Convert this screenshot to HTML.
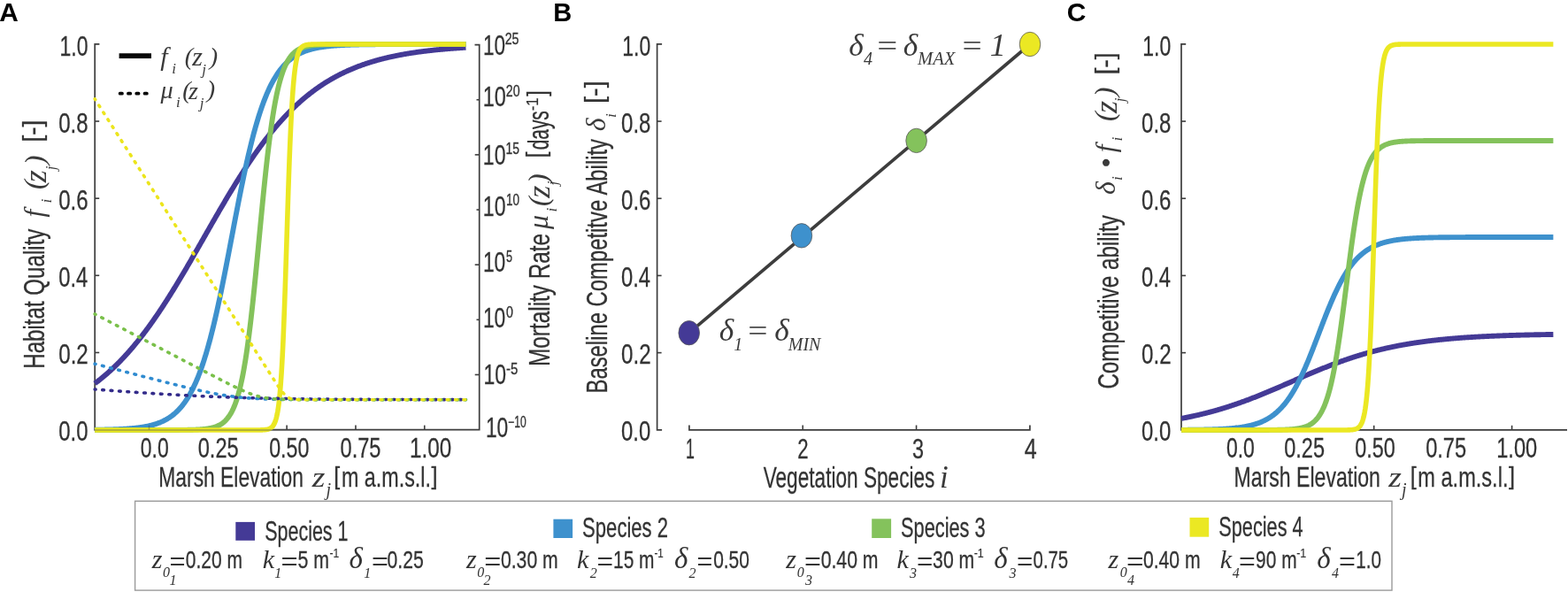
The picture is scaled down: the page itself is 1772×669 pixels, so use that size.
<!DOCTYPE html>
<html><head><meta charset="utf-8"><title>Figure</title>
<style>html,body{margin:0;padding:0;background:#fff;}svg{display:block}</style>
</head><body>
<svg width="1772" height="669" viewBox="0 0 1772 669">
<rect width="1772" height="669" fill="#fff"/>
<text x="-0.75" y="23.90" font-family="'Liberation Sans', Arial, sans-serif" font-size="29.30" font-weight="bold" textLength="21.56" lengthAdjust="spacingAndGlyphs" fill="#000">A</text>
<text x="625.34" y="23.90" font-family="'Liberation Sans', Arial, sans-serif" font-size="29.30" font-weight="bold" textLength="20.96" lengthAdjust="spacingAndGlyphs" fill="#000">B</text>
<text x="1205.80" y="23.90" font-family="'Liberation Sans', Arial, sans-serif" font-size="29.30" font-weight="bold" textLength="21.61" lengthAdjust="spacingAndGlyphs" fill="#000">C</text>
<path d="M112.4,49.9 H107.2 V485.6 H541.7 V50.6 H536.5" fill="none" stroke="#3c3c3c" stroke-width="1.7"/>
<line x1="107.20" y1="398.46" x2="112.20" y2="398.46" stroke="#3c3c3c" stroke-width="1.6"/>
<line x1="107.20" y1="311.32" x2="112.20" y2="311.32" stroke="#3c3c3c" stroke-width="1.6"/>
<line x1="107.20" y1="224.18" x2="112.20" y2="224.18" stroke="#3c3c3c" stroke-width="1.6"/>
<line x1="107.20" y1="137.04" x2="112.20" y2="137.04" stroke="#3c3c3c" stroke-width="1.6"/>
<line x1="168.50" y1="485.60" x2="168.50" y2="480.60" stroke="#3c3c3c" stroke-width="1.6"/>
<line x1="324.12" y1="485.60" x2="324.12" y2="480.60" stroke="#3c3c3c" stroke-width="1.6"/>
<line x1="401.94" y1="485.60" x2="401.94" y2="480.60" stroke="#3c3c3c" stroke-width="1.6"/>
<line x1="479.75" y1="485.60" x2="479.75" y2="480.60" stroke="#3c3c3c" stroke-width="1.6"/>
<line x1="536.70" y1="423.46" x2="541.70" y2="423.46" stroke="#3c3c3c" stroke-width="1.6"/>
<line x1="538.50" y1="361.31" x2="541.70" y2="361.31" stroke="#3c3c3c" stroke-width="1.6"/>
<line x1="536.70" y1="299.17" x2="541.70" y2="299.17" stroke="#3c3c3c" stroke-width="1.6"/>
<line x1="538.50" y1="237.03" x2="541.70" y2="237.03" stroke="#3c3c3c" stroke-width="1.6"/>
<line x1="536.70" y1="174.89" x2="541.70" y2="174.89" stroke="#3c3c3c" stroke-width="1.6"/>
<line x1="538.50" y1="112.74" x2="541.70" y2="112.74" stroke="#3c3c3c" stroke-width="1.6"/>
<text x="66.24" y="498.20" font-family="'Liberation Sans', Arial, sans-serif" font-size="31.20" textLength="33.26" lengthAdjust="spacingAndGlyphs" fill="#333333" stroke="#333333" stroke-width="0.3">0.0</text>
<text x="66.23" y="411.06" font-family="'Liberation Sans', Arial, sans-serif" font-size="31.20" textLength="33.58" lengthAdjust="spacingAndGlyphs" fill="#333333" stroke="#333333" stroke-width="0.3">0.2</text>
<text x="66.25" y="323.92" font-family="'Liberation Sans', Arial, sans-serif" font-size="31.20" textLength="33.01" lengthAdjust="spacingAndGlyphs" fill="#333333" stroke="#333333" stroke-width="0.3">0.4</text>
<text x="66.24" y="236.78" font-family="'Liberation Sans', Arial, sans-serif" font-size="31.20" textLength="33.39" lengthAdjust="spacingAndGlyphs" fill="#333333" stroke="#333333" stroke-width="0.3">0.6</text>
<text x="66.24" y="149.64" font-family="'Liberation Sans', Arial, sans-serif" font-size="31.20" textLength="33.39" lengthAdjust="spacingAndGlyphs" fill="#333333" stroke="#333333" stroke-width="0.3">0.8</text>
<text x="67.47" y="62.50" font-family="'Liberation Sans', Arial, sans-serif" font-size="31.20" textLength="31.99" lengthAdjust="spacingAndGlyphs" fill="#333333" stroke="#333333" stroke-width="0.3">1.0</text>
<text x="158.78" y="517.20" font-family="'Liberation Sans', Arial, sans-serif" font-size="30.60" textLength="31.88" lengthAdjust="spacingAndGlyphs" fill="#333333" stroke="#333333" stroke-width="0.3">0.0</text>
<text x="223.76" y="517.20" font-family="'Liberation Sans', Arial, sans-serif" font-size="30.60" textLength="45.92" lengthAdjust="spacingAndGlyphs" fill="#333333" stroke="#333333" stroke-width="0.3">0.25</text>
<text x="304.17" y="517.20" font-family="'Liberation Sans', Arial, sans-serif" font-size="30.60" textLength="45.13" lengthAdjust="spacingAndGlyphs" fill="#333333" stroke="#333333" stroke-width="0.3">0.50</text>
<text x="384.56" y="517.20" font-family="'Liberation Sans', Arial, sans-serif" font-size="30.60" textLength="45.92" lengthAdjust="spacingAndGlyphs" fill="#333333" stroke="#333333" stroke-width="0.3">0.75</text>
<text x="463.08" y="517.20" font-family="'Liberation Sans', Arial, sans-serif" font-size="30.60" textLength="47.16" lengthAdjust="spacingAndGlyphs" fill="#333333" stroke="#333333" stroke-width="0.3">1.00</text>
<text x="546.01" y="62.10" font-family="'Liberation Sans', Arial, sans-serif" font-size="31.60" textLength="25.09" lengthAdjust="spacingAndGlyphs" fill="#333333" stroke="#333333" stroke-width="0.3">10</text>
<text x="570.69" y="50.10" font-family="'Liberation Sans', Arial, sans-serif" font-size="18.00" textLength="15.81" lengthAdjust="spacingAndGlyphs" fill="#333333" stroke="#333333" stroke-width="0.35">25</text>
<text x="545.84" y="119.80" font-family="'Liberation Sans', Arial, sans-serif" font-size="31.60" textLength="26.09" lengthAdjust="spacingAndGlyphs" fill="#333333" stroke="#333333" stroke-width="0.3">10</text>
<text x="571.79" y="109.00" font-family="'Liberation Sans', Arial, sans-serif" font-size="18.00" textLength="15.77" lengthAdjust="spacingAndGlyphs" fill="#333333" stroke="#333333" stroke-width="0.35">20</text>
<text x="545.87" y="185.60" font-family="'Liberation Sans', Arial, sans-serif" font-size="31.60" textLength="25.65" lengthAdjust="spacingAndGlyphs" fill="#333333" stroke="#333333" stroke-width="0.3">10</text>
<text x="571.46" y="173.80" font-family="'Liberation Sans', Arial, sans-serif" font-size="18.00" textLength="15.43" lengthAdjust="spacingAndGlyphs" fill="#333333" stroke="#333333" stroke-width="0.35">15</text>
<text x="545.87" y="243.50" font-family="'Liberation Sans', Arial, sans-serif" font-size="31.60" textLength="25.65" lengthAdjust="spacingAndGlyphs" fill="#333333" stroke="#333333" stroke-width="0.3">10</text>
<text x="571.98" y="231.70" font-family="'Liberation Sans', Arial, sans-serif" font-size="18.00" textLength="15.05" lengthAdjust="spacingAndGlyphs" fill="#333333" stroke="#333333" stroke-width="0.35">10</text>
<text x="545.89" y="306.60" font-family="'Liberation Sans', Arial, sans-serif" font-size="31.60" textLength="25.42" lengthAdjust="spacingAndGlyphs" fill="#333333" stroke="#333333" stroke-width="0.3">10</text>
<text x="572.09" y="295.80" font-family="'Liberation Sans', Arial, sans-serif" font-size="18.00" textLength="7.03" lengthAdjust="spacingAndGlyphs" fill="#333333" stroke="#333333" stroke-width="0.35">5</text>
<text x="545.89" y="369.50" font-family="'Liberation Sans', Arial, sans-serif" font-size="31.60" textLength="25.42" lengthAdjust="spacingAndGlyphs" fill="#333333" stroke="#333333" stroke-width="0.3">10</text>
<text x="572.03" y="358.90" font-family="'Liberation Sans', Arial, sans-serif" font-size="18.00" textLength="7.92" lengthAdjust="spacingAndGlyphs" fill="#333333" stroke="#333333" stroke-width="0.35">0</text>
<text x="546.48" y="433.70" font-family="'Liberation Sans', Arial, sans-serif" font-size="31.60" textLength="25.54" lengthAdjust="spacingAndGlyphs" fill="#333333" stroke="#333333" stroke-width="0.3">10</text>
<text x="571.93" y="423.40" font-family="'Liberation Sans', Arial, sans-serif" font-size="18.00" textLength="13.30" lengthAdjust="spacingAndGlyphs" fill="#333333" stroke="#333333" stroke-width="0.35">-5</text>
<text x="548.89" y="493.50" font-family="'Liberation Sans', Arial, sans-serif" font-size="31.60" textLength="25.42" lengthAdjust="spacingAndGlyphs" fill="#333333" stroke="#333333" stroke-width="0.3">10</text>
<text x="574.30" y="482.90" font-family="'Liberation Sans', Arial, sans-serif" font-size="18.00" textLength="20.47" lengthAdjust="spacingAndGlyphs" fill="#333333" stroke="#333333" stroke-width="0.35">−10</text>
<polyline points="107.18,433.34 107.78,432.89 108.38,432.44 108.98,431.99 109.58,431.53 110.18,431.07 110.78,430.60 111.38,430.14 111.98,429.67 112.57,429.19 113.17,428.72 113.77,428.24 114.37,427.75 114.97,427.27 115.57,426.77 116.17,426.28 116.77,425.78 117.37,425.28 117.96,424.78 118.56,424.27 119.16,423.76 119.76,423.24 120.36,422.72 120.96,422.20 121.56,421.68 122.16,421.15 122.76,420.61 123.35,420.08 123.95,419.54 124.55,418.99 125.15,418.45 125.75,417.89 126.35,417.34 126.95,416.78 127.55,416.22 128.15,415.65 128.75,415.08 129.34,414.51 129.94,413.93 130.54,413.35 131.14,412.77 131.74,412.18 132.34,411.59 132.94,410.99 133.54,410.39 134.14,409.79 134.73,409.18 135.33,408.57 135.93,407.96 136.53,407.34 137.13,406.72 137.73,406.09 138.33,405.46 138.93,404.83 139.53,404.19 140.13,403.55 140.72,402.90 141.32,402.25 141.92,401.60 142.52,400.95 143.12,400.28 143.72,399.62 144.32,398.95 144.92,398.28 145.52,397.60 146.11,396.92 146.71,396.24 147.31,395.55 147.91,394.86 148.51,394.16 149.11,393.47 149.71,392.76 150.31,392.05 150.91,391.34 151.50,390.63 152.10,389.91 152.70,389.19 153.30,388.46 153.90,387.73 154.50,387.00 155.10,386.26 155.70,385.52 156.30,384.77 156.90,384.02 157.49,383.27 158.09,382.51 158.69,381.75 159.29,380.98 159.89,380.21 160.49,379.44 161.09,378.66 161.69,377.88 162.29,377.10 162.88,376.31 163.48,375.52 164.08,374.72 164.68,373.92 165.28,373.12 165.88,372.32 166.48,371.50 167.08,370.69 167.68,369.87 168.28,369.05 168.87,368.23 169.47,367.40 170.07,366.56 170.67,365.73 171.27,364.89 171.87,364.05 172.47,363.20 173.07,362.35 173.67,361.49 174.26,360.64 174.86,359.77 175.46,358.91 176.06,358.04 176.66,357.17 177.26,356.30 177.86,355.42 178.46,354.54 179.06,353.65 179.65,352.76 180.25,351.87 180.85,350.97 181.45,350.08 182.05,349.17 182.65,348.27 183.25,347.36 183.85,346.45 184.45,345.54 185.05,344.62 185.64,343.70 186.24,342.77 186.84,341.85 187.44,340.92 188.04,339.98 188.64,339.05 189.24,338.11 189.84,337.17 190.44,336.22 191.03,335.28 191.63,334.33 192.23,333.37 192.83,332.42 193.43,331.46 194.03,330.50 194.63,329.53 195.23,328.57 195.83,327.60 196.42,326.63 197.02,325.65 197.62,324.67 198.22,323.70 198.82,322.71 199.42,321.73 200.02,320.74 200.62,319.76 201.22,318.76 201.82,317.77 202.41,316.78 203.01,315.78 203.61,314.78 204.21,313.78 204.81,312.78 205.41,311.77 206.01,310.76 206.61,309.75 207.21,308.74 207.80,307.73 208.40,306.71 209.00,305.70 209.60,304.68 210.20,303.66 210.80,302.64 211.40,301.61 212.00,300.59 212.60,299.56 213.20,298.54 213.79,297.51 214.39,296.48 214.99,295.45 215.59,294.41 216.19,293.38 216.79,292.34 217.39,291.31 217.99,290.27 218.59,289.23 219.18,288.19 219.78,287.15 220.38,286.11 220.98,285.07 221.58,284.03 222.18,282.98 222.78,281.94 223.38,280.90 223.98,279.85 224.57,278.80 225.17,277.76 225.77,276.71 226.37,275.66 226.97,274.62 227.57,273.57 228.17,272.52 228.77,271.47 229.37,270.42 229.97,269.37 230.56,268.33 231.16,267.28 231.76,266.23 232.36,265.18 232.96,264.13 233.56,263.08 234.16,262.03 234.76,260.99 235.36,259.94 235.95,258.89 236.55,257.85 237.15,256.80 237.75,255.75 238.35,254.71 238.95,253.66 239.55,252.62 240.15,251.58 240.75,250.53 241.34,249.49 241.94,248.45 242.54,247.41 243.14,246.37 243.74,245.34 244.34,244.30 244.94,243.26 245.54,242.23 246.14,241.19 246.74,240.16 247.33,239.13 247.93,238.10 248.53,237.07 249.13,236.05 249.73,235.02 250.33,234.00 250.93,232.97 251.53,231.95 252.13,230.93 252.72,229.92 253.32,228.90 253.92,227.89 254.52,226.87 255.12,225.86 255.72,224.86 256.32,223.85 256.92,222.84 257.52,221.84 258.12,220.84 258.71,219.84 259.31,218.85 259.91,217.85 260.51,216.86 261.11,215.87 261.71,214.88 262.31,213.90 262.91,212.91 263.51,211.93 264.10,210.95 264.70,209.98 265.30,209.01 265.90,208.04 266.50,207.07 267.10,206.10 267.70,205.14 268.30,204.18 268.90,203.22 269.49,202.27 270.09,201.31 270.69,200.36 271.29,199.42 271.89,198.48 272.49,197.53 273.09,196.60 273.69,195.66 274.29,194.73 274.89,193.80 275.48,192.88 276.08,191.95 276.68,191.03 277.28,190.12 277.88,189.20 278.48,188.29 279.08,187.39 279.68,186.48 280.28,185.58 280.87,184.69 281.47,183.79 282.07,182.90 282.67,182.01 283.27,181.13 283.87,180.25 284.47,179.37 285.07,178.50 285.67,177.63 286.26,176.76 286.86,175.90 287.46,175.04 288.06,174.18 288.66,173.33 289.26,172.48 289.86,171.63 290.46,170.79 291.06,169.95 291.66,169.12 292.25,168.29 292.85,167.46 293.45,166.64 294.05,165.82 294.65,165.00 295.25,164.19 295.85,163.38 296.45,162.57 297.05,161.77 297.64,160.97 298.24,160.18 298.84,159.39 299.44,158.60 300.04,157.82 300.64,157.04 301.24,156.27 301.84,155.49 302.44,154.73 303.04,153.96 303.63,153.20 304.23,152.45 304.83,151.70 305.43,150.95 306.03,150.20 306.63,149.46 307.23,148.73 307.83,147.99 308.43,147.26 309.02,146.54 309.62,145.82 310.22,145.10 310.82,144.39 311.42,143.68 312.02,142.97 312.62,142.27 313.22,141.57 313.82,140.88 314.41,140.19 315.01,139.50 315.61,138.82 316.21,138.14 316.81,137.46 317.41,136.79 318.01,136.13 318.61,135.46 319.21,134.81 319.81,134.15 320.40,133.50 321.00,132.85 321.60,132.21 322.20,131.57 322.80,130.93 323.40,130.30 324.00,129.67 324.60,129.05 325.20,128.43 325.79,127.81 326.39,127.20 326.99,126.59 327.59,125.98 328.19,125.38 328.79,124.78 329.39,124.19 329.99,123.60 330.59,123.01 331.19,122.43 331.78,121.85 332.38,121.27 332.98,120.70 333.58,120.13 334.18,119.57 334.78,119.01 335.38,118.45 335.98,117.90 336.58,117.35 337.17,116.80 337.77,116.26 338.37,115.72 338.97,115.18 339.57,114.65 340.17,114.12 340.77,113.60 341.37,113.08 341.97,112.56 342.56,112.05 343.16,111.54 343.76,111.03 344.36,110.53 344.96,110.03 345.56,109.53 346.16,109.04 346.76,108.55 347.36,108.06 347.96,107.58 348.55,107.10 349.15,106.63 349.75,106.15 350.35,105.68 350.95,105.22 351.55,104.76 352.15,104.30 352.75,103.84 353.35,103.39 353.94,102.94 354.54,102.49 355.14,102.05 355.74,101.61 356.34,101.18 356.94,100.74 357.54,100.31 358.14,99.89 358.74,99.46 359.33,99.04 359.93,98.63 360.53,98.21 361.13,97.80 361.73,97.39 362.33,96.99 362.93,96.59 363.53,96.19 364.13,95.79 364.73,95.40 365.32,95.01 365.92,94.62 366.52,94.24 367.12,93.86 367.72,93.48 368.32,93.10 368.92,92.73 369.52,92.36 370.12,92.00 370.71,91.63 371.31,91.27 371.91,90.91 372.51,90.56 373.11,90.20 373.71,89.85 374.31,89.51 374.91,89.16 375.51,88.82 376.11,88.48 376.70,88.15 377.30,87.81 377.90,87.48 378.50,87.15 379.10,86.83 379.70,86.51 380.30,86.18 380.90,85.87 381.50,85.55 382.09,85.24 382.69,84.93 383.29,84.62 383.89,84.31 384.49,84.01 385.09,83.71 385.69,83.41 386.29,83.12 386.89,82.82 387.48,82.53 388.08,82.24 388.68,81.96 389.28,81.67 389.88,81.39 390.48,81.11 391.08,80.84 391.68,80.56 392.28,80.29 392.88,80.02 393.47,79.75 394.07,79.49 394.67,79.22 395.27,78.96 395.87,78.70 396.47,78.45 397.07,78.19 397.67,77.94 398.27,77.69 398.86,77.44 399.46,77.19 400.06,76.95 400.66,76.71 401.26,76.47 401.86,76.23 402.46,75.99 403.06,75.76 403.66,75.53 404.25,75.30 404.85,75.07 405.45,74.84 406.05,74.62 406.65,74.39 407.25,74.17 407.85,73.95 408.45,73.74 409.05,73.52 409.65,73.31 410.24,73.10 410.84,72.89 411.44,72.68 412.04,72.48 412.64,72.27 413.24,72.07 413.84,71.87 414.44,71.67 415.04,71.47 415.63,71.28 416.23,71.08 416.83,70.89 417.43,70.70 418.03,70.51 418.63,70.32 419.23,70.14 419.83,69.95 420.43,69.77 421.03,69.59 421.62,69.41 422.22,69.23 422.82,69.06 423.42,68.88 424.02,68.71 424.62,68.54 425.22,68.37 425.82,68.20 426.42,68.03 427.01,67.87 427.61,67.70 428.21,67.54 428.81,67.38 429.41,67.22 430.01,67.06 430.61,66.90 431.21,66.75 431.81,66.59 432.40,66.44 433.00,66.29 433.60,66.14 434.20,65.99 434.80,65.84 435.40,65.70 436.00,65.55 436.60,65.41 437.20,65.27 437.80,65.12 438.39,64.98 438.99,64.85 439.59,64.71 440.19,64.57 440.79,64.44 441.39,64.30 441.99,64.17 442.59,64.04 443.19,63.91 443.78,63.78 444.38,63.65 444.98,63.53 445.58,63.40 446.18,63.28 446.78,63.15 447.38,63.03 447.98,62.91 448.58,62.79 449.18,62.67 449.77,62.55 450.37,62.44 450.97,62.32 451.57,62.21 452.17,62.09 452.77,61.98 453.37,61.87 453.97,61.76 454.57,61.65 455.16,61.54 455.76,61.43 456.36,61.33 456.96,61.22 457.56,61.11 458.16,61.01 458.76,60.91 459.36,60.81 459.96,60.71 460.55,60.61 461.15,60.51 461.75,60.41 462.35,60.31 462.95,60.21 463.55,60.12 464.15,60.02 464.75,59.93 465.35,59.84 465.95,59.75 466.54,59.65 467.14,59.56 467.74,59.47 468.34,59.39 468.94,59.30 469.54,59.21 470.14,59.12 470.74,59.04 471.34,58.95 471.93,58.87 472.53,58.79 473.13,58.70 473.73,58.62 474.33,58.54 474.93,58.46 475.53,58.38 476.13,58.30 476.73,58.22 477.32,58.15 477.92,58.07 478.52,58.00 479.12,57.92 479.72,57.85 480.32,57.77 480.92,57.70 481.52,57.63 482.12,57.55 482.72,57.48 483.31,57.41 483.91,57.34 484.51,57.27 485.11,57.21 485.71,57.14 486.31,57.07 486.91,57.00 487.51,56.94 488.11,56.87 488.70,56.81 489.30,56.74 489.90,56.68 490.50,56.62 491.10,56.55 491.70,56.49 492.30,56.43 492.90,56.37 493.50,56.31 494.10,56.25 494.69,56.19 495.29,56.13 495.89,56.08 496.49,56.02 497.09,55.96 497.69,55.91 498.29,55.85 498.89,55.79 499.49,55.74 500.08,55.69 500.68,55.63 501.28,55.58 501.88,55.53 502.48,55.47 503.08,55.42 503.68,55.37 504.28,55.32 504.88,55.27 505.47,55.22 506.07,55.17 506.67,55.12 507.27,55.07 507.87,55.02 508.47,54.98 509.07,54.93 509.67,54.88 510.27,54.84 510.87,54.79 511.46,54.75 512.06,54.70 512.66,54.66 513.26,54.61 513.86,54.57 514.46,54.53 515.06,54.48 515.66,54.44 516.26,54.40 516.85,54.36 517.45,54.31 518.05,54.27 518.65,54.23 519.25,54.19 519.85,54.15 520.45,54.11 521.05,54.07 521.65,54.04 522.24,54.00 522.84,53.96 523.44,53.92 524.04,53.89 524.64,53.85 525.24,53.81 525.84,53.78 526.44,53.74" fill="none" stroke="#443a96" stroke-width="5.9" stroke-linejoin="round"/>
<polyline points="107.18,485.75 107.78,485.74 108.38,485.73 108.98,485.73 109.58,485.72 110.18,485.71 110.78,485.70 111.38,485.69 111.98,485.68 112.57,485.67 113.17,485.66 113.77,485.65 114.37,485.64 114.97,485.63 115.57,485.62 116.17,485.61 116.77,485.60 117.37,485.59 117.96,485.58 118.56,485.56 119.16,485.55 119.76,485.54 120.36,485.52 120.96,485.51 121.56,485.50 122.16,485.48 122.76,485.47 123.35,485.45 123.95,485.43 124.55,485.42 125.15,485.40 125.75,485.38 126.35,485.37 126.95,485.35 127.55,485.33 128.15,485.31 128.75,485.29 129.34,485.27 129.94,485.25 130.54,485.22 131.14,485.20 131.74,485.18 132.34,485.15 132.94,485.13 133.54,485.10 134.14,485.08 134.73,485.05 135.33,485.02 135.93,484.99 136.53,484.96 137.13,484.93 137.73,484.90 138.33,484.87 138.93,484.84 139.53,484.80 140.13,484.77 140.72,484.73 141.32,484.70 141.92,484.66 142.52,484.62 143.12,484.58 143.72,484.54 144.32,484.50 144.92,484.45 145.52,484.41 146.11,484.36 146.71,484.31 147.31,484.26 147.91,484.21 148.51,484.16 149.11,484.11 149.71,484.05 150.31,483.99 150.91,483.94 151.50,483.88 152.10,483.81 152.70,483.75 153.30,483.68 153.90,483.62 154.50,483.55 155.10,483.48 155.70,483.40 156.30,483.33 156.90,483.25 157.49,483.17 158.09,483.09 158.69,483.00 159.29,482.91 159.89,482.82 160.49,482.73 161.09,482.64 161.69,482.54 162.29,482.44 162.88,482.34 163.48,482.23 164.08,482.12 164.68,482.01 165.28,481.89 165.88,481.77 166.48,481.65 167.08,481.52 167.68,481.39 168.28,481.26 168.87,481.12 169.47,480.98 170.07,480.84 170.67,480.69 171.27,480.53 171.87,480.38 172.47,480.21 173.07,480.05 173.67,479.87 174.26,479.70 174.86,479.52 175.46,479.33 176.06,479.14 176.66,478.94 177.26,478.74 177.86,478.53 178.46,478.31 179.06,478.09 179.65,477.86 180.25,477.63 180.85,477.39 181.45,477.14 182.05,476.89 182.65,476.63 183.25,476.36 183.85,476.08 184.45,475.80 185.05,475.51 185.64,475.21 186.24,474.90 186.84,474.58 187.44,474.26 188.04,473.92 188.64,473.58 189.24,473.23 189.84,472.86 190.44,472.49 191.03,472.11 191.63,471.72 192.23,471.31 192.83,470.90 193.43,470.47 194.03,470.03 194.63,469.58 195.23,469.12 195.83,468.64 196.42,468.16 197.02,467.66 197.62,467.14 198.22,466.61 198.82,466.07 199.42,465.52 200.02,464.95 200.62,464.36 201.22,463.76 201.82,463.14 202.41,462.51 203.01,461.86 203.61,461.19 204.21,460.51 204.81,459.81 205.41,459.09 206.01,458.35 206.61,457.59 207.21,456.81 207.80,456.02 208.40,455.20 209.00,454.37 209.60,453.51 210.20,452.63 210.80,451.73 211.40,450.81 212.00,449.86 212.60,448.89 213.20,447.90 213.79,446.89 214.39,445.85 214.99,444.78 215.59,443.69 216.19,442.58 216.79,441.43 217.39,440.27 217.99,439.07 218.59,437.85 219.18,436.60 219.78,435.32 220.38,434.01 220.98,432.68 221.58,431.31 222.18,429.91 222.78,428.49 223.38,427.03 223.98,425.54 224.57,424.03 225.17,422.47 225.77,420.89 226.37,419.28 226.97,417.63 227.57,415.95 228.17,414.24 228.77,412.49 229.37,410.71 229.97,408.89 230.56,407.04 231.16,405.16 231.76,403.24 232.36,401.29 232.96,399.30 233.56,397.28 234.16,395.22 234.76,393.13 235.36,391.00 235.95,388.84 236.55,386.64 237.15,384.41 237.75,382.15 238.35,379.84 238.95,377.51 239.55,375.14 240.15,372.74 240.75,370.30 241.34,367.83 241.94,365.33 242.54,362.79 243.14,360.23 243.74,357.63 244.34,355.00 244.94,352.34 245.54,349.65 246.14,346.93 246.74,344.18 247.33,341.40 247.93,338.60 248.53,335.77 249.13,332.92 249.73,330.04 250.33,327.13 250.93,324.21 251.53,321.26 252.13,318.29 252.72,315.30 253.32,312.30 253.92,309.27 254.52,306.23 255.12,303.17 255.72,300.10 256.32,297.02 256.92,293.92 257.52,290.81 258.12,287.70 258.71,284.57 259.31,281.44 259.91,278.30 260.51,275.16 261.11,272.02 261.71,268.87 262.31,265.73 262.91,262.58 263.51,259.44 264.10,256.30 264.70,253.17 265.30,250.04 265.90,246.92 266.50,243.80 267.10,240.70 267.70,237.61 268.30,234.53 268.90,231.47 269.49,228.42 270.09,225.38 270.69,222.37 271.29,219.37 271.89,216.39 272.49,213.43 273.09,210.49 273.69,207.57 274.29,204.68 274.89,201.81 275.48,198.97 276.08,196.15 276.68,193.36 277.28,190.60 277.88,187.86 278.48,185.15 279.08,182.48 279.68,179.83 280.28,177.21 280.87,174.63 281.47,172.08 282.07,169.56 282.67,167.07 283.27,164.61 283.87,162.19 284.47,159.80 285.07,157.45 285.67,155.13 286.26,152.84 286.86,150.59 287.46,148.37 288.06,146.19 288.66,144.05 289.26,141.94 289.86,139.86 290.46,137.82 291.06,135.81 291.66,133.84 292.25,131.90 292.85,130.00 293.45,128.13 294.05,126.30 294.65,124.50 295.25,122.73 295.85,121.00 296.45,119.30 297.05,117.63 297.64,116.00 298.24,114.40 298.84,112.83 299.44,111.30 300.04,109.79 300.64,108.32 301.24,106.87 301.84,105.46 302.44,104.08 303.04,102.73 303.63,101.40 304.23,100.11 304.83,98.84 305.43,97.61 306.03,96.39 306.63,95.21 307.23,94.06 307.83,92.93 308.43,91.82 309.02,90.74 309.62,89.69 310.22,88.66 310.82,87.65 311.42,86.67 312.02,85.72 312.62,84.78 313.22,83.87 313.82,82.98 314.41,82.11 315.01,81.26 315.61,80.43 316.21,79.63 316.81,78.84 317.41,78.07 318.01,77.32 318.61,76.59 319.21,75.88 319.81,75.19 320.40,74.51 321.00,73.85 321.60,73.21 322.20,72.58 322.80,71.97 323.40,71.38 324.00,70.80 324.60,70.23 325.20,69.68 325.79,69.15 326.39,68.63 326.99,68.12 327.59,67.63 328.19,67.14 328.79,66.67 329.39,66.22 329.99,65.77 330.59,65.34 331.19,64.92 331.78,64.51 332.38,64.11 332.98,63.72 333.58,63.34 334.18,62.97 334.78,62.61 335.38,62.27 335.98,61.93 336.58,61.60 337.17,61.27 337.77,60.96 338.37,60.66 338.97,60.36 339.57,60.07 340.17,59.79 340.77,59.52 341.37,59.26 341.97,59.00 342.56,58.75 343.16,58.50 343.76,58.27 344.36,58.03 344.96,57.81 345.56,57.59 346.16,57.38 346.76,57.17 347.36,56.97 347.96,56.78 348.55,56.59 349.15,56.40 349.75,56.22 350.35,56.05 350.95,55.88 351.55,55.71 352.15,55.55 352.75,55.40 353.35,55.25 353.94,55.10 354.54,54.95 355.14,54.81 355.74,54.68 356.34,54.55 356.94,54.42 357.54,54.30 358.14,54.17 358.74,54.06 359.33,53.94 359.93,53.83 360.53,53.72 361.13,53.62 361.73,53.52 362.33,53.42 362.93,53.32 363.53,53.23 364.13,53.14 364.73,53.05 365.32,52.96 365.92,52.88 366.52,52.80 367.12,52.72 367.72,52.64 368.32,52.56 368.92,52.49 369.52,52.42 370.12,52.35 370.71,52.29 371.31,52.22 371.91,52.16 372.51,52.10 373.11,52.04 373.71,51.98 374.31,51.92 374.91,51.87 375.51,51.82 376.11,51.77 376.70,51.72 377.30,51.67 377.90,51.62 378.50,51.57 379.10,51.53 379.70,51.49 380.30,51.44 380.90,51.40 381.50,51.36 382.09,51.32 382.69,51.29 383.29,51.25 383.89,51.21 384.49,51.18 385.09,51.15 385.69,51.11 386.29,51.08 386.89,51.05 387.48,51.02 388.08,50.99 388.68,50.96 389.28,50.94 389.88,50.91 390.48,50.88 391.08,50.86 391.68,50.84 392.28,50.81 392.88,50.79 393.47,50.77 394.07,50.74 394.67,50.72 395.27,50.70 395.87,50.68 396.47,50.66 397.07,50.64 397.67,50.63 398.27,50.61 398.86,50.59 399.46,50.57 400.06,50.56 400.66,50.54 401.26,50.53 401.86,50.51 402.46,50.50 403.06,50.48 403.66,50.47 404.25,50.46 404.85,50.44 405.45,50.43 406.05,50.42 406.65,50.41 407.25,50.39 407.85,50.38 408.45,50.37 409.05,50.36 409.65,50.35 410.24,50.34 410.84,50.33 411.44,50.32 412.04,50.31 412.64,50.30 413.24,50.30 413.84,50.29 414.44,50.28 415.04,50.27 415.63,50.26 416.23,50.26 416.83,50.25 417.43,50.24 418.03,50.23 418.63,50.23 419.23,50.22 419.83,50.22 420.43,50.21 421.03,50.20 421.62,50.20 422.22,50.19 422.82,50.19 423.42,50.18 424.02,50.18 424.62,50.17 425.22,50.17 425.82,50.16 426.42,50.16 427.01,50.15 427.61,50.15 428.21,50.14 428.81,50.14 429.41,50.14 430.01,50.13 430.61,50.13 431.21,50.12 431.81,50.12 432.40,50.12 433.00,50.11 433.60,50.11 434.20,50.11 434.80,50.10 435.40,50.10 436.00,50.10 436.60,50.10 437.20,50.09 437.80,50.09 438.39,50.09 438.99,50.09 439.59,50.08 440.19,50.08 440.79,50.08 441.39,50.08 441.99,50.07 442.59,50.07 443.19,50.07 443.78,50.07 444.38,50.07 444.98,50.06 445.58,50.06 446.18,50.06 446.78,50.06 447.38,50.06 447.98,50.06 448.58,50.05 449.18,50.05 449.77,50.05 450.37,50.05 450.97,50.05 451.57,50.05 452.17,50.05 452.77,50.04 453.37,50.04 453.97,50.04 454.57,50.04 455.16,50.04 455.76,50.04 456.36,50.04 456.96,50.04 457.56,50.03 458.16,50.03 458.76,50.03 459.36,50.03 459.96,50.03 460.55,50.03 461.15,50.03 461.75,50.03 462.35,50.03 462.95,50.03 463.55,50.03 464.15,50.03 464.75,50.02 465.35,50.02 465.95,50.02 466.54,50.02 467.14,50.02 467.74,50.02 468.34,50.02 468.94,50.02 469.54,50.02 470.14,50.02 470.74,50.02 471.34,50.02 471.93,50.02 472.53,50.02 473.13,50.02 473.73,50.02 474.33,50.02 474.93,50.02 475.53,50.01 476.13,50.01 476.73,50.01 477.32,50.01 477.92,50.01 478.52,50.01 479.12,50.01 479.72,50.01 480.32,50.01 480.92,50.01 481.52,50.01 482.12,50.01 482.72,50.01 483.31,50.01 483.91,50.01 484.51,50.01 485.11,50.01 485.71,50.01 486.31,50.01 486.91,50.01 487.51,50.01 488.11,50.01 488.70,50.01 489.30,50.01 489.90,50.01 490.50,50.01 491.10,50.01 491.70,50.01 492.30,50.01 492.90,50.01 493.50,50.01 494.10,50.01 494.69,50.01 495.29,50.01 495.89,50.01 496.49,50.01 497.09,50.01 497.69,50.01 498.29,50.00 498.89,50.00 499.49,50.00 500.08,50.00 500.68,50.00 501.28,50.00 501.88,50.00 502.48,50.00 503.08,50.00 503.68,50.00 504.28,50.00 504.88,50.00 505.47,50.00 506.07,50.00 506.67,50.00 507.27,50.00 507.87,50.00 508.47,50.00 509.07,50.00 509.67,50.00 510.27,50.00 510.87,50.00 511.46,50.00 512.06,50.00 512.66,50.00 513.26,50.00 513.86,50.00 514.46,50.00 515.06,50.00 515.66,50.00 516.26,50.00 516.85,50.00 517.45,50.00 518.05,50.00 518.65,50.00 519.25,50.00 519.85,50.00 520.45,50.00 521.05,50.00 521.65,50.00 522.24,50.00 522.84,50.00 523.44,50.00 524.04,50.00 524.64,50.00 525.24,50.00 525.84,50.00 526.44,50.00" fill="none" stroke="#3e91cd" stroke-width="5.9" stroke-linejoin="round"/>
<polyline points="107.18,486.00 107.78,486.00 108.38,486.00 108.98,486.00 109.58,486.00 110.18,486.00 110.78,486.00 111.38,486.00 111.98,486.00 112.57,486.00 113.17,486.00 113.77,486.00 114.37,486.00 114.97,486.00 115.57,486.00 116.17,486.00 116.77,486.00 117.37,486.00 117.96,486.00 118.56,486.00 119.16,486.00 119.76,486.00 120.36,486.00 120.96,486.00 121.56,486.00 122.16,486.00 122.76,486.00 123.35,486.00 123.95,486.00 124.55,486.00 125.15,486.00 125.75,486.00 126.35,486.00 126.95,486.00 127.55,486.00 128.15,486.00 128.75,486.00 129.34,486.00 129.94,486.00 130.54,486.00 131.14,486.00 131.74,486.00 132.34,486.00 132.94,486.00 133.54,486.00 134.14,486.00 134.73,486.00 135.33,486.00 135.93,486.00 136.53,486.00 137.13,486.00 137.73,486.00 138.33,486.00 138.93,486.00 139.53,486.00 140.13,486.00 140.72,486.00 141.32,486.00 141.92,486.00 142.52,486.00 143.12,486.00 143.72,486.00 144.32,486.00 144.92,486.00 145.52,486.00 146.11,486.00 146.71,486.00 147.31,486.00 147.91,486.00 148.51,486.00 149.11,486.00 149.71,486.00 150.31,486.00 150.91,486.00 151.50,486.00 152.10,486.00 152.70,486.00 153.30,486.00 153.90,486.00 154.50,486.00 155.10,486.00 155.70,486.00 156.30,486.00 156.90,486.00 157.49,486.00 158.09,486.00 158.69,486.00 159.29,486.00 159.89,486.00 160.49,486.00 161.09,486.00 161.69,486.00 162.29,486.00 162.88,486.00 163.48,486.00 164.08,486.00 164.68,486.00 165.28,486.00 165.88,486.00 166.48,486.00 167.08,486.00 167.68,486.00 168.28,486.00 168.87,486.00 169.47,486.00 170.07,486.00 170.67,486.00 171.27,486.00 171.87,486.00 172.47,486.00 173.07,486.00 173.67,486.00 174.26,486.00 174.86,486.00 175.46,485.99 176.06,485.99 176.66,485.99 177.26,485.99 177.86,485.99 178.46,485.99 179.06,485.99 179.65,485.99 180.25,485.99 180.85,485.99 181.45,485.99 182.05,485.99 182.65,485.99 183.25,485.99 183.85,485.99 184.45,485.99 185.05,485.99 185.64,485.99 186.24,485.99 186.84,485.98 187.44,485.98 188.04,485.98 188.64,485.98 189.24,485.98 189.84,485.98 190.44,485.98 191.03,485.98 191.63,485.98 192.23,485.97 192.83,485.97 193.43,485.97 194.03,485.97 194.63,485.97 195.23,485.96 195.83,485.96 196.42,485.96 197.02,485.96 197.62,485.96 198.22,485.95 198.82,485.95 199.42,485.95 200.02,485.94 200.62,485.94 201.22,485.94 201.82,485.93 202.41,485.93 203.01,485.93 203.61,485.92 204.21,485.92 204.81,485.91 205.41,485.91 206.01,485.90 206.61,485.89 207.21,485.89 207.80,485.88 208.40,485.87 209.00,485.87 209.60,485.86 210.20,485.85 210.80,485.84 211.40,485.83 212.00,485.82 212.60,485.81 213.20,485.80 213.79,485.79 214.39,485.78 214.99,485.76 215.59,485.75 216.19,485.73 216.79,485.72 217.39,485.70 217.99,485.68 218.59,485.67 219.18,485.65 219.78,485.62 220.38,485.60 220.98,485.58 221.58,485.55 222.18,485.53 222.78,485.50 223.38,485.47 223.98,485.44 224.57,485.40 225.17,485.37 225.77,485.33 226.37,485.29 226.97,485.25 227.57,485.21 228.17,485.16 228.77,485.11 229.37,485.06 229.97,485.00 230.56,484.94 231.16,484.88 231.76,484.81 232.36,484.74 232.96,484.67 233.56,484.59 234.16,484.50 234.76,484.42 235.36,484.32 235.95,484.22 236.55,484.12 237.15,484.01 237.75,483.89 238.35,483.76 238.95,483.63 239.55,483.49 240.15,483.34 240.75,483.19 241.34,483.02 241.94,482.84 242.54,482.66 243.14,482.46 243.74,482.25 244.34,482.03 244.94,481.80 245.54,481.55 246.14,481.29 246.74,481.01 247.33,480.72 247.93,480.41 248.53,480.08 249.13,479.74 249.73,479.37 250.33,478.98 250.93,478.57 251.53,478.14 252.13,477.68 252.72,477.20 253.32,476.68 253.92,476.14 254.52,475.57 255.12,474.97 255.72,474.33 256.32,473.65 256.92,472.94 257.52,472.19 258.12,471.40 258.71,470.56 259.31,469.68 259.91,468.75 260.51,467.76 261.11,466.73 261.71,465.64 262.31,464.49 262.91,463.27 263.51,462.00 264.10,460.65 264.70,459.24 265.30,457.75 265.90,456.19 266.50,454.54 267.10,452.82 267.70,451.00 268.30,449.10 268.90,447.10 269.49,445.01 270.09,442.81 270.69,440.52 271.29,438.11 271.89,435.59 272.49,432.96 273.09,430.21 273.69,427.34 274.29,424.35 274.89,421.23 275.48,417.98 276.08,414.60 276.68,411.09 277.28,407.44 277.88,403.65 278.48,399.73 279.08,395.66 279.68,391.46 280.28,387.11 280.87,382.63 281.47,378.01 282.07,373.25 282.67,368.36 283.27,363.33 283.87,358.18 284.47,352.90 285.07,347.51 285.67,341.99 286.26,336.37 286.86,330.65 287.46,324.83 288.06,318.92 288.66,312.94 289.26,306.88 289.86,300.75 290.46,294.58 291.06,288.36 291.66,282.11 292.25,275.83 292.85,269.54 293.45,263.25 294.05,256.97 294.65,250.70 295.25,244.46 295.85,238.27 296.45,232.12 297.05,226.03 297.64,220.00 298.24,214.05 298.84,208.19 299.44,202.42 300.04,196.75 300.64,191.18 301.24,185.73 301.84,180.39 302.44,175.18 303.04,170.09 303.63,165.13 304.23,160.31 304.83,155.62 305.43,151.07 306.03,146.65 306.63,142.38 307.23,138.25 307.83,134.25 308.43,130.40 309.02,126.68 309.62,123.10 310.22,119.66 310.82,116.34 311.42,113.16 312.02,110.11 312.62,107.18 313.22,104.37 313.82,101.68 314.41,99.11 315.01,96.65 315.61,94.30 316.21,92.05 316.81,89.91 317.41,87.87 318.01,85.92 318.61,84.06 319.21,82.29 319.81,80.61 320.40,79.00 321.00,77.48 321.60,76.03 322.20,74.65 322.80,73.34 323.40,72.10 324.00,70.92 324.60,69.80 325.20,68.74 325.79,67.73 326.39,66.77 326.99,65.87 327.59,65.01 328.19,64.19 328.79,63.42 329.39,62.69 329.99,62.00 330.59,61.34 331.19,60.72 331.78,60.13 332.38,59.58 332.98,59.05 333.58,58.55 334.18,58.08 334.78,57.64 335.38,57.22 335.98,56.82 336.58,56.44 337.17,56.08 337.77,55.75 338.37,55.43 338.97,55.13 339.57,54.84 340.17,54.58 340.77,54.32 341.37,54.08 341.97,53.85 342.56,53.64 343.16,53.44 343.76,53.25 344.36,53.07 344.96,52.89 345.56,52.73 346.16,52.58 346.76,52.44 347.36,52.30 347.96,52.17 348.55,52.05 349.15,51.94 349.75,51.83 350.35,51.73 350.95,51.63 351.55,51.54 352.15,51.45 352.75,51.37 353.35,51.29 353.94,51.22 354.54,51.15 355.14,51.09 355.74,51.03 356.34,50.97 356.94,50.92 357.54,50.87 358.14,50.82 358.74,50.77 359.33,50.73 359.93,50.69 360.53,50.65 361.13,50.61 361.73,50.58 362.33,50.55 362.93,50.51 363.53,50.49 364.13,50.46 364.73,50.43 365.32,50.41 365.92,50.39 366.52,50.36 367.12,50.34 367.72,50.32 368.32,50.31 368.92,50.29 369.52,50.27 370.12,50.26 370.71,50.24 371.31,50.23 371.91,50.22 372.51,50.20 373.11,50.19 373.71,50.18 374.31,50.17 374.91,50.16 375.51,50.15 376.11,50.14 376.70,50.14 377.30,50.13 377.90,50.12 378.50,50.11 379.10,50.11 379.70,50.10 380.30,50.10 380.90,50.09 381.50,50.09 382.09,50.08 382.69,50.08 383.29,50.07 383.89,50.07 384.49,50.06 385.09,50.06 385.69,50.06 386.29,50.05 386.89,50.05 387.48,50.05 388.08,50.05 388.68,50.04 389.28,50.04 389.88,50.04 390.48,50.04 391.08,50.03 391.68,50.03 392.28,50.03 392.88,50.03 393.47,50.03 394.07,50.03 394.67,50.02 395.27,50.02 395.87,50.02 396.47,50.02 397.07,50.02 397.67,50.02 398.27,50.02 398.86,50.02 399.46,50.02 400.06,50.01 400.66,50.01 401.26,50.01 401.86,50.01 402.46,50.01 403.06,50.01 403.66,50.01 404.25,50.01 404.85,50.01 405.45,50.01 406.05,50.01 406.65,50.01 407.25,50.01 407.85,50.01 408.45,50.01 409.05,50.01 409.65,50.01 410.24,50.01 410.84,50.01 411.44,50.00 412.04,50.00 412.64,50.00 413.24,50.00 413.84,50.00 414.44,50.00 415.04,50.00 415.63,50.00 416.23,50.00 416.83,50.00 417.43,50.00 418.03,50.00 418.63,50.00 419.23,50.00 419.83,50.00 420.43,50.00 421.03,50.00 421.62,50.00 422.22,50.00 422.82,50.00 423.42,50.00 424.02,50.00 424.62,50.00 425.22,50.00 425.82,50.00 426.42,50.00 427.01,50.00 427.61,50.00 428.21,50.00 428.81,50.00 429.41,50.00 430.01,50.00 430.61,50.00 431.21,50.00 431.81,50.00 432.40,50.00 433.00,50.00 433.60,50.00 434.20,50.00 434.80,50.00 435.40,50.00 436.00,50.00 436.60,50.00 437.20,50.00 437.80,50.00 438.39,50.00 438.99,50.00 439.59,50.00 440.19,50.00 440.79,50.00 441.39,50.00 441.99,50.00 442.59,50.00 443.19,50.00 443.78,50.00 444.38,50.00 444.98,50.00 445.58,50.00 446.18,50.00 446.78,50.00 447.38,50.00 447.98,50.00 448.58,50.00 449.18,50.00 449.77,50.00 450.37,50.00 450.97,50.00 451.57,50.00 452.17,50.00 452.77,50.00 453.37,50.00 453.97,50.00 454.57,50.00 455.16,50.00 455.76,50.00 456.36,50.00 456.96,50.00 457.56,50.00 458.16,50.00 458.76,50.00 459.36,50.00 459.96,50.00 460.55,50.00 461.15,50.00 461.75,50.00 462.35,50.00 462.95,50.00 463.55,50.00 464.15,50.00 464.75,50.00 465.35,50.00 465.95,50.00 466.54,50.00 467.14,50.00 467.74,50.00 468.34,50.00 468.94,50.00 469.54,50.00 470.14,50.00 470.74,50.00 471.34,50.00 471.93,50.00 472.53,50.00 473.13,50.00 473.73,50.00 474.33,50.00 474.93,50.00 475.53,50.00 476.13,50.00 476.73,50.00 477.32,50.00 477.92,50.00 478.52,50.00 479.12,50.00 479.72,50.00 480.32,50.00 480.92,50.00 481.52,50.00 482.12,50.00 482.72,50.00 483.31,50.00 483.91,50.00 484.51,50.00 485.11,50.00 485.71,50.00 486.31,50.00 486.91,50.00 487.51,50.00 488.11,50.00 488.70,50.00 489.30,50.00 489.90,50.00 490.50,50.00 491.10,50.00 491.70,50.00 492.30,50.00 492.90,50.00 493.50,50.00 494.10,50.00 494.69,50.00 495.29,50.00 495.89,50.00 496.49,50.00 497.09,50.00 497.69,50.00 498.29,50.00 498.89,50.00 499.49,50.00 500.08,50.00 500.68,50.00 501.28,50.00 501.88,50.00 502.48,50.00 503.08,50.00 503.68,50.00 504.28,50.00 504.88,50.00 505.47,50.00 506.07,50.00 506.67,50.00 507.27,50.00 507.87,50.00 508.47,50.00 509.07,50.00 509.67,50.00 510.27,50.00 510.87,50.00 511.46,50.00 512.06,50.00 512.66,50.00 513.26,50.00 513.86,50.00 514.46,50.00 515.06,50.00 515.66,50.00 516.26,50.00 516.85,50.00 517.45,50.00 518.05,50.00 518.65,50.00 519.25,50.00 519.85,50.00 520.45,50.00 521.05,50.00 521.65,50.00 522.24,50.00 522.84,50.00 523.44,50.00 524.04,50.00 524.64,50.00 525.24,50.00 525.84,50.00 526.44,50.00" fill="none" stroke="#84c25c" stroke-width="5.9" stroke-linejoin="round"/>
<polyline points="107.18,486.00 107.78,486.00 108.38,486.00 108.98,486.00 109.58,486.00 110.18,486.00 110.78,486.00 111.38,486.00 111.98,486.00 112.57,486.00 113.17,486.00 113.77,486.00 114.37,486.00 114.97,486.00 115.57,486.00 116.17,486.00 116.77,486.00 117.37,486.00 117.96,486.00 118.56,486.00 119.16,486.00 119.76,486.00 120.36,486.00 120.96,486.00 121.56,486.00 122.16,486.00 122.76,486.00 123.35,486.00 123.95,486.00 124.55,486.00 125.15,486.00 125.75,486.00 126.35,486.00 126.95,486.00 127.55,486.00 128.15,486.00 128.75,486.00 129.34,486.00 129.94,486.00 130.54,486.00 131.14,486.00 131.74,486.00 132.34,486.00 132.94,486.00 133.54,486.00 134.14,486.00 134.73,486.00 135.33,486.00 135.93,486.00 136.53,486.00 137.13,486.00 137.73,486.00 138.33,486.00 138.93,486.00 139.53,486.00 140.13,486.00 140.72,486.00 141.32,486.00 141.92,486.00 142.52,486.00 143.12,486.00 143.72,486.00 144.32,486.00 144.92,486.00 145.52,486.00 146.11,486.00 146.71,486.00 147.31,486.00 147.91,486.00 148.51,486.00 149.11,486.00 149.71,486.00 150.31,486.00 150.91,486.00 151.50,486.00 152.10,486.00 152.70,486.00 153.30,486.00 153.90,486.00 154.50,486.00 155.10,486.00 155.70,486.00 156.30,486.00 156.90,486.00 157.49,486.00 158.09,486.00 158.69,486.00 159.29,486.00 159.89,486.00 160.49,486.00 161.09,486.00 161.69,486.00 162.29,486.00 162.88,486.00 163.48,486.00 164.08,486.00 164.68,486.00 165.28,486.00 165.88,486.00 166.48,486.00 167.08,486.00 167.68,486.00 168.28,486.00 168.87,486.00 169.47,486.00 170.07,486.00 170.67,486.00 171.27,486.00 171.87,486.00 172.47,486.00 173.07,486.00 173.67,486.00 174.26,486.00 174.86,486.00 175.46,486.00 176.06,486.00 176.66,486.00 177.26,486.00 177.86,486.00 178.46,486.00 179.06,486.00 179.65,486.00 180.25,486.00 180.85,486.00 181.45,486.00 182.05,486.00 182.65,486.00 183.25,486.00 183.85,486.00 184.45,486.00 185.05,486.00 185.64,486.00 186.24,486.00 186.84,486.00 187.44,486.00 188.04,486.00 188.64,486.00 189.24,486.00 189.84,486.00 190.44,486.00 191.03,486.00 191.63,486.00 192.23,486.00 192.83,486.00 193.43,486.00 194.03,486.00 194.63,486.00 195.23,486.00 195.83,486.00 196.42,486.00 197.02,486.00 197.62,486.00 198.22,486.00 198.82,486.00 199.42,486.00 200.02,486.00 200.62,486.00 201.22,486.00 201.82,486.00 202.41,486.00 203.01,486.00 203.61,486.00 204.21,486.00 204.81,486.00 205.41,486.00 206.01,486.00 206.61,486.00 207.21,486.00 207.80,486.00 208.40,486.00 209.00,486.00 209.60,486.00 210.20,486.00 210.80,486.00 211.40,486.00 212.00,486.00 212.60,486.00 213.20,486.00 213.79,486.00 214.39,486.00 214.99,486.00 215.59,486.00 216.19,486.00 216.79,486.00 217.39,486.00 217.99,486.00 218.59,486.00 219.18,486.00 219.78,486.00 220.38,486.00 220.98,486.00 221.58,486.00 222.18,486.00 222.78,486.00 223.38,486.00 223.98,486.00 224.57,486.00 225.17,486.00 225.77,486.00 226.37,486.00 226.97,486.00 227.57,486.00 228.17,486.00 228.77,486.00 229.37,486.00 229.97,486.00 230.56,486.00 231.16,486.00 231.76,486.00 232.36,486.00 232.96,486.00 233.56,486.00 234.16,486.00 234.76,486.00 235.36,486.00 235.95,486.00 236.55,486.00 237.15,486.00 237.75,486.00 238.35,486.00 238.95,486.00 239.55,486.00 240.15,486.00 240.75,486.00 241.34,486.00 241.94,486.00 242.54,486.00 243.14,486.00 243.74,486.00 244.34,486.00 244.94,486.00 245.54,486.00 246.14,486.00 246.74,486.00 247.33,486.00 247.93,486.00 248.53,486.00 249.13,486.00 249.73,486.00 250.33,486.00 250.93,486.00 251.53,486.00 252.13,486.00 252.72,486.00 253.32,486.00 253.92,486.00 254.52,486.00 255.12,486.00 255.72,486.00 256.32,486.00 256.92,486.00 257.52,486.00 258.12,486.00 258.71,486.00 259.31,486.00 259.91,486.00 260.51,486.00 261.11,486.00 261.71,486.00 262.31,486.00 262.91,486.00 263.51,486.00 264.10,486.00 264.70,486.00 265.30,486.00 265.90,486.00 266.50,486.00 267.10,486.00 267.70,486.00 268.30,486.00 268.90,486.00 269.49,486.00 270.09,486.00 270.69,486.00 271.29,486.00 271.89,486.00 272.49,486.00 273.09,486.00 273.69,486.00 274.29,486.00 274.89,486.00 275.48,486.00 276.08,486.00 276.68,486.00 277.28,486.00 277.88,486.00 278.48,486.00 279.08,486.00 279.68,486.00 280.28,486.00 280.87,486.00 281.47,486.00 282.07,486.00 282.67,486.00 283.27,486.00 283.87,486.00 284.47,486.00 285.07,485.99 285.67,485.99 286.26,485.99 286.86,485.99 287.46,485.99 288.06,485.99 288.66,485.98 289.26,485.98 289.86,485.98 290.46,485.97 291.06,485.97 291.66,485.96 292.25,485.96 292.85,485.95 293.45,485.94 294.05,485.93 294.65,485.91 295.25,485.90 295.85,485.88 296.45,485.85 297.05,485.83 297.64,485.79 298.24,485.76 298.84,485.71 299.44,485.65 300.04,485.59 300.64,485.51 301.24,485.42 301.84,485.31 302.44,485.18 303.04,485.02 303.63,484.84 304.23,484.62 304.83,484.36 305.43,484.05 306.03,483.68 306.63,483.25 307.23,482.73 307.83,482.12 308.43,481.39 309.02,480.53 309.62,479.52 310.22,478.31 310.82,476.89 311.42,475.21 312.02,473.23 312.62,470.89 313.22,468.15 313.82,464.94 314.41,461.19 315.01,456.81 315.61,451.73 316.21,445.84 316.81,439.07 317.41,431.30 318.01,422.47 318.61,412.48 319.21,401.28 319.81,388.83 320.40,375.13 321.00,360.22 321.60,344.17 322.20,327.12 322.80,309.26 323.40,290.80 324.00,272.01 324.60,253.15 325.20,234.52 325.79,216.38 326.39,198.96 326.99,182.47 327.59,167.06 328.19,152.83 328.79,139.85 329.39,128.12 329.99,117.63 330.59,108.31 331.19,100.10 331.78,92.92 332.38,86.67 332.98,81.26 333.58,76.59 334.18,72.58 334.78,69.15 335.38,66.22 335.98,63.72 336.58,61.59 337.17,59.79 337.77,58.26 338.37,56.97 338.97,55.88 339.57,54.95 340.17,54.17 340.77,53.52 341.37,52.96 341.97,52.49 342.56,52.10 343.16,51.77 343.76,51.49 344.36,51.25 344.96,51.05 345.56,50.88 346.16,50.74 346.76,50.63 347.36,50.53 347.96,50.44 348.55,50.37 349.15,50.31 349.75,50.26 350.35,50.22 350.95,50.19 351.55,50.16 352.15,50.13 352.75,50.11 353.35,50.09 353.94,50.08 354.54,50.07 355.14,50.06 355.74,50.05 356.34,50.04 356.94,50.03 357.54,50.03 358.14,50.02 358.74,50.02 359.33,50.02 359.93,50.01 360.53,50.01 361.13,50.01 361.73,50.01 362.33,50.01 362.93,50.01 363.53,50.00 364.13,50.00 364.73,50.00 365.32,50.00 365.92,50.00 366.52,50.00 367.12,50.00 367.72,50.00 368.32,50.00 368.92,50.00 369.52,50.00 370.12,50.00 370.71,50.00 371.31,50.00 371.91,50.00 372.51,50.00 373.11,50.00 373.71,50.00 374.31,50.00 374.91,50.00 375.51,50.00 376.11,50.00 376.70,50.00 377.30,50.00 377.90,50.00 378.50,50.00 379.10,50.00 379.70,50.00 380.30,50.00 380.90,50.00 381.50,50.00 382.09,50.00 382.69,50.00 383.29,50.00 383.89,50.00 384.49,50.00 385.09,50.00 385.69,50.00 386.29,50.00 386.89,50.00 387.48,50.00 388.08,50.00 388.68,50.00 389.28,50.00 389.88,50.00 390.48,50.00 391.08,50.00 391.68,50.00 392.28,50.00 392.88,50.00 393.47,50.00 394.07,50.00 394.67,50.00 395.27,50.00 395.87,50.00 396.47,50.00 397.07,50.00 397.67,50.00 398.27,50.00 398.86,50.00 399.46,50.00 400.06,50.00 400.66,50.00 401.26,50.00 401.86,50.00 402.46,50.00 403.06,50.00 403.66,50.00 404.25,50.00 404.85,50.00 405.45,50.00 406.05,50.00 406.65,50.00 407.25,50.00 407.85,50.00 408.45,50.00 409.05,50.00 409.65,50.00 410.24,50.00 410.84,50.00 411.44,50.00 412.04,50.00 412.64,50.00 413.24,50.00 413.84,50.00 414.44,50.00 415.04,50.00 415.63,50.00 416.23,50.00 416.83,50.00 417.43,50.00 418.03,50.00 418.63,50.00 419.23,50.00 419.83,50.00 420.43,50.00 421.03,50.00 421.62,50.00 422.22,50.00 422.82,50.00 423.42,50.00 424.02,50.00 424.62,50.00 425.22,50.00 425.82,50.00 426.42,50.00 427.01,50.00 427.61,50.00 428.21,50.00 428.81,50.00 429.41,50.00 430.01,50.00 430.61,50.00 431.21,50.00 431.81,50.00 432.40,50.00 433.00,50.00 433.60,50.00 434.20,50.00 434.80,50.00 435.40,50.00 436.00,50.00 436.60,50.00 437.20,50.00 437.80,50.00 438.39,50.00 438.99,50.00 439.59,50.00 440.19,50.00 440.79,50.00 441.39,50.00 441.99,50.00 442.59,50.00 443.19,50.00 443.78,50.00 444.38,50.00 444.98,50.00 445.58,50.00 446.18,50.00 446.78,50.00 447.38,50.00 447.98,50.00 448.58,50.00 449.18,50.00 449.77,50.00 450.37,50.00 450.97,50.00 451.57,50.00 452.17,50.00 452.77,50.00 453.37,50.00 453.97,50.00 454.57,50.00 455.16,50.00 455.76,50.00 456.36,50.00 456.96,50.00 457.56,50.00 458.16,50.00 458.76,50.00 459.36,50.00 459.96,50.00 460.55,50.00 461.15,50.00 461.75,50.00 462.35,50.00 462.95,50.00 463.55,50.00 464.15,50.00 464.75,50.00 465.35,50.00 465.95,50.00 466.54,50.00 467.14,50.00 467.74,50.00 468.34,50.00 468.94,50.00 469.54,50.00 470.14,50.00 470.74,50.00 471.34,50.00 471.93,50.00 472.53,50.00 473.13,50.00 473.73,50.00 474.33,50.00 474.93,50.00 475.53,50.00 476.13,50.00 476.73,50.00 477.32,50.00 477.92,50.00 478.52,50.00 479.12,50.00 479.72,50.00 480.32,50.00 480.92,50.00 481.52,50.00 482.12,50.00 482.72,50.00 483.31,50.00 483.91,50.00 484.51,50.00 485.11,50.00 485.71,50.00 486.31,50.00 486.91,50.00 487.51,50.00 488.11,50.00 488.70,50.00 489.30,50.00 489.90,50.00 490.50,50.00 491.10,50.00 491.70,50.00 492.30,50.00 492.90,50.00 493.50,50.00 494.10,50.00 494.69,50.00 495.29,50.00 495.89,50.00 496.49,50.00 497.09,50.00 497.69,50.00 498.29,50.00 498.89,50.00 499.49,50.00 500.08,50.00 500.68,50.00 501.28,50.00 501.88,50.00 502.48,50.00 503.08,50.00 503.68,50.00 504.28,50.00 504.88,50.00 505.47,50.00 506.07,50.00 506.67,50.00 507.27,50.00 507.87,50.00 508.47,50.00 509.07,50.00 509.67,50.00 510.27,50.00 510.87,50.00 511.46,50.00 512.06,50.00 512.66,50.00 513.26,50.00 513.86,50.00 514.46,50.00 515.06,50.00 515.66,50.00 516.26,50.00 516.85,50.00 517.45,50.00 518.05,50.00 518.65,50.00 519.25,50.00 519.85,50.00 520.45,50.00 521.05,50.00 521.65,50.00 522.24,50.00 522.84,50.00 523.44,50.00 524.04,50.00 524.64,50.00 525.24,50.00 525.84,50.00 526.44,50.00" fill="none" stroke="#ebe823" stroke-width="5.6" stroke-linejoin="round"/>
<polyline points="107.18,439.95 108.02,440.01 108.86,440.08 109.70,440.14 110.54,440.21 111.38,440.27 112.21,440.34 113.05,440.40 113.89,440.46 114.73,440.53 115.57,440.59 116.41,440.66 117.25,440.72 118.08,440.78 118.92,440.85 119.76,440.91 120.60,440.97 121.44,441.03 122.28,441.10 123.12,441.16 123.95,441.22 124.79,441.29 125.63,441.35 126.47,441.41 127.31,441.47 128.15,441.53 128.98,441.60 129.82,441.66 130.66,441.72 131.50,441.78 132.34,441.84 133.18,441.90 134.02,441.96 134.85,442.03 135.69,442.09 136.53,442.15 137.37,442.21 138.21,442.27 139.05,442.33 139.89,442.39 140.72,442.45 141.56,442.51 142.40,442.57 143.24,442.63 144.08,442.69 144.92,442.75 145.76,442.80 146.59,442.86 147.43,442.92 148.27,442.98 149.11,443.04 149.95,443.10 150.79,443.16 151.62,443.21 152.46,443.27 153.30,443.33 154.14,443.39 154.98,443.44 155.82,443.50 156.66,443.56 157.49,443.61 158.33,443.67 159.17,443.73 160.01,443.78 160.85,443.84 161.69,443.90 162.53,443.95 163.36,444.01 164.20,444.06 165.04,444.12 165.88,444.17 166.72,444.23 167.56,444.28 168.39,444.34 169.23,444.39 170.07,444.44 170.91,444.50 171.75,444.55 172.59,444.61 173.43,444.66 174.26,444.71 175.10,444.77 175.94,444.82 176.78,444.87 177.62,444.92 178.46,444.98 179.30,445.03 180.13,445.08 180.97,445.13 181.81,445.18 182.65,445.23 183.49,445.28 184.33,445.33 185.16,445.38 186.00,445.43 186.84,445.48 187.68,445.53 188.52,445.58 189.36,445.63 190.20,445.68 191.03,445.73 191.87,445.78 192.71,445.83 193.55,445.88 194.39,445.93 195.23,445.97 196.07,446.02 196.90,446.07 197.74,446.12 198.58,446.16 199.42,446.21 200.26,446.26 201.10,446.30 201.94,446.35 202.77,446.39 203.61,446.44 204.45,446.49 205.29,446.53 206.13,446.58 206.97,446.62 207.80,446.66 208.64,446.71 209.48,446.75 210.32,446.80 211.16,446.84 212.00,446.88 212.84,446.93 213.67,446.97 214.51,447.01 215.35,447.05 216.19,447.10 217.03,447.14 217.87,447.18 218.71,447.22 219.54,447.26 220.38,447.30 221.22,447.34 222.06,447.38 222.90,447.42 223.74,447.46 224.57,447.50 225.41,447.54 226.25,447.58 227.09,447.62 227.93,447.66 228.77,447.70 229.61,447.73 230.44,447.77 231.28,447.81 232.12,447.85 232.96,447.88 233.80,447.92 234.64,447.96 235.48,447.99 236.31,448.03 237.15,448.07 237.99,448.10 238.83,448.14 239.67,448.17 240.51,448.21 241.34,448.24 242.18,448.28 243.02,448.31 243.86,448.34 244.70,448.38 245.54,448.41 246.38,448.45 247.21,448.48 248.05,448.51 248.89,448.54 249.73,448.58 250.57,448.61 251.41,448.64 252.25,448.67 253.08,448.70 253.92,448.73 254.76,448.76 255.60,448.79 256.44,448.82 257.28,448.85 258.12,448.88 258.95,448.91 259.79,448.94 260.63,448.97 261.47,449.00 262.31,449.03 263.15,449.06 263.98,449.09 264.82,449.11 265.66,449.14 266.50,449.17 267.34,449.20 268.18,449.22 269.02,449.25 269.85,449.28 270.69,449.30 271.53,449.33 272.37,449.36 273.21,449.38 274.05,449.41 274.89,449.43 275.72,449.46 276.56,449.48 277.40,449.51 278.24,449.53 279.08,449.55 279.92,449.58 280.75,449.60 281.59,449.62 282.43,449.65 283.27,449.67 284.11,449.69 284.95,449.72 285.79,449.74 286.62,449.76 287.46,449.78 288.30,449.80 289.14,449.83 289.98,449.85 290.82,449.87 291.66,449.89 292.49,449.91 293.33,449.93 294.17,449.95 295.01,449.97 295.85,449.99 296.69,450.01 297.52,450.03 298.36,450.05 299.20,450.07 300.04,450.09 300.88,450.11 301.72,450.12 302.56,450.14 303.39,450.16 304.23,450.18 305.07,450.20 305.91,450.22 306.75,450.23 307.59,450.25 308.43,450.27 309.26,450.28 310.10,450.30 310.94,450.32 311.78,450.33 312.62,450.35 313.46,450.37 314.30,450.38 315.13,450.40 315.97,450.41 316.81,450.43 317.65,450.44 318.49,450.46 319.33,450.47 320.16,450.49 321.00,450.50 321.84,450.52 322.68,450.53 323.52,450.55 324.36,450.56 325.20,450.57 326.03,450.59 326.87,450.60 327.71,450.61 328.55,450.63 329.39,450.64 330.23,450.65 331.07,450.67 331.90,450.68 332.74,450.69 333.58,450.70 334.42,450.72 335.26,450.73 336.10,450.74 336.93,450.75 337.77,450.76 338.61,450.78 339.45,450.79 340.29,450.80 341.13,450.81 341.97,450.82 342.80,450.83 343.64,450.84 344.48,450.85 345.32,450.86 346.16,450.87 347.00,450.88 347.84,450.89 348.67,450.90 349.51,450.91 350.35,450.92 351.19,450.93 352.03,450.94 352.87,450.95 353.70,450.96 354.54,450.97 355.38,450.98 356.22,450.99 357.06,451.00 357.90,451.01 358.74,451.02 359.57,451.02 360.41,451.03 361.25,451.04 362.09,451.05 362.93,451.06 363.77,451.07 364.61,451.07 365.44,451.08 366.28,451.09 367.12,451.10 367.96,451.11 368.80,451.11 369.64,451.12 370.48,451.13 371.31,451.14 372.15,451.14 372.99,451.15 373.83,451.16 374.67,451.16 375.51,451.17 376.34,451.18 377.18,451.18 378.02,451.19 378.86,451.20 379.70,451.20 380.54,451.21 381.38,451.22 382.21,451.22 383.05,451.23 383.89,451.23 384.73,451.24 385.57,451.25 386.41,451.25 387.25,451.26 388.08,451.26 388.92,451.27 389.76,451.28 390.60,451.28 391.44,451.29 392.28,451.29 393.11,451.30 393.95,451.30 394.79,451.31 395.63,451.31 396.47,451.32 397.31,451.32 398.15,451.33 398.98,451.33 399.82,451.34 400.66,451.34 401.50,451.35 402.34,451.35 403.18,451.36 404.02,451.36 404.85,451.36 405.69,451.37 406.53,451.37 407.37,451.38 408.21,451.38 409.05,451.39 409.88,451.39 410.72,451.39 411.56,451.40 412.40,451.40 413.24,451.41 414.08,451.41 414.92,451.41 415.75,451.42 416.59,451.42 417.43,451.42 418.27,451.43 419.11,451.43 419.95,451.44 420.79,451.44 421.62,451.44 422.46,451.45 423.30,451.45 424.14,451.45 424.98,451.46 425.82,451.46 426.66,451.46 427.49,451.46 428.33,451.47 429.17,451.47 430.01,451.47 430.85,451.48 431.69,451.48 432.52,451.48 433.36,451.49 434.20,451.49 435.04,451.49 435.88,451.49 436.72,451.50 437.56,451.50 438.39,451.50 439.23,451.50 440.07,451.51 440.91,451.51 441.75,451.51 442.59,451.51 443.43,451.52 444.26,451.52 445.10,451.52 445.94,451.52 446.78,451.53 447.62,451.53 448.46,451.53 449.29,451.53 450.13,451.54 450.97,451.54 451.81,451.54 452.65,451.54 453.49,451.54 454.33,451.55 455.16,451.55 456.00,451.55 456.84,451.55 457.68,451.55 458.52,451.56 459.36,451.56 460.20,451.56 461.03,451.56 461.87,451.56 462.71,451.57 463.55,451.57 464.39,451.57 465.23,451.57 466.06,451.57 466.90,451.57 467.74,451.58 468.58,451.58 469.42,451.58 470.26,451.58 471.10,451.58 471.93,451.58 472.77,451.59 473.61,451.59 474.45,451.59 475.29,451.59 476.13,451.59 476.97,451.59 477.80,451.59 478.64,451.60 479.48,451.60 480.32,451.60 481.16,451.60 482.00,451.60 482.84,451.60 483.67,451.60 484.51,451.61 485.35,451.61 486.19,451.61 487.03,451.61 487.87,451.61 488.70,451.61 489.54,451.61 490.38,451.61 491.22,451.61 492.06,451.62 492.90,451.62 493.74,451.62 494.57,451.62 495.41,451.62 496.25,451.62 497.09,451.62 497.93,451.62 498.77,451.62 499.61,451.63 500.44,451.63 501.28,451.63 502.12,451.63 502.96,451.63 503.80,451.63 504.64,451.63 505.47,451.63 506.31,451.63 507.15,451.63 507.99,451.63 508.83,451.64 509.67,451.64 510.51,451.64 511.34,451.64 512.18,451.64 513.02,451.64 513.86,451.64 514.70,451.64 515.54,451.64 516.38,451.64 517.21,451.64 518.05,451.64 518.89,451.65 519.73,451.65 520.57,451.65 521.41,451.65 522.24,451.65 523.08,451.65 523.92,451.65 524.76,451.65 525.60,451.65 526.44,451.65" fill="none" stroke="#332b8a" stroke-width="3.6" stroke-linejoin="round" stroke-dasharray="1.7 7.7" stroke-dashoffset="0.8" stroke-linecap="round"/>
<polyline points="107.18,411.19 108.02,411.41 108.86,411.63 109.70,411.85 110.54,412.07 111.38,412.29 112.21,412.51 113.05,412.73 113.89,412.94 114.73,413.16 115.57,413.38 116.41,413.60 117.25,413.82 118.08,414.04 118.92,414.26 119.76,414.48 120.60,414.70 121.44,414.91 122.28,415.13 123.12,415.35 123.95,415.57 124.79,415.79 125.63,416.01 126.47,416.23 127.31,416.45 128.15,416.66 128.98,416.88 129.82,417.10 130.66,417.32 131.50,417.54 132.34,417.76 133.18,417.98 134.02,418.20 134.85,418.41 135.69,418.63 136.53,418.85 137.37,419.07 138.21,419.29 139.05,419.51 139.89,419.73 140.72,419.94 141.56,420.16 142.40,420.38 143.24,420.60 144.08,420.82 144.92,421.04 145.76,421.25 146.59,421.47 147.43,421.69 148.27,421.91 149.11,422.13 149.95,422.35 150.79,422.56 151.62,422.78 152.46,423.00 153.30,423.22 154.14,423.44 154.98,423.65 155.82,423.87 156.66,424.09 157.49,424.31 158.33,424.52 159.17,424.74 160.01,424.96 160.85,425.18 161.69,425.40 162.53,425.61 163.36,425.83 164.20,426.05 165.04,426.26 165.88,426.48 166.72,426.70 167.56,426.92 168.39,427.13 169.23,427.35 170.07,427.57 170.91,427.78 171.75,428.00 172.59,428.21 173.43,428.43 174.26,428.65 175.10,428.86 175.94,429.08 176.78,429.29 177.62,429.51 178.46,429.73 179.30,429.94 180.13,430.16 180.97,430.37 181.81,430.59 182.65,430.80 183.49,431.01 184.33,431.23 185.16,431.44 186.00,431.66 186.84,431.87 187.68,432.08 188.52,432.30 189.36,432.51 190.20,432.72 191.03,432.94 191.87,433.15 192.71,433.36 193.55,433.57 194.39,433.78 195.23,433.99 196.07,434.20 196.90,434.41 197.74,434.62 198.58,434.83 199.42,435.04 200.26,435.25 201.10,435.46 201.94,435.67 202.77,435.88 203.61,436.08 204.45,436.29 205.29,436.50 206.13,436.70 206.97,436.91 207.80,437.11 208.64,437.32 209.48,437.52 210.32,437.72 211.16,437.92 212.00,438.13 212.84,438.33 213.67,438.53 214.51,438.73 215.35,438.93 216.19,439.12 217.03,439.32 217.87,439.52 218.71,439.71 219.54,439.91 220.38,440.10 221.22,440.30 222.06,440.49 222.90,440.68 223.74,440.87 224.57,441.06 225.41,441.25 226.25,441.43 227.09,441.62 227.93,441.80 228.77,441.99 229.61,442.17 230.44,442.35 231.28,442.53 232.12,442.71 232.96,442.89 233.80,443.06 234.64,443.24 235.48,443.41 236.31,443.58 237.15,443.75 237.99,443.92 238.83,444.08 239.67,444.25 240.51,444.41 241.34,444.57 242.18,444.73 243.02,444.89 243.86,445.05 244.70,445.20 245.54,445.35 246.38,445.50 247.21,445.65 248.05,445.80 248.89,445.94 249.73,446.09 250.57,446.23 251.41,446.37 252.25,446.50 253.08,446.64 253.92,446.77 254.76,446.90 255.60,447.03 256.44,447.15 257.28,447.28 258.12,447.40 258.95,447.52 259.79,447.63 260.63,447.75 261.47,447.86 262.31,447.97 263.15,448.08 263.98,448.19 264.82,448.29 265.66,448.39 266.50,448.49 267.34,448.59 268.18,448.68 269.02,448.78 269.85,448.87 270.69,448.95 271.53,449.04 272.37,449.13 273.21,449.21 274.05,449.29 274.89,449.37 275.72,449.44 276.56,449.51 277.40,449.59 278.24,449.66 279.08,449.72 279.92,449.79 280.75,449.86 281.59,449.92 282.43,449.98 283.27,450.04 284.11,450.09 284.95,450.15 285.79,450.20 286.62,450.26 287.46,450.31 288.30,450.36 289.14,450.40 289.98,450.45 290.82,450.49 291.66,450.54 292.49,450.58 293.33,450.62 294.17,450.66 295.01,450.70 295.85,450.73 296.69,450.77 297.52,450.80 298.36,450.84 299.20,450.87 300.04,450.90 300.88,450.93 301.72,450.96 302.56,450.98 303.39,451.01 304.23,451.04 305.07,451.06 305.91,451.09 306.75,451.11 307.59,451.13 308.43,451.15 309.26,451.17 310.10,451.19 310.94,451.21 311.78,451.23 312.62,451.25 313.46,451.27 314.30,451.28 315.13,451.30 315.97,451.31 316.81,451.33 317.65,451.34 318.49,451.36 319.33,451.37 320.16,451.38 321.00,451.40 321.84,451.41 322.68,451.42 323.52,451.43 324.36,451.44 325.20,451.45 326.03,451.46 326.87,451.47 327.71,451.48 328.55,451.49 329.39,451.50 330.23,451.50 331.07,451.51 331.90,451.52 332.74,451.53 333.58,451.53 334.42,451.54 335.26,451.55 336.10,451.55 336.93,451.56 337.77,451.56 338.61,451.57 339.45,451.57 340.29,451.58 341.13,451.58 341.97,451.59 342.80,451.59 343.64,451.60 344.48,451.60 345.32,451.60 346.16,451.61 347.00,451.61 347.84,451.62 348.67,451.62 349.51,451.62 350.35,451.62 351.19,451.63 352.03,451.63 352.87,451.63 353.70,451.64 354.54,451.64 355.38,451.64 356.22,451.64 357.06,451.65 357.90,451.65 358.74,451.65 359.57,451.65 360.41,451.65 361.25,451.66 362.09,451.66 362.93,451.66 363.77,451.66 364.61,451.66 365.44,451.66 366.28,451.67 367.12,451.67 367.96,451.67 368.80,451.67 369.64,451.67 370.48,451.67 371.31,451.67 372.15,451.67 372.99,451.67 373.83,451.68 374.67,451.68 375.51,451.68 376.34,451.68 377.18,451.68 378.02,451.68 378.86,451.68 379.70,451.68 380.54,451.68 381.38,451.68 382.21,451.68 383.05,451.68 383.89,451.69 384.73,451.69 385.57,451.69 386.41,451.69 387.25,451.69 388.08,451.69 388.92,451.69 389.76,451.69 390.60,451.69 391.44,451.69 392.28,451.69 393.11,451.69 393.95,451.69 394.79,451.69 395.63,451.69 396.47,451.69 397.31,451.69 398.15,451.69 398.98,451.69 399.82,451.69 400.66,451.69 401.50,451.69 402.34,451.69 403.18,451.69 404.02,451.69 404.85,451.69 405.69,451.69 406.53,451.70 407.37,451.70 408.21,451.70 409.05,451.70 409.88,451.70 410.72,451.70 411.56,451.70 412.40,451.70 413.24,451.70 414.08,451.70 414.92,451.70 415.75,451.70 416.59,451.70 417.43,451.70 418.27,451.70 419.11,451.70 419.95,451.70 420.79,451.70 421.62,451.70 422.46,451.70 423.30,451.70 424.14,451.70 424.98,451.70 425.82,451.70 426.66,451.70 427.49,451.70 428.33,451.70 429.17,451.70 430.01,451.70 430.85,451.70 431.69,451.70 432.52,451.70 433.36,451.70 434.20,451.70 435.04,451.70 435.88,451.70 436.72,451.70 437.56,451.70 438.39,451.70 439.23,451.70 440.07,451.70 440.91,451.70 441.75,451.70 442.59,451.70 443.43,451.70 444.26,451.70 445.10,451.70 445.94,451.70 446.78,451.70 447.62,451.70 448.46,451.70 449.29,451.70 450.13,451.70 450.97,451.70 451.81,451.70 452.65,451.70 453.49,451.70 454.33,451.70 455.16,451.70 456.00,451.70 456.84,451.70 457.68,451.70 458.52,451.70 459.36,451.70 460.20,451.70 461.03,451.70 461.87,451.70 462.71,451.70 463.55,451.70 464.39,451.70 465.23,451.70 466.06,451.70 466.90,451.70 467.74,451.70 468.58,451.70 469.42,451.70 470.26,451.70 471.10,451.70 471.93,451.70 472.77,451.70 473.61,451.70 474.45,451.70 475.29,451.70 476.13,451.70 476.97,451.70 477.80,451.70 478.64,451.70 479.48,451.70 480.32,451.70 481.16,451.70 482.00,451.70 482.84,451.70 483.67,451.70 484.51,451.70 485.35,451.70 486.19,451.70 487.03,451.70 487.87,451.70 488.70,451.70 489.54,451.70 490.38,451.70 491.22,451.70 492.06,451.70 492.90,451.70 493.74,451.70 494.57,451.70 495.41,451.70 496.25,451.70 497.09,451.70 497.93,451.70 498.77,451.70 499.61,451.70 500.44,451.70 501.28,451.70 502.12,451.70 502.96,451.70 503.80,451.70 504.64,451.70 505.47,451.70 506.31,451.70 507.15,451.70 507.99,451.70 508.83,451.70 509.67,451.70 510.51,451.70 511.34,451.70 512.18,451.70 513.02,451.70 513.86,451.70 514.70,451.70 515.54,451.70 516.38,451.70 517.21,451.70 518.05,451.70 518.89,451.70 519.73,451.70 520.57,451.70 521.41,451.70 522.24,451.70 523.08,451.70 523.92,451.70 524.76,451.70 525.60,451.70 526.44,451.70" fill="none" stroke="#2f8bd0" stroke-width="3.6" stroke-linejoin="round" stroke-dasharray="1.7 7.7" stroke-dashoffset="0.8" stroke-linecap="round"/>
<polyline points="107.18,354.89 108.02,355.33 108.86,355.77 109.70,356.21 110.54,356.64 111.38,357.08 112.21,357.52 113.05,357.96 113.89,358.40 114.73,358.84 115.57,359.27 116.41,359.71 117.25,360.15 118.08,360.59 118.92,361.03 119.76,361.46 120.60,361.90 121.44,362.34 122.28,362.78 123.12,363.22 123.95,363.66 124.79,364.09 125.63,364.53 126.47,364.97 127.31,365.41 128.15,365.85 128.98,366.28 129.82,366.72 130.66,367.16 131.50,367.60 132.34,368.04 133.18,368.48 134.02,368.91 134.85,369.35 135.69,369.79 136.53,370.23 137.37,370.67 138.21,371.10 139.05,371.54 139.89,371.98 140.72,372.42 141.56,372.86 142.40,373.30 143.24,373.73 144.08,374.17 144.92,374.61 145.76,375.05 146.59,375.49 147.43,375.92 148.27,376.36 149.11,376.80 149.95,377.24 150.79,377.68 151.62,378.11 152.46,378.55 153.30,378.99 154.14,379.43 154.98,379.87 155.82,380.31 156.66,380.74 157.49,381.18 158.33,381.62 159.17,382.06 160.01,382.50 160.85,382.93 161.69,383.37 162.53,383.81 163.36,384.25 164.20,384.69 165.04,385.13 165.88,385.56 166.72,386.00 167.56,386.44 168.39,386.88 169.23,387.32 170.07,387.75 170.91,388.19 171.75,388.63 172.59,389.07 173.43,389.51 174.26,389.95 175.10,390.38 175.94,390.82 176.78,391.26 177.62,391.70 178.46,392.14 179.30,392.57 180.13,393.01 180.97,393.45 181.81,393.89 182.65,394.33 183.49,394.77 184.33,395.20 185.16,395.64 186.00,396.08 186.84,396.52 187.68,396.96 188.52,397.39 189.36,397.83 190.20,398.27 191.03,398.71 191.87,399.15 192.71,399.59 193.55,400.02 194.39,400.46 195.23,400.90 196.07,401.34 196.90,401.78 197.74,402.21 198.58,402.65 199.42,403.09 200.26,403.53 201.10,403.97 201.94,404.40 202.77,404.84 203.61,405.28 204.45,405.72 205.29,406.16 206.13,406.60 206.97,407.03 207.80,407.47 208.64,407.91 209.48,408.35 210.32,408.79 211.16,409.22 212.00,409.66 212.84,410.10 213.67,410.54 214.51,410.98 215.35,411.41 216.19,411.85 217.03,412.29 217.87,412.73 218.71,413.17 219.54,413.60 220.38,414.04 221.22,414.48 222.06,414.92 222.90,415.35 223.74,415.79 224.57,416.23 225.41,416.67 226.25,417.10 227.09,417.54 227.93,417.98 228.77,418.42 229.61,418.85 230.44,419.29 231.28,419.73 232.12,420.16 232.96,420.60 233.80,421.04 234.64,421.47 235.48,421.91 236.31,422.35 237.15,422.78 237.99,423.22 238.83,423.66 239.67,424.09 240.51,424.53 241.34,424.96 242.18,425.40 243.02,425.83 243.86,426.27 244.70,426.70 245.54,427.13 246.38,427.57 247.21,428.00 248.05,428.43 248.89,428.86 249.73,429.30 250.57,429.73 251.41,430.16 252.25,430.59 253.08,431.02 253.92,431.44 254.76,431.87 255.60,432.30 256.44,432.72 257.28,433.15 258.12,433.57 258.95,433.99 259.79,434.42 260.63,434.84 261.47,435.25 262.31,435.67 263.15,436.09 263.98,436.50 264.82,436.91 265.66,437.32 266.50,437.72 267.34,438.13 268.18,438.53 269.02,438.93 269.85,439.32 270.69,439.72 271.53,440.10 272.37,440.49 273.21,440.87 274.05,441.25 274.89,441.62 275.72,441.99 276.56,442.35 277.40,442.71 278.24,443.06 279.08,443.41 279.92,443.75 280.75,444.09 281.59,444.41 282.43,444.73 283.27,445.05 284.11,445.35 284.95,445.65 285.79,445.95 286.62,446.23 287.46,446.50 288.30,446.77 289.14,447.03 289.98,447.28 290.82,447.52 291.66,447.75 292.49,447.97 293.33,448.19 294.17,448.39 295.01,448.59 295.85,448.78 296.69,448.96 297.52,449.13 298.36,449.29 299.20,449.44 300.04,449.59 300.88,449.73 301.72,449.86 302.56,449.98 303.39,450.10 304.23,450.20 305.07,450.31 305.91,450.40 306.75,450.49 307.59,450.58 308.43,450.66 309.26,450.73 310.10,450.80 310.94,450.87 311.78,450.93 312.62,450.98 313.46,451.04 314.30,451.09 315.13,451.13 315.97,451.17 316.81,451.21 317.65,451.25 318.49,451.28 319.33,451.31 320.16,451.34 321.00,451.37 321.84,451.40 322.68,451.42 323.52,451.44 324.36,451.46 325.20,451.48 326.03,451.50 326.87,451.51 327.71,451.53 328.55,451.54 329.39,451.55 330.23,451.56 331.07,451.57 331.90,451.58 332.74,451.59 333.58,451.60 334.42,451.61 335.26,451.62 336.10,451.62 336.93,451.63 337.77,451.63 338.61,451.64 339.45,451.64 340.29,451.65 341.13,451.65 341.97,451.66 342.80,451.66 343.64,451.66 344.48,451.67 345.32,451.67 346.16,451.67 347.00,451.67 347.84,451.67 348.67,451.68 349.51,451.68 350.35,451.68 351.19,451.68 352.03,451.68 352.87,451.68 353.70,451.69 354.54,451.69 355.38,451.69 356.22,451.69 357.06,451.69 357.90,451.69 358.74,451.69 359.57,451.69 360.41,451.69 361.25,451.69 362.09,451.69 362.93,451.69 363.77,451.69 364.61,451.70 365.44,451.70 366.28,451.70 367.12,451.70 367.96,451.70 368.80,451.70 369.64,451.70 370.48,451.70 371.31,451.70 372.15,451.70 372.99,451.70 373.83,451.70 374.67,451.70 375.51,451.70 376.34,451.70 377.18,451.70 378.02,451.70 378.86,451.70 379.70,451.70 380.54,451.70 381.38,451.70 382.21,451.70 383.05,451.70 383.89,451.70 384.73,451.70 385.57,451.70 386.41,451.70 387.25,451.70 388.08,451.70 388.92,451.70 389.76,451.70 390.60,451.70 391.44,451.70 392.28,451.70 393.11,451.70 393.95,451.70 394.79,451.70 395.63,451.70 396.47,451.70 397.31,451.70 398.15,451.70 398.98,451.70 399.82,451.70 400.66,451.70 401.50,451.70 402.34,451.70 403.18,451.70 404.02,451.70 404.85,451.70 405.69,451.70 406.53,451.70 407.37,451.70 408.21,451.70 409.05,451.70 409.88,451.70 410.72,451.70 411.56,451.70 412.40,451.70 413.24,451.70 414.08,451.70 414.92,451.70 415.75,451.70 416.59,451.70 417.43,451.70 418.27,451.70 419.11,451.70 419.95,451.70 420.79,451.70 421.62,451.70 422.46,451.70 423.30,451.70 424.14,451.70 424.98,451.70 425.82,451.70 426.66,451.70 427.49,451.70 428.33,451.70 429.17,451.70 430.01,451.70 430.85,451.70 431.69,451.70 432.52,451.70 433.36,451.70 434.20,451.70 435.04,451.70 435.88,451.70 436.72,451.70 437.56,451.70 438.39,451.70 439.23,451.70 440.07,451.70 440.91,451.70 441.75,451.70 442.59,451.70 443.43,451.70 444.26,451.70 445.10,451.70 445.94,451.70 446.78,451.70 447.62,451.70 448.46,451.70 449.29,451.70 450.13,451.70 450.97,451.70 451.81,451.70 452.65,451.70 453.49,451.70 454.33,451.70 455.16,451.70 456.00,451.70 456.84,451.70 457.68,451.70 458.52,451.70 459.36,451.70 460.20,451.70 461.03,451.70 461.87,451.70 462.71,451.70 463.55,451.70 464.39,451.70 465.23,451.70 466.06,451.70 466.90,451.70 467.74,451.70 468.58,451.70 469.42,451.70 470.26,451.70 471.10,451.70 471.93,451.70 472.77,451.70 473.61,451.70 474.45,451.70 475.29,451.70 476.13,451.70 476.97,451.70 477.80,451.70 478.64,451.70 479.48,451.70 480.32,451.70 481.16,451.70 482.00,451.70 482.84,451.70 483.67,451.70 484.51,451.70 485.35,451.70 486.19,451.70 487.03,451.70 487.87,451.70 488.70,451.70 489.54,451.70 490.38,451.70 491.22,451.70 492.06,451.70 492.90,451.70 493.74,451.70 494.57,451.70 495.41,451.70 496.25,451.70 497.09,451.70 497.93,451.70 498.77,451.70 499.61,451.70 500.44,451.70 501.28,451.70 502.12,451.70 502.96,451.70 503.80,451.70 504.64,451.70 505.47,451.70 506.31,451.70 507.15,451.70 507.99,451.70 508.83,451.70 509.67,451.70 510.51,451.70 511.34,451.70 512.18,451.70 513.02,451.70 513.86,451.70 514.70,451.70 515.54,451.70 516.38,451.70 517.21,451.70 518.05,451.70 518.89,451.70 519.73,451.70 520.57,451.70 521.41,451.70 522.24,451.70 523.08,451.70 523.92,451.70 524.76,451.70 525.60,451.70 526.44,451.70" fill="none" stroke="#7ac04a" stroke-width="3.6" stroke-linejoin="round" stroke-dasharray="1.7 7.7" stroke-dashoffset="0.8" stroke-linecap="round"/>
<polyline points="107.18,111.87 108.02,113.19 108.86,114.50 109.70,115.82 110.54,117.13 111.38,118.45 112.21,119.76 113.05,121.08 113.89,122.39 114.73,123.71 115.57,125.02 116.41,126.33 117.25,127.65 118.08,128.96 118.92,130.28 119.76,131.59 120.60,132.91 121.44,134.22 122.28,135.54 123.12,136.85 123.95,138.17 124.79,139.48 125.63,140.79 126.47,142.11 127.31,143.42 128.15,144.74 128.98,146.05 129.82,147.37 130.66,148.68 131.50,150.00 132.34,151.31 133.18,152.63 134.02,153.94 134.85,155.25 135.69,156.57 136.53,157.88 137.37,159.20 138.21,160.51 139.05,161.83 139.89,163.14 140.72,164.46 141.56,165.77 142.40,167.09 143.24,168.40 144.08,169.71 144.92,171.03 145.76,172.34 146.59,173.66 147.43,174.97 148.27,176.29 149.11,177.60 149.95,178.92 150.79,180.23 151.62,181.54 152.46,182.86 153.30,184.17 154.14,185.49 154.98,186.80 155.82,188.12 156.66,189.43 157.49,190.75 158.33,192.06 159.17,193.38 160.01,194.69 160.85,196.00 161.69,197.32 162.53,198.63 163.36,199.95 164.20,201.26 165.04,202.58 165.88,203.89 166.72,205.21 167.56,206.52 168.39,207.84 169.23,209.15 170.07,210.46 170.91,211.78 171.75,213.09 172.59,214.41 173.43,215.72 174.26,217.04 175.10,218.35 175.94,219.67 176.78,220.98 177.62,222.30 178.46,223.61 179.30,224.92 180.13,226.24 180.97,227.55 181.81,228.87 182.65,230.18 183.49,231.50 184.33,232.81 185.16,234.13 186.00,235.44 186.84,236.76 187.68,238.07 188.52,239.38 189.36,240.70 190.20,242.01 191.03,243.33 191.87,244.64 192.71,245.96 193.55,247.27 194.39,248.59 195.23,249.90 196.07,251.22 196.90,252.53 197.74,253.84 198.58,255.16 199.42,256.47 200.26,257.79 201.10,259.10 201.94,260.42 202.77,261.73 203.61,263.05 204.45,264.36 205.29,265.68 206.13,266.99 206.97,268.30 207.80,269.62 208.64,270.93 209.48,272.25 210.32,273.56 211.16,274.88 212.00,276.19 212.84,277.51 213.67,278.82 214.51,280.14 215.35,281.45 216.19,282.76 217.03,284.08 217.87,285.39 218.71,286.71 219.54,288.02 220.38,289.34 221.22,290.65 222.06,291.97 222.90,293.28 223.74,294.60 224.57,295.91 225.41,297.22 226.25,298.54 227.09,299.85 227.93,301.17 228.77,302.48 229.61,303.80 230.44,305.11 231.28,306.43 232.12,307.74 232.96,309.06 233.80,310.37 234.64,311.68 235.48,313.00 236.31,314.31 237.15,315.63 237.99,316.94 238.83,318.26 239.67,319.57 240.51,320.89 241.34,322.20 242.18,323.51 243.02,324.83 243.86,326.14 244.70,327.46 245.54,328.77 246.38,330.09 247.21,331.40 248.05,332.72 248.89,334.03 249.73,335.35 250.57,336.66 251.41,337.97 252.25,339.29 253.08,340.60 253.92,341.92 254.76,343.23 255.60,344.55 256.44,345.86 257.28,347.18 258.12,348.49 258.95,349.81 259.79,351.12 260.63,352.43 261.47,353.75 262.31,355.06 263.15,356.38 263.98,357.69 264.82,359.01 265.66,360.32 266.50,361.64 267.34,362.95 268.18,364.27 269.02,365.58 269.85,366.89 270.69,368.21 271.53,369.52 272.37,370.84 273.21,372.15 274.05,373.47 274.89,374.78 275.72,376.10 276.56,377.41 277.40,378.73 278.24,380.04 279.08,381.35 279.92,382.67 280.75,383.98 281.59,385.30 282.43,386.61 283.27,387.93 284.11,389.24 284.95,390.56 285.79,391.87 286.62,393.19 287.46,394.50 288.30,395.81 289.14,397.13 289.98,398.44 290.82,399.76 291.66,401.07 292.49,402.39 293.33,403.70 294.17,405.02 295.01,406.33 295.85,407.64 296.69,408.96 297.52,410.27 298.36,411.59 299.20,412.90 300.04,414.21 300.88,415.53 301.72,416.84 302.56,418.15 303.39,419.46 304.23,420.77 305.07,422.08 305.91,423.39 306.75,424.70 307.59,426.00 308.43,427.30 309.26,428.60 310.10,429.90 310.94,431.18 311.78,432.47 312.62,433.74 313.46,435.00 314.30,436.25 315.13,437.48 315.97,438.69 316.81,439.87 317.65,441.02 318.49,442.13 319.33,443.20 320.16,444.21 321.00,445.17 321.84,446.06 322.68,446.87 323.52,447.61 324.36,448.27 325.20,448.85 326.03,449.35 326.87,449.78 327.71,450.14 328.55,450.44 329.39,450.69 330.23,450.89 331.07,451.06 331.90,451.19 332.74,451.30 333.58,451.38 334.42,451.45 335.26,451.50 336.10,451.54 336.93,451.58 337.77,451.60 338.61,451.62 339.45,451.64 340.29,451.65 341.13,451.66 341.97,451.67 342.80,451.68 343.64,451.68 344.48,451.69 345.32,451.69 346.16,451.69 347.00,451.69 347.84,451.69 348.67,451.70 349.51,451.70 350.35,451.70 351.19,451.70 352.03,451.70 352.87,451.70 353.70,451.70 354.54,451.70 355.38,451.70 356.22,451.70 357.06,451.70 357.90,451.70 358.74,451.70 359.57,451.70 360.41,451.70 361.25,451.70 362.09,451.70 362.93,451.70 363.77,451.70 364.61,451.70 365.44,451.70 366.28,451.70 367.12,451.70 367.96,451.70 368.80,451.70 369.64,451.70 370.48,451.70 371.31,451.70 372.15,451.70 372.99,451.70 373.83,451.70 374.67,451.70 375.51,451.70 376.34,451.70 377.18,451.70 378.02,451.70 378.86,451.70 379.70,451.70 380.54,451.70 381.38,451.70 382.21,451.70 383.05,451.70 383.89,451.70 384.73,451.70 385.57,451.70 386.41,451.70 387.25,451.70 388.08,451.70 388.92,451.70 389.76,451.70 390.60,451.70 391.44,451.70 392.28,451.70 393.11,451.70 393.95,451.70 394.79,451.70 395.63,451.70 396.47,451.70 397.31,451.70 398.15,451.70 398.98,451.70 399.82,451.70 400.66,451.70 401.50,451.70 402.34,451.70 403.18,451.70 404.02,451.70 404.85,451.70 405.69,451.70 406.53,451.70 407.37,451.70 408.21,451.70 409.05,451.70 409.88,451.70 410.72,451.70 411.56,451.70 412.40,451.70 413.24,451.70 414.08,451.70 414.92,451.70 415.75,451.70 416.59,451.70 417.43,451.70 418.27,451.70 419.11,451.70 419.95,451.70 420.79,451.70 421.62,451.70 422.46,451.70 423.30,451.70 424.14,451.70 424.98,451.70 425.82,451.70 426.66,451.70 427.49,451.70 428.33,451.70 429.17,451.70 430.01,451.70 430.85,451.70 431.69,451.70 432.52,451.70 433.36,451.70 434.20,451.70 435.04,451.70 435.88,451.70 436.72,451.70 437.56,451.70 438.39,451.70 439.23,451.70 440.07,451.70 440.91,451.70 441.75,451.70 442.59,451.70 443.43,451.70 444.26,451.70 445.10,451.70 445.94,451.70 446.78,451.70 447.62,451.70 448.46,451.70 449.29,451.70 450.13,451.70 450.97,451.70 451.81,451.70 452.65,451.70 453.49,451.70 454.33,451.70 455.16,451.70 456.00,451.70 456.84,451.70 457.68,451.70 458.52,451.70 459.36,451.70 460.20,451.70 461.03,451.70 461.87,451.70 462.71,451.70 463.55,451.70 464.39,451.70 465.23,451.70 466.06,451.70 466.90,451.70 467.74,451.70 468.58,451.70 469.42,451.70 470.26,451.70 471.10,451.70 471.93,451.70 472.77,451.70 473.61,451.70 474.45,451.70 475.29,451.70 476.13,451.70 476.97,451.70 477.80,451.70 478.64,451.70 479.48,451.70 480.32,451.70 481.16,451.70 482.00,451.70 482.84,451.70 483.67,451.70 484.51,451.70 485.35,451.70 486.19,451.70 487.03,451.70 487.87,451.70 488.70,451.70 489.54,451.70 490.38,451.70 491.22,451.70 492.06,451.70 492.90,451.70 493.74,451.70 494.57,451.70 495.41,451.70 496.25,451.70 497.09,451.70 497.93,451.70 498.77,451.70 499.61,451.70 500.44,451.70 501.28,451.70 502.12,451.70 502.96,451.70 503.80,451.70 504.64,451.70 505.47,451.70 506.31,451.70 507.15,451.70 507.99,451.70 508.83,451.70 509.67,451.70 510.51,451.70 511.34,451.70 512.18,451.70 513.02,451.70 513.86,451.70 514.70,451.70 515.54,451.70 516.38,451.70 517.21,451.70 518.05,451.70 518.89,451.70 519.73,451.70 520.57,451.70 521.41,451.70 522.24,451.70 523.08,451.70 523.92,451.70 524.76,451.70 525.60,451.70 526.44,451.70" fill="none" stroke="#ece51c" stroke-width="3.6" stroke-linejoin="round" stroke-dasharray="1.7 7.7" stroke-dashoffset="0.8" stroke-linecap="round"/>
<line x1="106.2" y1="486.0" x2="337.2" y2="486.0" stroke="#555" stroke-opacity="0.5" stroke-width="1.7"/>
<line x1="168.50" y1="485.60" x2="168.50" y2="480.60" stroke="#3c3c3c" stroke-width="1.6" stroke-opacity="0.35"/>
<line x1="134.60" y1="63.20" x2="171.00" y2="63.20" stroke="#080808" stroke-width="5.8"/>
<line x1="135.6" y1="105.7" x2="168" y2="105.7" stroke="#080808" stroke-width="3.7" stroke-dasharray="2.4 6.9" stroke-linecap="round"/>
<text x="181.30" y="73.95" font-family="'Liberation Serif', 'Times New Roman', serif" font-size="30.00" font-style="italic" fill="#3a3a3a">f</text>
<text x="194.37" y="83.16" font-family="'Liberation Serif', 'Times New Roman', serif" font-size="17.00" font-style="italic" fill="#3a3a3a">i</text>
<text x="208.72" y="73.46" font-family="'Liberation Serif', 'Times New Roman', serif" font-size="28.00" font-style="italic" fill="#3a3a3a">(</text>
<text x="217.28" y="73.80" font-family="'Liberation Serif', 'Times New Roman', serif" font-size="30.00" font-style="italic" fill="#3a3a3a">z</text>
<text x="228.23" y="84.36" font-family="'Liberation Serif', 'Times New Roman', serif" font-size="17.00" font-style="italic" fill="#3a3a3a">j</text>
<text x="236.73" y="72.86" font-family="'Liberation Serif', 'Times New Roman', serif" font-size="28.00" font-style="italic" fill="#3a3a3a">)</text>
<text x="181.60" y="111.22" font-family="'Liberation Serif', 'Times New Roman', serif" font-size="28.30" font-style="italic" fill="#3a3a3a">μ</text>
<text x="199.06" y="121.46" font-family="'Liberation Serif', 'Times New Roman', serif" font-size="17.00" font-style="italic" fill="#3a3a3a">i</text>
<text x="206.32" y="111.06" font-family="'Liberation Serif', 'Times New Roman', serif" font-size="28.00" font-style="italic" fill="#3a3a3a">(</text>
<text x="213.05" y="111.68" font-family="'Liberation Serif', 'Times New Roman', serif" font-size="28.00" font-style="italic" fill="#3a3a3a">z</text>
<text x="225.83" y="122.06" font-family="'Liberation Serif', 'Times New Roman', serif" font-size="17.00" font-style="italic" fill="#3a3a3a">j</text>
<text x="233.73" y="110.46" font-family="'Liberation Serif', 'Times New Roman', serif" font-size="28.00" font-style="italic" fill="#3a3a3a">)</text>
<text x="179.32" y="549.60" font-family="'Liberation Sans', Arial, sans-serif" font-size="32.20" textLength="163.71" lengthAdjust="spacingAndGlyphs" fill="#333333" stroke="#333333" stroke-width="0.3">Marsh Elevation</text>
<text x="352.77" y="549.60" font-family="'Liberation Serif', 'Times New Roman', serif" font-size="32.00" font-style="italic" textLength="14.66" lengthAdjust="spacingAndGlyphs" fill="#3a3a3a">z</text>
<text x="368.45" y="559.80" font-family="'Liberation Serif', 'Times New Roman', serif" font-size="20.00" font-style="italic" fill="#3a3a3a">j</text>
<text x="377.35" y="546.80" font-family="'Liberation Sans', Arial, sans-serif" font-size="28.20" textLength="6.95" lengthAdjust="spacingAndGlyphs" fill="#333333" stroke="#333333" stroke-width="0.3">[</text>
<text x="385.93" y="549.60" font-family="'Liberation Sans', Arial, sans-serif" font-size="32.20" textLength="101.00" lengthAdjust="spacingAndGlyphs" fill="#333333" stroke="#333333" stroke-width="0.3">m a.m.s.l.</text>
<text x="487.51" y="546.80" font-family="'Liberation Sans', Arial, sans-serif" font-size="28.20" textLength="7.09" lengthAdjust="spacingAndGlyphs" fill="#333333" stroke="#333333" stroke-width="0.3">]</text>
<text transform="translate(50.47,416.79) rotate(-90)" x="0.00" y="0.00" font-family="'Liberation Sans', Arial, sans-serif" font-size="33.20" textLength="158.22" lengthAdjust="spacingAndGlyphs" fill="#333333" stroke="#333333" stroke-width="0.3">Habitat Quality</text>
<text transform="translate(49.16,245.61) rotate(-90)" x="0.00" y="0.00" font-family="'Liberation Serif', 'Times New Roman', serif" font-size="31.00" font-style="italic" fill="#3a3a3a">f</text>
<text transform="translate(58.46,229.53) rotate(-90)" x="0.00" y="0.00" font-family="'Liberation Serif', 'Times New Roman', serif" font-size="17.00" font-style="italic" fill="#3a3a3a">i</text>
<text transform="translate(48.54,214.02) rotate(-90)" x="0.00" y="0.00" font-family="'Liberation Serif', 'Times New Roman', serif" font-size="32.00" font-style="italic" fill="#3a3a3a">(</text>
<text transform="translate(52.26,206.15) rotate(-90)" x="0.00" y="0.00" font-family="'Liberation Serif', 'Times New Roman', serif" font-size="36.00" font-style="italic" fill="#3a3a3a">z</text>
<text transform="translate(62.66,192.17) rotate(-90)" x="0.00" y="0.00" font-family="'Liberation Serif', 'Times New Roman', serif" font-size="17.00" font-style="italic" fill="#3a3a3a">j</text>
<text transform="translate(49.54,186.28) rotate(-90)" x="0.00" y="0.00" font-family="'Liberation Serif', 'Times New Roman', serif" font-size="32.00" font-style="italic" fill="#3a3a3a">)</text>
<text transform="translate(47.33,160.46) rotate(-90)" x="0.00" y="0.00" font-family="'Liberation Sans', Arial, sans-serif" font-size="29.00" textLength="24.85" lengthAdjust="spacingAndGlyphs" fill="#333333" stroke="#333333" stroke-width="0.3">[-]</text>
<text transform="translate(621.17,414.01) rotate(-90)" x="0.00" y="0.00" font-family="'Liberation Sans', Arial, sans-serif" font-size="33.20" textLength="150.17" lengthAdjust="spacingAndGlyphs" fill="#333333" stroke="#333333" stroke-width="0.3">Mortality Rate</text>
<text transform="translate(619.12,258.90) rotate(-90)" x="0.00" y="0.00" font-family="'Liberation Serif', 'Times New Roman', serif" font-size="32.00" font-style="italic" fill="#3a3a3a">μ</text>
<text transform="translate(628.76,239.44) rotate(-90)" x="0.00" y="0.00" font-family="'Liberation Serif', 'Times New Roman', serif" font-size="17.00" font-style="italic" fill="#3a3a3a">i</text>
<text transform="translate(618.64,233.12) rotate(-90)" x="0.00" y="0.00" font-family="'Liberation Serif', 'Times New Roman', serif" font-size="32.00" font-style="italic" fill="#3a3a3a">(</text>
<text transform="translate(621.26,223.85) rotate(-90)" x="0.00" y="0.00" font-family="'Liberation Serif', 'Times New Roman', serif" font-size="36.00" font-style="italic" fill="#3a3a3a">z</text>
<text transform="translate(629.86,209.17) rotate(-90)" x="0.00" y="0.00" font-family="'Liberation Serif', 'Times New Roman', serif" font-size="17.00" font-style="italic" fill="#3a3a3a">j</text>
<text transform="translate(618.64,207.08) rotate(-90)" x="0.00" y="0.00" font-family="'Liberation Serif', 'Times New Roman', serif" font-size="32.00" font-style="italic" fill="#3a3a3a">)</text>
<text transform="translate(616.35,178.22) rotate(-90)" x="0.00" y="0.00" font-family="'Liberation Sans', Arial, sans-serif" font-size="28.90" textLength="6.81" lengthAdjust="spacingAndGlyphs" fill="#333333" stroke="#333333" stroke-width="0.3">[</text>
<text transform="translate(619.67,169.29) rotate(-90)" x="0.00" y="0.00" font-family="'Liberation Sans', Arial, sans-serif" font-size="33.20" textLength="44.01" lengthAdjust="spacingAndGlyphs" fill="#333333" stroke="#333333" stroke-width="0.3">days</text>
<text transform="translate(607.98,125.36) rotate(-90)" x="0.00" y="0.00" font-family="'Liberation Sans', Arial, sans-serif" font-size="18.00" textLength="14.99" lengthAdjust="spacingAndGlyphs" fill="#333333" stroke="#333333" stroke-width="0.2">-1</text>
<text transform="translate(616.62,108.68) rotate(-90)" x="0.00" y="0.00" font-family="'Liberation Sans', Arial, sans-serif" font-size="29.00" textLength="6.53" lengthAdjust="spacingAndGlyphs" fill="#333333" stroke="#333333" stroke-width="0.3">]</text>
<path d="M748.1,49.9 H742.6 V485.8 H748.1" fill="none" stroke="#3c3c3c" stroke-width="1.7"/>
<line x1="742.60" y1="398.62" x2="747.60" y2="398.62" stroke="#3c3c3c" stroke-width="1.6"/>
<line x1="742.60" y1="311.44" x2="747.60" y2="311.44" stroke="#3c3c3c" stroke-width="1.6"/>
<line x1="742.60" y1="224.26" x2="747.60" y2="224.26" stroke="#3c3c3c" stroke-width="1.6"/>
<line x1="742.60" y1="137.08" x2="747.60" y2="137.08" stroke="#3c3c3c" stroke-width="1.6"/>
<path d="M778.9,480.5 V485.8 H1163.8899999999999 V480.5" fill="none" stroke="#3c3c3c" stroke-width="1.7"/>
<line x1="907.23" y1="485.80" x2="907.23" y2="480.50" stroke="#3c3c3c" stroke-width="1.6"/>
<line x1="1035.56" y1="485.80" x2="1035.56" y2="480.50" stroke="#3c3c3c" stroke-width="1.6"/>
<text x="702.04" y="498.40" font-family="'Liberation Sans', Arial, sans-serif" font-size="31.20" textLength="33.26" lengthAdjust="spacingAndGlyphs" fill="#333333" stroke="#333333" stroke-width="0.3">0.0</text>
<text x="702.03" y="411.22" font-family="'Liberation Sans', Arial, sans-serif" font-size="31.20" textLength="33.58" lengthAdjust="spacingAndGlyphs" fill="#333333" stroke="#333333" stroke-width="0.3">0.2</text>
<text x="702.05" y="324.04" font-family="'Liberation Sans', Arial, sans-serif" font-size="31.20" textLength="33.01" lengthAdjust="spacingAndGlyphs" fill="#333333" stroke="#333333" stroke-width="0.3">0.4</text>
<text x="702.04" y="236.86" font-family="'Liberation Sans', Arial, sans-serif" font-size="31.20" textLength="33.39" lengthAdjust="spacingAndGlyphs" fill="#333333" stroke="#333333" stroke-width="0.3">0.6</text>
<text x="702.04" y="149.68" font-family="'Liberation Sans', Arial, sans-serif" font-size="31.20" textLength="33.39" lengthAdjust="spacingAndGlyphs" fill="#333333" stroke="#333333" stroke-width="0.3">0.8</text>
<text x="703.27" y="62.50" font-family="'Liberation Sans', Arial, sans-serif" font-size="31.20" textLength="31.99" lengthAdjust="spacingAndGlyphs" fill="#333333" stroke="#333333" stroke-width="0.3">1.0</text>
<text x="775.06" y="517.60" font-family="'Liberation Sans', Arial, sans-serif" font-size="31.00" textLength="9.90" lengthAdjust="spacingAndGlyphs" fill="#333333" stroke="#333333" stroke-width="0.3">1</text>
<text x="901.19" y="517.60" font-family="'Liberation Sans', Arial, sans-serif" font-size="31.00" textLength="12.35" lengthAdjust="spacingAndGlyphs" fill="#333333" stroke="#333333" stroke-width="0.3">2</text>
<text x="1031.02" y="517.60" font-family="'Liberation Sans', Arial, sans-serif" font-size="31.00" textLength="13.00" lengthAdjust="spacingAndGlyphs" fill="#333333" stroke="#333333" stroke-width="0.3">3</text>
<text x="1157.73" y="517.60" font-family="'Liberation Sans', Arial, sans-serif" font-size="31.00" textLength="13.99" lengthAdjust="spacingAndGlyphs" fill="#333333" stroke="#333333" stroke-width="0.3">4</text>
<line x1="778.80" y1="376.20" x2="1164.00" y2="50.00" stroke="#3d3d3d" stroke-width="3.7"/>
<ellipse cx="778.70" cy="376.20" rx="11.8" ry="13.7" fill="#443a96" stroke="#5a5a5a" stroke-width="0.8"/>
<ellipse cx="905.90" cy="266.30" rx="11.8" ry="13.7" fill="#3e91cd" stroke="#5a5a5a" stroke-width="0.8"/>
<ellipse cx="1035.60" cy="158.90" rx="11.8" ry="13.7" fill="#84c25c" stroke="#5a5a5a" stroke-width="0.8"/>
<ellipse cx="1164.00" cy="50.00" rx="11.8" ry="13.7" fill="#ebe823" stroke="#5a5a5a" stroke-width="0.8"/>
<text x="812.73" y="384.60" font-family="'Liberation Serif', 'Times New Roman', serif" font-size="35.50" font-style="italic" fill="#3a3a3a">δ</text>
<text x="829.30" y="395.80" font-family="'Liberation Serif', 'Times New Roman', serif" font-size="20.00" font-style="italic" fill="#3a3a3a">1</text>
<text x="845.32" y="384.60" font-family="'Liberation Serif', 'Times New Roman', serif" font-size="33.00" textLength="22.32" lengthAdjust="spacingAndGlyphs" fill="#4a4a4a">=</text>
<text x="875.33" y="384.60" font-family="'Liberation Serif', 'Times New Roman', serif" font-size="35.50" font-style="italic" fill="#3a3a3a">δ</text>
<text x="890.75" y="395.80" font-family="'Liberation Serif', 'Times New Roman', serif" font-size="20.00" font-style="italic" textLength="36.66" lengthAdjust="spacingAndGlyphs" fill="#3a3a3a">MIN</text>
<text x="959.13" y="62.50" font-family="'Liberation Serif', 'Times New Roman', serif" font-size="35.50" font-style="italic" fill="#3a3a3a">δ</text>
<text x="975.95" y="72.80" font-family="'Liberation Serif', 'Times New Roman', serif" font-size="20.00" font-style="italic" fill="#3a3a3a">4</text>
<text x="991.26" y="62.50" font-family="'Liberation Serif', 'Times New Roman', serif" font-size="33.00" textLength="23.04" lengthAdjust="spacingAndGlyphs" fill="#4a4a4a">=</text>
<text x="1020.73" y="62.50" font-family="'Liberation Serif', 'Times New Roman', serif" font-size="35.50" font-style="italic" fill="#3a3a3a">δ</text>
<text x="1036.96" y="72.80" font-family="'Liberation Serif', 'Times New Roman', serif" font-size="20.00" font-style="italic" textLength="42.37" lengthAdjust="spacingAndGlyphs" fill="#3a3a3a">MAX</text>
<text x="1087.53" y="62.50" font-family="'Liberation Serif', 'Times New Roman', serif" font-size="33.00" textLength="22.20" lengthAdjust="spacingAndGlyphs" fill="#4a4a4a">=</text>
<text x="1118.74" y="62.80" font-family="'Liberation Serif', 'Times New Roman', serif" font-size="36.00" font-style="italic" fill="#3a3a3a">1</text>
<text x="862.69" y="550.70" font-family="'Liberation Sans', Arial, sans-serif" font-size="32.50" textLength="193.70" lengthAdjust="spacingAndGlyphs" fill="#333333" stroke="#333333" stroke-width="0.3">Vegetation Species</text>
<text x="1062.08" y="550.70" font-family="'Liberation Serif', 'Times New Roman', serif" font-size="35.00" font-style="italic" fill="#3a3a3a">i</text>
<text transform="translate(685.98,444.47) rotate(-90)" x="0.00" y="0.00" font-family="'Liberation Sans', Arial, sans-serif" font-size="32.80" textLength="287.51" lengthAdjust="spacingAndGlyphs" fill="#333333" stroke="#333333" stroke-width="0.3">Baseline Competitve Ability</text>
<text transform="translate(683.70,148.16) rotate(-90)" x="0.00" y="0.00" font-family="'Liberation Serif', 'Times New Roman', serif" font-size="32.00" font-style="italic" fill="#3a3a3a">δ</text>
<text transform="translate(695.86,132.94) rotate(-90)" x="0.00" y="0.00" font-family="'Liberation Serif', 'Times New Roman', serif" font-size="17.00" font-style="italic" fill="#3a3a3a">i</text>
<text transform="translate(682.32,116.91) rotate(-90)" x="0.00" y="0.00" font-family="'Liberation Sans', Arial, sans-serif" font-size="29.00" textLength="25.56" lengthAdjust="spacingAndGlyphs" fill="#333333" stroke="#333333" stroke-width="0.3">[-]</text>
<path d="M1340.2,49.9 H1335.0 V485.8 H1771.0" fill="none" stroke="#3c3c3c" stroke-width="1.7"/>
<line x1="1335.00" y1="398.62" x2="1340.00" y2="398.62" stroke="#3c3c3c" stroke-width="1.6"/>
<line x1="1335.00" y1="311.44" x2="1340.00" y2="311.44" stroke="#3c3c3c" stroke-width="1.6"/>
<line x1="1335.00" y1="224.26" x2="1340.00" y2="224.26" stroke="#3c3c3c" stroke-width="1.6"/>
<line x1="1335.00" y1="137.08" x2="1340.00" y2="137.08" stroke="#3c3c3c" stroke-width="1.6"/>
<line x1="1396.80" y1="485.80" x2="1396.80" y2="480.80" stroke="#3c3c3c" stroke-width="1.6"/>
<line x1="1552.70" y1="485.80" x2="1552.70" y2="480.80" stroke="#3c3c3c" stroke-width="1.6"/>
<line x1="1708.60" y1="485.80" x2="1708.60" y2="480.80" stroke="#3c3c3c" stroke-width="1.6"/>
<text x="1290.04" y="498.40" font-family="'Liberation Sans', Arial, sans-serif" font-size="31.20" textLength="33.26" lengthAdjust="spacingAndGlyphs" fill="#333333" stroke="#333333" stroke-width="0.3">0.0</text>
<text x="1290.03" y="411.22" font-family="'Liberation Sans', Arial, sans-serif" font-size="31.20" textLength="33.58" lengthAdjust="spacingAndGlyphs" fill="#333333" stroke="#333333" stroke-width="0.3">0.2</text>
<text x="1290.05" y="324.04" font-family="'Liberation Sans', Arial, sans-serif" font-size="31.20" textLength="33.01" lengthAdjust="spacingAndGlyphs" fill="#333333" stroke="#333333" stroke-width="0.3">0.4</text>
<text x="1290.04" y="236.86" font-family="'Liberation Sans', Arial, sans-serif" font-size="31.20" textLength="33.39" lengthAdjust="spacingAndGlyphs" fill="#333333" stroke="#333333" stroke-width="0.3">0.6</text>
<text x="1290.04" y="149.68" font-family="'Liberation Sans', Arial, sans-serif" font-size="31.20" textLength="33.39" lengthAdjust="spacingAndGlyphs" fill="#333333" stroke="#333333" stroke-width="0.3">0.8</text>
<text x="1291.27" y="62.50" font-family="'Liberation Sans', Arial, sans-serif" font-size="31.20" textLength="31.99" lengthAdjust="spacingAndGlyphs" fill="#333333" stroke="#333333" stroke-width="0.3">1.0</text>
<text x="1385.88" y="516.90" font-family="'Liberation Sans', Arial, sans-serif" font-size="30.60" textLength="31.88" lengthAdjust="spacingAndGlyphs" fill="#333333" stroke="#333333" stroke-width="0.3">0.0</text>
<text x="1451.16" y="516.90" font-family="'Liberation Sans', Arial, sans-serif" font-size="30.60" textLength="45.82" lengthAdjust="spacingAndGlyphs" fill="#333333" stroke="#333333" stroke-width="0.3">0.25</text>
<text x="1531.26" y="516.90" font-family="'Liberation Sans', Arial, sans-serif" font-size="30.60" textLength="45.55" lengthAdjust="spacingAndGlyphs" fill="#333333" stroke="#333333" stroke-width="0.3">0.50</text>
<text x="1611.15" y="516.90" font-family="'Liberation Sans', Arial, sans-serif" font-size="30.60" textLength="46.02" lengthAdjust="spacingAndGlyphs" fill="#333333" stroke="#333333" stroke-width="0.3">0.75</text>
<text x="1691.23" y="516.90" font-family="'Liberation Sans', Arial, sans-serif" font-size="30.60" textLength="45.99" lengthAdjust="spacingAndGlyphs" fill="#333333" stroke="#333333" stroke-width="0.3">1.00</text>
<polyline points="1335.06,472.89 1335.66,472.78 1336.26,472.67 1336.86,472.56 1337.47,472.44 1338.07,472.33 1338.67,472.21 1339.27,472.09 1339.87,471.98 1340.47,471.86 1341.07,471.74 1341.67,471.62 1342.27,471.50 1342.87,471.38 1343.47,471.26 1344.07,471.13 1344.67,471.01 1345.27,470.88 1345.87,470.76 1346.47,470.63 1347.07,470.50 1347.67,470.38 1348.27,470.25 1348.87,470.12 1349.47,469.99 1350.07,469.85 1350.67,469.72 1351.28,469.59 1351.88,469.45 1352.48,469.32 1353.08,469.18 1353.68,469.04 1354.28,468.90 1354.88,468.76 1355.48,468.62 1356.08,468.48 1356.68,468.34 1357.28,468.20 1357.88,468.05 1358.48,467.91 1359.08,467.76 1359.68,467.62 1360.28,467.47 1360.88,467.32 1361.48,467.17 1362.08,467.02 1362.68,466.87 1363.28,466.72 1363.88,466.56 1364.49,466.41 1365.09,466.25 1365.69,466.10 1366.29,465.94 1366.89,465.78 1367.49,465.62 1368.09,465.46 1368.69,465.30 1369.29,465.14 1369.89,464.98 1370.49,464.81 1371.09,464.65 1371.69,464.48 1372.29,464.32 1372.89,464.15 1373.49,463.98 1374.09,463.81 1374.69,463.64 1375.29,463.47 1375.89,463.30 1376.49,463.12 1377.09,462.95 1377.69,462.77 1378.30,462.60 1378.90,462.42 1379.50,462.24 1380.10,462.06 1380.70,461.88 1381.30,461.70 1381.90,461.52 1382.50,461.33 1383.10,461.15 1383.70,460.96 1384.30,460.78 1384.90,460.59 1385.50,460.40 1386.10,460.21 1386.70,460.02 1387.30,459.83 1387.90,459.64 1388.50,459.45 1389.10,459.25 1389.70,459.06 1390.30,458.86 1390.90,458.67 1391.50,458.47 1392.11,458.27 1392.71,458.07 1393.31,457.87 1393.91,457.67 1394.51,457.47 1395.11,457.26 1395.71,457.06 1396.31,456.85 1396.91,456.65 1397.51,456.44 1398.11,456.23 1398.71,456.02 1399.31,455.81 1399.91,455.60 1400.51,455.39 1401.11,455.18 1401.71,454.97 1402.31,454.75 1402.91,454.54 1403.51,454.32 1404.11,454.10 1404.71,453.89 1405.31,453.67 1405.92,453.45 1406.52,453.23 1407.12,453.01 1407.72,452.79 1408.32,452.56 1408.92,452.34 1409.52,452.12 1410.12,451.89 1410.72,451.66 1411.32,451.44 1411.92,451.21 1412.52,450.98 1413.12,450.75 1413.72,450.52 1414.32,450.29 1414.92,450.06 1415.52,449.83 1416.12,449.59 1416.72,449.36 1417.32,449.13 1417.92,448.89 1418.52,448.65 1419.12,448.42 1419.73,448.18 1420.33,447.94 1420.93,447.70 1421.53,447.46 1422.13,447.22 1422.73,446.98 1423.33,446.74 1423.93,446.50 1424.53,446.26 1425.13,446.01 1425.73,445.77 1426.33,445.52 1426.93,445.28 1427.53,445.03 1428.13,444.79 1428.73,444.54 1429.33,444.29 1429.93,444.04 1430.53,443.79 1431.13,443.54 1431.73,443.30 1432.33,443.04 1432.93,442.79 1433.54,442.54 1434.14,442.29 1434.74,442.04 1435.34,441.79 1435.94,441.53 1436.54,441.28 1437.14,441.02 1437.74,440.77 1438.34,440.51 1438.94,440.26 1439.54,440.00 1440.14,439.75 1440.74,439.49 1441.34,439.23 1441.94,438.98 1442.54,438.72 1443.14,438.46 1443.74,438.20 1444.34,437.94 1444.94,437.69 1445.54,437.43 1446.14,437.17 1446.75,436.91 1447.35,436.65 1447.95,436.39 1448.55,436.13 1449.15,435.87 1449.75,435.61 1450.35,435.34 1450.95,435.08 1451.55,434.82 1452.15,434.56 1452.75,434.30 1453.35,434.04 1453.95,433.78 1454.55,433.51 1455.15,433.25 1455.75,432.99 1456.35,432.73 1456.95,432.46 1457.55,432.20 1458.15,431.94 1458.75,431.68 1459.35,431.42 1459.95,431.15 1460.56,430.89 1461.16,430.63 1461.76,430.37 1462.36,430.10 1462.96,429.84 1463.56,429.58 1464.16,429.32 1464.76,429.06 1465.36,428.79 1465.96,428.53 1466.56,428.27 1467.16,428.01 1467.76,427.75 1468.36,427.49 1468.96,427.23 1469.56,426.97 1470.16,426.70 1470.76,426.44 1471.36,426.18 1471.96,425.92 1472.56,425.67 1473.16,425.41 1473.76,425.15 1474.37,424.89 1474.97,424.63 1475.57,424.37 1476.17,424.11 1476.77,423.86 1477.37,423.60 1477.97,423.34 1478.57,423.09 1479.17,422.83 1479.77,422.58 1480.37,422.32 1480.97,422.07 1481.57,421.81 1482.17,421.56 1482.77,421.30 1483.37,421.05 1483.97,420.80 1484.57,420.55 1485.17,420.29 1485.77,420.04 1486.37,419.79 1486.97,419.54 1487.57,419.29 1488.18,419.04 1488.78,418.80 1489.38,418.55 1489.98,418.30 1490.58,418.05 1491.18,417.81 1491.78,417.56 1492.38,417.32 1492.98,417.07 1493.58,416.83 1494.18,416.59 1494.78,416.34 1495.38,416.10 1495.98,415.86 1496.58,415.62 1497.18,415.38 1497.78,415.14 1498.38,414.90 1498.98,414.67 1499.58,414.43 1500.18,414.19 1500.78,413.96 1501.38,413.72 1501.99,413.49 1502.59,413.26 1503.19,413.02 1503.79,412.79 1504.39,412.56 1504.99,412.33 1505.59,412.10 1506.19,411.87 1506.79,411.64 1507.39,411.42 1507.99,411.19 1508.59,410.96 1509.19,410.74 1509.79,410.52 1510.39,410.29 1510.99,410.07 1511.59,409.85 1512.19,409.63 1512.79,409.41 1513.39,409.19 1513.99,408.97 1514.59,408.75 1515.19,408.54 1515.80,408.32 1516.40,408.11 1517.00,407.90 1517.60,407.68 1518.20,407.47 1518.80,407.26 1519.40,407.05 1520.00,406.84 1520.60,406.63 1521.20,406.42 1521.80,406.22 1522.40,406.01 1523.00,405.81 1523.60,405.60 1524.20,405.40 1524.80,405.20 1525.40,405.00 1526.00,404.80 1526.60,404.60 1527.20,404.40 1527.80,404.21 1528.40,404.01 1529.00,403.81 1529.61,403.62 1530.21,403.43 1530.81,403.23 1531.41,403.04 1532.01,402.85 1532.61,402.66 1533.21,402.48 1533.81,402.29 1534.41,402.10 1535.01,401.92 1535.61,401.73 1536.21,401.55 1536.81,401.37 1537.41,401.18 1538.01,401.00 1538.61,400.82 1539.21,400.64 1539.81,400.47 1540.41,400.29 1541.01,400.11 1541.61,399.94 1542.21,399.76 1542.82,399.59 1543.42,399.42 1544.02,399.25 1544.62,399.08 1545.22,398.91 1545.82,398.74 1546.42,398.57 1547.02,398.41 1547.62,398.24 1548.22,398.08 1548.82,397.92 1549.42,397.75 1550.02,397.59 1550.62,397.43 1551.22,397.27 1551.82,397.11 1552.42,396.96 1553.02,396.80 1553.62,396.64 1554.22,396.49 1554.82,396.34 1555.42,396.18 1556.02,396.03 1556.63,395.88 1557.23,395.73 1557.83,395.58 1558.43,395.43 1559.03,395.29 1559.63,395.14 1560.23,395.00 1560.83,394.85 1561.43,394.71 1562.03,394.57 1562.63,394.43 1563.23,394.28 1563.83,394.15 1564.43,394.01 1565.03,393.87 1565.63,393.73 1566.23,393.60 1566.83,393.46 1567.43,393.33 1568.03,393.19 1568.63,393.06 1569.23,392.93 1569.83,392.80 1570.44,392.67 1571.04,392.54 1571.64,392.41 1572.24,392.29 1572.84,392.16 1573.44,392.03 1574.04,391.91 1574.64,391.79 1575.24,391.66 1575.84,391.54 1576.44,391.42 1577.04,391.30 1577.64,391.18 1578.24,391.06 1578.84,390.95 1579.44,390.83 1580.04,390.71 1580.64,390.60 1581.24,390.48 1581.84,390.37 1582.44,390.26 1583.04,390.15 1583.64,390.04 1584.25,389.93 1584.85,389.82 1585.45,389.71 1586.05,389.60 1586.65,389.49 1587.25,389.39 1587.85,389.28 1588.45,389.18 1589.05,389.07 1589.65,388.97 1590.25,388.87 1590.85,388.77 1591.45,388.67 1592.05,388.57 1592.65,388.47 1593.25,388.37 1593.85,388.27 1594.45,388.17 1595.05,388.08 1595.65,387.98 1596.25,387.89 1596.85,387.79 1597.45,387.70 1598.06,387.61 1598.66,387.52 1599.26,387.43 1599.86,387.33 1600.46,387.25 1601.06,387.16 1601.66,387.07 1602.26,386.98 1602.86,386.89 1603.46,386.81 1604.06,386.72 1604.66,386.64 1605.26,386.55 1605.86,386.47 1606.46,386.39 1607.06,386.30 1607.66,386.22 1608.26,386.14 1608.86,386.06 1609.46,385.98 1610.06,385.90 1610.66,385.82 1611.26,385.75 1611.87,385.67 1612.47,385.59 1613.07,385.52 1613.67,385.44 1614.27,385.37 1614.87,385.29 1615.47,385.22 1616.07,385.15 1616.67,385.07 1617.27,385.00 1617.87,384.93 1618.47,384.86 1619.07,384.79 1619.67,384.72 1620.27,384.65 1620.87,384.58 1621.47,384.52 1622.07,384.45 1622.67,384.38 1623.27,384.32 1623.87,384.25 1624.47,384.19 1625.08,384.12 1625.68,384.06 1626.28,383.99 1626.88,383.93 1627.48,383.87 1628.08,383.81 1628.68,383.75 1629.28,383.69 1629.88,383.63 1630.48,383.57 1631.08,383.51 1631.68,383.45 1632.28,383.39 1632.88,383.33 1633.48,383.28 1634.08,383.22 1634.68,383.16 1635.28,383.11 1635.88,383.05 1636.48,383.00 1637.08,382.94 1637.68,382.89 1638.28,382.84 1638.89,382.78 1639.49,382.73 1640.09,382.68 1640.69,382.63 1641.29,382.57 1641.89,382.52 1642.49,382.47 1643.09,382.42 1643.69,382.37 1644.29,382.33 1644.89,382.28 1645.49,382.23 1646.09,382.18 1646.69,382.13 1647.29,382.09 1647.89,382.04 1648.49,381.99 1649.09,381.95 1649.69,381.90 1650.29,381.86 1650.89,381.81 1651.49,381.77 1652.09,381.73 1652.70,381.68 1653.30,381.64 1653.90,381.60 1654.50,381.56 1655.10,381.51 1655.70,381.47 1656.30,381.43 1656.90,381.39 1657.50,381.35 1658.10,381.31 1658.70,381.27 1659.30,381.23 1659.90,381.19 1660.50,381.15 1661.10,381.11 1661.70,381.08 1662.30,381.04 1662.90,381.00 1663.50,380.96 1664.10,380.93 1664.70,380.89 1665.30,380.86 1665.90,380.82 1666.51,380.78 1667.11,380.75 1667.71,380.72 1668.31,380.68 1668.91,380.65 1669.51,380.61 1670.11,380.58 1670.71,380.55 1671.31,380.51 1671.91,380.48 1672.51,380.45 1673.11,380.42 1673.71,380.38 1674.31,380.35 1674.91,380.32 1675.51,380.29 1676.11,380.26 1676.71,380.23 1677.31,380.20 1677.91,380.17 1678.51,380.14 1679.11,380.11 1679.71,380.08 1680.32,380.05 1680.92,380.03 1681.52,380.00 1682.12,379.97 1682.72,379.94 1683.32,379.91 1683.92,379.89 1684.52,379.86 1685.12,379.83 1685.72,379.81 1686.32,379.78 1686.92,379.75 1687.52,379.73 1688.12,379.70 1688.72,379.68 1689.32,379.65 1689.92,379.63 1690.52,379.60 1691.12,379.58 1691.72,379.56 1692.32,379.53 1692.92,379.51 1693.52,379.48 1694.13,379.46 1694.73,379.44 1695.33,379.42 1695.93,379.39 1696.53,379.37 1697.13,379.35 1697.73,379.33 1698.33,379.30 1698.93,379.28 1699.53,379.26 1700.13,379.24 1700.73,379.22 1701.33,379.20 1701.93,379.18 1702.53,379.16 1703.13,379.14 1703.73,379.12 1704.33,379.10 1704.93,379.08 1705.53,379.06 1706.13,379.04 1706.73,379.02 1707.33,379.00 1707.94,378.98 1708.54,378.96 1709.14,378.94 1709.74,378.93 1710.34,378.91 1710.94,378.89 1711.54,378.87 1712.14,378.85 1712.74,378.84 1713.34,378.82 1713.94,378.80 1714.54,378.79 1715.14,378.77 1715.74,378.75 1716.34,378.74 1716.94,378.72 1717.54,378.70 1718.14,378.69 1718.74,378.67 1719.34,378.65 1719.94,378.64 1720.54,378.62 1721.15,378.61 1721.75,378.59 1722.35,378.58 1722.95,378.56 1723.55,378.55 1724.15,378.53 1724.75,378.52 1725.35,378.51 1725.95,378.49 1726.55,378.48 1727.15,378.46 1727.75,378.45 1728.35,378.44 1728.95,378.42 1729.55,378.41 1730.15,378.39 1730.75,378.38 1731.35,378.37 1731.95,378.36 1732.55,378.34 1733.15,378.33 1733.75,378.32 1734.35,378.31 1734.96,378.29 1735.56,378.28 1736.16,378.27 1736.76,378.26 1737.36,378.24 1737.96,378.23 1738.56,378.22 1739.16,378.21 1739.76,378.20 1740.36,378.19 1740.96,378.18 1741.56,378.16 1742.16,378.15 1742.76,378.14 1743.36,378.13 1743.96,378.12 1744.56,378.11 1745.16,378.10 1745.76,378.09 1746.36,378.08 1746.96,378.07 1747.56,378.06 1748.16,378.05 1748.77,378.04 1749.37,378.03 1749.97,378.02 1750.57,378.01 1751.17,378.00 1751.77,377.99 1752.37,377.98 1752.97,377.97 1753.57,377.96 1754.17,377.95 1754.77,377.94 1755.37,377.93" fill="none" stroke="#443a96" stroke-width="5.9" stroke-linejoin="round"/>
<polyline points="1335.06,485.88 1335.66,485.87 1336.26,485.87 1336.86,485.86 1337.47,485.86 1338.07,485.86 1338.67,485.85 1339.27,485.85 1339.87,485.84 1340.47,485.84 1341.07,485.83 1341.67,485.83 1342.27,485.82 1342.87,485.82 1343.47,485.81 1344.07,485.81 1344.67,485.80 1345.27,485.80 1345.87,485.79 1346.47,485.79 1347.07,485.78 1347.67,485.77 1348.27,485.77 1348.87,485.76 1349.47,485.75 1350.07,485.74 1350.67,485.74 1351.28,485.73 1351.88,485.72 1352.48,485.71 1353.08,485.70 1353.68,485.70 1354.28,485.69 1354.88,485.68 1355.48,485.67 1356.08,485.66 1356.68,485.65 1357.28,485.64 1357.88,485.63 1358.48,485.62 1359.08,485.61 1359.68,485.59 1360.28,485.58 1360.88,485.57 1361.48,485.56 1362.08,485.55 1362.68,485.53 1363.28,485.52 1363.88,485.50 1364.49,485.49 1365.09,485.47 1365.69,485.46 1366.29,485.44 1366.89,485.43 1367.49,485.41 1368.09,485.39 1368.69,485.38 1369.29,485.36 1369.89,485.34 1370.49,485.32 1371.09,485.30 1371.69,485.28 1372.29,485.26 1372.89,485.24 1373.49,485.21 1374.09,485.19 1374.69,485.17 1375.29,485.14 1375.89,485.12 1376.49,485.09 1377.09,485.07 1377.69,485.04 1378.30,485.01 1378.90,484.98 1379.50,484.95 1380.10,484.92 1380.70,484.89 1381.30,484.86 1381.90,484.82 1382.50,484.79 1383.10,484.75 1383.70,484.72 1384.30,484.68 1384.90,484.64 1385.50,484.60 1386.10,484.56 1386.70,484.52 1387.30,484.48 1387.90,484.43 1388.50,484.39 1389.10,484.34 1389.70,484.29 1390.30,484.24 1390.90,484.19 1391.50,484.14 1392.11,484.08 1392.71,484.03 1393.31,483.97 1393.91,483.91 1394.51,483.85 1395.11,483.79 1395.71,483.73 1396.31,483.66 1396.91,483.59 1397.51,483.52 1398.11,483.45 1398.71,483.38 1399.31,483.30 1399.91,483.22 1400.51,483.14 1401.11,483.06 1401.71,482.98 1402.31,482.89 1402.91,482.80 1403.51,482.71 1404.11,482.61 1404.71,482.51 1405.31,482.41 1405.92,482.31 1406.52,482.20 1407.12,482.09 1407.72,481.98 1408.32,481.87 1408.92,481.75 1409.52,481.62 1410.12,481.50 1410.72,481.37 1411.32,481.24 1411.92,481.10 1412.52,480.96 1413.12,480.82 1413.72,480.67 1414.32,480.52 1414.92,480.36 1415.52,480.20 1416.12,480.03 1416.72,479.86 1417.32,479.69 1417.92,479.51 1418.52,479.32 1419.12,479.13 1419.73,478.94 1420.33,478.74 1420.93,478.53 1421.53,478.32 1422.13,478.11 1422.73,477.88 1423.33,477.65 1423.93,477.42 1424.53,477.18 1425.13,476.93 1425.73,476.68 1426.33,476.42 1426.93,476.15 1427.53,475.87 1428.13,475.59 1428.73,475.30 1429.33,475.00 1429.93,474.70 1430.53,474.38 1431.13,474.06 1431.73,473.73 1432.33,473.39 1432.93,473.04 1433.54,472.69 1434.14,472.32 1434.74,471.95 1435.34,471.56 1435.94,471.17 1436.54,470.76 1437.14,470.35 1437.74,469.92 1438.34,469.49 1438.94,469.04 1439.54,468.58 1440.14,468.12 1440.74,467.64 1441.34,467.14 1441.94,466.64 1442.54,466.13 1443.14,465.60 1443.74,465.06 1444.34,464.50 1444.94,463.94 1445.54,463.36 1446.14,462.77 1446.75,462.16 1447.35,461.54 1447.95,460.90 1448.55,460.26 1449.15,459.59 1449.75,458.91 1450.35,458.22 1450.95,457.51 1451.55,456.79 1452.15,456.05 1452.75,455.30 1453.35,454.53 1453.95,453.74 1454.55,452.94 1455.15,452.12 1455.75,451.29 1456.35,450.44 1456.95,449.57 1457.55,448.68 1458.15,447.78 1458.75,446.86 1459.35,445.93 1459.95,444.97 1460.56,444.00 1461.16,443.01 1461.76,442.01 1462.36,440.99 1462.96,439.95 1463.56,438.89 1464.16,437.81 1464.76,436.72 1465.36,435.61 1465.96,434.48 1466.56,433.34 1467.16,432.17 1467.76,430.99 1468.36,429.80 1468.96,428.58 1469.56,427.35 1470.16,426.11 1470.76,424.84 1471.36,423.57 1471.96,422.27 1472.56,420.96 1473.16,419.63 1473.76,418.29 1474.37,416.94 1474.97,415.57 1475.57,414.18 1476.17,412.79 1476.77,411.37 1477.37,409.95 1477.97,408.51 1478.57,407.06 1479.17,405.60 1479.77,404.13 1480.37,402.65 1480.97,401.16 1481.57,399.66 1482.17,398.15 1482.77,396.63 1483.37,395.10 1483.97,393.57 1484.57,392.03 1485.17,390.48 1485.77,388.92 1486.37,387.37 1486.97,385.81 1487.57,384.24 1488.18,382.67 1488.78,381.10 1489.38,379.53 1489.98,377.95 1490.58,376.38 1491.18,374.80 1491.78,373.23 1492.38,371.66 1492.98,370.09 1493.58,368.52 1494.18,366.96 1494.78,365.40 1495.38,363.85 1495.98,362.30 1496.58,360.76 1497.18,359.22 1497.78,357.69 1498.38,356.17 1498.98,354.66 1499.58,353.16 1500.18,351.66 1500.78,350.18 1501.38,348.70 1501.99,347.24 1502.59,345.79 1503.19,344.35 1503.79,342.92 1504.39,341.51 1504.99,340.11 1505.59,338.72 1506.19,337.35 1506.79,335.99 1507.39,334.65 1507.99,333.32 1508.59,332.00 1509.19,330.71 1509.79,329.42 1510.39,328.16 1510.99,326.91 1511.59,325.67 1512.19,324.46 1512.79,323.26 1513.39,322.07 1513.99,320.91 1514.59,319.76 1515.19,318.63 1515.80,317.51 1516.40,316.42 1517.00,315.34 1517.60,314.28 1518.20,313.23 1518.80,312.21 1519.40,311.20 1520.00,310.20 1520.60,309.23 1521.20,308.27 1521.80,307.33 1522.40,306.41 1523.00,305.51 1523.60,304.62 1524.20,303.74 1524.80,302.89 1525.40,302.05 1526.00,301.23 1526.60,300.42 1527.20,299.64 1527.80,298.86 1528.40,298.10 1529.00,297.36 1529.61,296.64 1530.21,295.93 1530.81,295.23 1531.41,294.55 1532.01,293.88 1532.61,293.23 1533.21,292.59 1533.81,291.97 1534.41,291.36 1535.01,290.77 1535.61,290.18 1536.21,289.61 1536.81,289.06 1537.41,288.52 1538.01,287.98 1538.61,287.47 1539.21,286.96 1539.81,286.47 1540.41,285.98 1541.01,285.51 1541.61,285.05 1542.21,284.60 1542.82,284.17 1543.42,283.74 1544.02,283.32 1544.62,282.92 1545.22,282.52 1545.82,282.13 1546.42,281.76 1547.02,281.39 1547.62,281.03 1548.22,280.68 1548.82,280.34 1549.42,280.01 1550.02,279.69 1550.62,279.37 1551.22,279.06 1551.82,278.76 1552.42,278.47 1553.02,278.19 1553.62,277.91 1554.22,277.64 1554.82,277.38 1555.42,277.12 1556.02,276.87 1556.63,276.63 1557.23,276.39 1557.83,276.16 1558.43,275.94 1559.03,275.72 1559.63,275.51 1560.23,275.30 1560.83,275.10 1561.43,274.91 1562.03,274.72 1562.63,274.53 1563.23,274.35 1563.83,274.17 1564.43,274.00 1565.03,273.84 1565.63,273.67 1566.23,273.52 1566.83,273.36 1567.43,273.21 1568.03,273.07 1568.63,272.93 1569.23,272.79 1569.83,272.66 1570.44,272.53 1571.04,272.40 1571.64,272.28 1572.24,272.16 1572.84,272.04 1573.44,271.93 1574.04,271.82 1574.64,271.71 1575.24,271.61 1575.84,271.51 1576.44,271.41 1577.04,271.31 1577.64,271.22 1578.24,271.13 1578.84,271.04 1579.44,270.96 1580.04,270.87 1580.64,270.79 1581.24,270.72 1581.84,270.64 1582.44,270.56 1583.04,270.49 1583.64,270.42 1584.25,270.35 1584.85,270.29 1585.45,270.22 1586.05,270.16 1586.65,270.10 1587.25,270.04 1587.85,269.98 1588.45,269.93 1589.05,269.87 1589.65,269.82 1590.25,269.77 1590.85,269.72 1591.45,269.67 1592.05,269.62 1592.65,269.58 1593.25,269.53 1593.85,269.49 1594.45,269.45 1595.05,269.41 1595.65,269.37 1596.25,269.33 1596.85,269.29 1597.45,269.25 1598.06,269.22 1598.66,269.18 1599.26,269.15 1599.86,269.12 1600.46,269.09 1601.06,269.05 1601.66,269.02 1602.26,269.00 1602.86,268.97 1603.46,268.94 1604.06,268.91 1604.66,268.89 1605.26,268.86 1605.86,268.84 1606.46,268.81 1607.06,268.79 1607.66,268.77 1608.26,268.75 1608.86,268.73 1609.46,268.71 1610.06,268.69 1610.66,268.67 1611.26,268.65 1611.87,268.63 1612.47,268.61 1613.07,268.59 1613.67,268.58 1614.27,268.56 1614.87,268.54 1615.47,268.53 1616.07,268.51 1616.67,268.50 1617.27,268.48 1617.87,268.47 1618.47,268.46 1619.07,268.44 1619.67,268.43 1620.27,268.42 1620.87,268.41 1621.47,268.40 1622.07,268.38 1622.67,268.37 1623.27,268.36 1623.87,268.35 1624.47,268.34 1625.08,268.33 1625.68,268.32 1626.28,268.31 1626.88,268.31 1627.48,268.30 1628.08,268.29 1628.68,268.28 1629.28,268.27 1629.88,268.26 1630.48,268.26 1631.08,268.25 1631.68,268.24 1632.28,268.24 1632.88,268.23 1633.48,268.22 1634.08,268.22 1634.68,268.21 1635.28,268.20 1635.88,268.20 1636.48,268.19 1637.08,268.19 1637.68,268.18 1638.28,268.18 1638.89,268.17 1639.49,268.17 1640.09,268.16 1640.69,268.16 1641.29,268.15 1641.89,268.15 1642.49,268.14 1643.09,268.14 1643.69,268.14 1644.29,268.13 1644.89,268.13 1645.49,268.12 1646.09,268.12 1646.69,268.12 1647.29,268.11 1647.89,268.11 1648.49,268.11 1649.09,268.11 1649.69,268.10 1650.29,268.10 1650.89,268.10 1651.49,268.09 1652.09,268.09 1652.70,268.09 1653.30,268.09 1653.90,268.08 1654.50,268.08 1655.10,268.08 1655.70,268.08 1656.30,268.07 1656.90,268.07 1657.50,268.07 1658.10,268.07 1658.70,268.07 1659.30,268.06 1659.90,268.06 1660.50,268.06 1661.10,268.06 1661.70,268.06 1662.30,268.06 1662.90,268.05 1663.50,268.05 1664.10,268.05 1664.70,268.05 1665.30,268.05 1665.90,268.05 1666.51,268.05 1667.11,268.04 1667.71,268.04 1668.31,268.04 1668.91,268.04 1669.51,268.04 1670.11,268.04 1670.71,268.04 1671.31,268.04 1671.91,268.04 1672.51,268.03 1673.11,268.03 1673.71,268.03 1674.31,268.03 1674.91,268.03 1675.51,268.03 1676.11,268.03 1676.71,268.03 1677.31,268.03 1677.91,268.03 1678.51,268.03 1679.11,268.02 1679.71,268.02 1680.32,268.02 1680.92,268.02 1681.52,268.02 1682.12,268.02 1682.72,268.02 1683.32,268.02 1683.92,268.02 1684.52,268.02 1685.12,268.02 1685.72,268.02 1686.32,268.02 1686.92,268.02 1687.52,268.02 1688.12,268.02 1688.72,268.02 1689.32,268.02 1689.92,268.01 1690.52,268.01 1691.12,268.01 1691.72,268.01 1692.32,268.01 1692.92,268.01 1693.52,268.01 1694.13,268.01 1694.73,268.01 1695.33,268.01 1695.93,268.01 1696.53,268.01 1697.13,268.01 1697.73,268.01 1698.33,268.01 1698.93,268.01 1699.53,268.01 1700.13,268.01 1700.73,268.01 1701.33,268.01 1701.93,268.01 1702.53,268.01 1703.13,268.01 1703.73,268.01 1704.33,268.01 1704.93,268.01 1705.53,268.01 1706.13,268.01 1706.73,268.01 1707.33,268.01 1707.94,268.01 1708.54,268.01 1709.14,268.01 1709.74,268.01 1710.34,268.01 1710.94,268.01 1711.54,268.01 1712.14,268.01 1712.74,268.00 1713.34,268.00 1713.94,268.00 1714.54,268.00 1715.14,268.00 1715.74,268.00 1716.34,268.00 1716.94,268.00 1717.54,268.00 1718.14,268.00 1718.74,268.00 1719.34,268.00 1719.94,268.00 1720.54,268.00 1721.15,268.00 1721.75,268.00 1722.35,268.00 1722.95,268.00 1723.55,268.00 1724.15,268.00 1724.75,268.00 1725.35,268.00 1725.95,268.00 1726.55,268.00 1727.15,268.00 1727.75,268.00 1728.35,268.00 1728.95,268.00 1729.55,268.00 1730.15,268.00 1730.75,268.00 1731.35,268.00 1731.95,268.00 1732.55,268.00 1733.15,268.00 1733.75,268.00 1734.35,268.00 1734.96,268.00 1735.56,268.00 1736.16,268.00 1736.76,268.00 1737.36,268.00 1737.96,268.00 1738.56,268.00 1739.16,268.00 1739.76,268.00 1740.36,268.00 1740.96,268.00 1741.56,268.00 1742.16,268.00 1742.76,268.00 1743.36,268.00 1743.96,268.00 1744.56,268.00 1745.16,268.00 1745.76,268.00 1746.36,268.00 1746.96,268.00 1747.56,268.00 1748.16,268.00 1748.77,268.00 1749.37,268.00 1749.97,268.00 1750.57,268.00 1751.17,268.00 1751.77,268.00 1752.37,268.00 1752.97,268.00 1753.57,268.00 1754.17,268.00 1754.77,268.00 1755.37,268.00" fill="none" stroke="#3e91cd" stroke-width="5.9" stroke-linejoin="round"/>
<polyline points="1335.06,486.00 1335.66,486.00 1336.26,486.00 1336.86,486.00 1337.47,486.00 1338.07,486.00 1338.67,486.00 1339.27,486.00 1339.87,486.00 1340.47,486.00 1341.07,486.00 1341.67,486.00 1342.27,486.00 1342.87,486.00 1343.47,486.00 1344.07,486.00 1344.67,486.00 1345.27,486.00 1345.87,486.00 1346.47,486.00 1347.07,486.00 1347.67,486.00 1348.27,486.00 1348.87,486.00 1349.47,486.00 1350.07,486.00 1350.67,486.00 1351.28,486.00 1351.88,486.00 1352.48,486.00 1353.08,486.00 1353.68,486.00 1354.28,486.00 1354.88,486.00 1355.48,486.00 1356.08,486.00 1356.68,486.00 1357.28,486.00 1357.88,486.00 1358.48,486.00 1359.08,486.00 1359.68,486.00 1360.28,486.00 1360.88,486.00 1361.48,486.00 1362.08,486.00 1362.68,486.00 1363.28,486.00 1363.88,486.00 1364.49,486.00 1365.09,486.00 1365.69,486.00 1366.29,486.00 1366.89,486.00 1367.49,486.00 1368.09,486.00 1368.69,486.00 1369.29,486.00 1369.89,486.00 1370.49,486.00 1371.09,486.00 1371.69,486.00 1372.29,486.00 1372.89,486.00 1373.49,486.00 1374.09,486.00 1374.69,486.00 1375.29,486.00 1375.89,486.00 1376.49,486.00 1377.09,486.00 1377.69,486.00 1378.30,486.00 1378.90,486.00 1379.50,486.00 1380.10,486.00 1380.70,486.00 1381.30,486.00 1381.90,486.00 1382.50,486.00 1383.10,486.00 1383.70,486.00 1384.30,486.00 1384.90,486.00 1385.50,486.00 1386.10,486.00 1386.70,486.00 1387.30,486.00 1387.90,486.00 1388.50,486.00 1389.10,486.00 1389.70,486.00 1390.30,486.00 1390.90,486.00 1391.50,486.00 1392.11,486.00 1392.71,486.00 1393.31,486.00 1393.91,486.00 1394.51,486.00 1395.11,486.00 1395.71,486.00 1396.31,486.00 1396.91,486.00 1397.51,486.00 1398.11,486.00 1398.71,486.00 1399.31,486.00 1399.91,486.00 1400.51,486.00 1401.11,486.00 1401.71,486.00 1402.31,486.00 1402.91,486.00 1403.51,486.00 1404.11,486.00 1404.71,486.00 1405.31,486.00 1405.92,486.00 1406.52,485.99 1407.12,485.99 1407.72,485.99 1408.32,485.99 1408.92,485.99 1409.52,485.99 1410.12,485.99 1410.72,485.99 1411.32,485.99 1411.92,485.99 1412.52,485.99 1413.12,485.99 1413.72,485.99 1414.32,485.99 1414.92,485.99 1415.52,485.99 1416.12,485.99 1416.72,485.99 1417.32,485.99 1417.92,485.98 1418.52,485.98 1419.12,485.98 1419.73,485.98 1420.33,485.98 1420.93,485.98 1421.53,485.98 1422.13,485.98 1422.73,485.98 1423.33,485.97 1423.93,485.97 1424.53,485.97 1425.13,485.97 1425.73,485.97 1426.33,485.97 1426.93,485.96 1427.53,485.96 1428.13,485.96 1428.73,485.96 1429.33,485.95 1429.93,485.95 1430.53,485.95 1431.13,485.95 1431.73,485.94 1432.33,485.94 1432.93,485.94 1433.54,485.93 1434.14,485.93 1434.74,485.92 1435.34,485.92 1435.94,485.91 1436.54,485.91 1437.14,485.90 1437.74,485.90 1438.34,485.89 1438.94,485.88 1439.54,485.88 1440.14,485.87 1440.74,485.86 1441.34,485.85 1441.94,485.85 1442.54,485.84 1443.14,485.83 1443.74,485.82 1444.34,485.81 1444.94,485.79 1445.54,485.78 1446.14,485.77 1446.75,485.75 1447.35,485.74 1447.95,485.72 1448.55,485.71 1449.15,485.69 1449.75,485.67 1450.35,485.65 1450.95,485.63 1451.55,485.61 1452.15,485.59 1452.75,485.56 1453.35,485.54 1453.95,485.51 1454.55,485.48 1455.15,485.45 1455.75,485.42 1456.35,485.38 1456.95,485.35 1457.55,485.31 1458.15,485.27 1458.75,485.22 1459.35,485.18 1459.95,485.13 1460.56,485.08 1461.16,485.02 1461.76,484.96 1462.36,484.90 1462.96,484.84 1463.56,484.77 1464.16,484.69 1464.76,484.62 1465.36,484.53 1465.96,484.45 1466.56,484.36 1467.16,484.26 1467.76,484.16 1468.36,484.05 1468.96,483.93 1469.56,483.81 1470.16,483.68 1470.76,483.54 1471.36,483.40 1471.96,483.25 1472.56,483.08 1473.16,482.91 1473.76,482.73 1474.37,482.54 1474.97,482.33 1475.57,482.12 1476.17,481.89 1476.77,481.65 1477.37,481.39 1477.97,481.12 1478.57,480.84 1479.17,480.54 1479.77,480.22 1480.37,479.88 1480.97,479.52 1481.57,479.14 1482.17,478.75 1482.77,478.32 1483.37,477.88 1483.97,477.41 1484.57,476.91 1485.17,476.39 1485.77,475.83 1486.37,475.25 1486.97,474.63 1487.57,473.98 1488.18,473.29 1488.78,472.57 1489.38,471.81 1489.98,471.00 1490.58,470.15 1491.18,469.26 1491.78,468.32 1492.38,467.32 1492.98,466.28 1493.58,465.18 1494.18,464.03 1494.78,462.81 1495.38,461.54 1495.98,460.20 1496.58,458.79 1497.18,457.31 1497.78,455.77 1498.38,454.14 1498.98,452.44 1499.58,450.66 1500.18,448.80 1500.78,446.85 1501.38,444.82 1501.99,442.69 1502.59,440.47 1503.19,438.16 1503.79,435.76 1504.39,433.25 1504.99,430.64 1505.59,427.94 1506.19,425.12 1506.79,422.21 1507.39,419.19 1507.99,416.07 1508.59,412.84 1509.19,409.51 1509.79,406.07 1510.39,402.53 1510.99,398.89 1511.59,395.15 1512.19,391.31 1512.79,387.37 1513.39,383.35 1513.99,379.24 1514.59,375.04 1515.19,370.77 1515.80,366.42 1516.40,362.01 1517.00,357.53 1517.60,353.00 1518.20,348.42 1518.80,343.79 1519.40,339.13 1520.00,334.45 1520.60,329.74 1521.20,325.02 1521.80,320.30 1522.40,315.58 1523.00,310.87 1523.60,306.19 1524.20,301.52 1524.80,296.90 1525.40,292.31 1526.00,287.78 1526.60,283.30 1527.20,278.88 1527.80,274.52 1528.40,270.25 1529.00,266.05 1529.61,261.93 1530.21,257.90 1530.81,253.96 1531.41,250.11 1532.01,246.36 1532.61,242.72 1533.21,239.17 1533.81,235.72 1534.41,232.38 1535.01,229.15 1535.61,226.02 1536.21,222.99 1536.81,220.07 1537.41,217.25 1538.01,214.54 1538.61,211.93 1539.21,209.41 1539.81,207.00 1540.41,204.68 1541.01,202.46 1541.61,200.33 1542.21,198.28 1542.82,196.33 1543.42,194.46 1544.02,192.68 1544.62,190.97 1545.22,189.34 1545.82,187.79 1546.42,186.31 1547.02,184.90 1547.62,183.55 1548.22,182.27 1548.82,181.05 1549.42,179.90 1550.02,178.79 1550.62,177.75 1551.22,176.75 1551.82,175.81 1552.42,174.91 1553.02,174.06 1553.62,173.25 1554.22,172.48 1554.82,171.75 1555.42,171.06 1556.02,170.41 1556.63,169.79 1557.23,169.20 1557.83,168.65 1558.43,168.12 1559.03,167.62 1559.63,167.15 1560.23,166.70 1560.83,166.28 1561.43,165.88 1562.03,165.50 1562.63,165.14 1563.23,164.81 1563.83,164.49 1564.43,164.18 1565.03,163.90 1565.63,163.63 1566.23,163.37 1566.83,163.13 1567.43,162.90 1568.03,162.68 1568.63,162.48 1569.23,162.28 1569.83,162.10 1570.44,161.93 1571.04,161.77 1571.64,161.61 1572.24,161.47 1572.84,161.33 1573.44,161.20 1574.04,161.08 1574.64,160.96 1575.24,160.85 1575.84,160.75 1576.44,160.65 1577.04,160.56 1577.64,160.47 1578.24,160.39 1578.84,160.31 1579.44,160.24 1580.04,160.17 1580.64,160.10 1581.24,160.04 1581.84,159.98 1582.44,159.93 1583.04,159.88 1583.64,159.83 1584.25,159.78 1584.85,159.74 1585.45,159.70 1586.05,159.66 1586.65,159.62 1587.25,159.59 1587.85,159.55 1588.45,159.52 1589.05,159.49 1589.65,159.46 1590.25,159.44 1590.85,159.41 1591.45,159.39 1592.05,159.37 1592.65,159.35 1593.25,159.33 1593.85,159.31 1594.45,159.29 1595.05,159.28 1595.65,159.26 1596.25,159.25 1596.85,159.23 1597.45,159.22 1598.06,159.21 1598.66,159.20 1599.26,159.18 1599.86,159.17 1600.46,159.16 1601.06,159.16 1601.66,159.15 1602.26,159.14 1602.86,159.13 1603.46,159.12 1604.06,159.12 1604.66,159.11 1605.26,159.10 1605.86,159.10 1606.46,159.09 1607.06,159.09 1607.66,159.08 1608.26,159.08 1608.86,159.07 1609.46,159.07 1610.06,159.07 1610.66,159.06 1611.26,159.06 1611.87,159.05 1612.47,159.05 1613.07,159.05 1613.67,159.05 1614.27,159.04 1614.87,159.04 1615.47,159.04 1616.07,159.04 1616.67,159.03 1617.27,159.03 1617.87,159.03 1618.47,159.03 1619.07,159.03 1619.67,159.03 1620.27,159.02 1620.87,159.02 1621.47,159.02 1622.07,159.02 1622.67,159.02 1623.27,159.02 1623.87,159.02 1624.47,159.02 1625.08,159.02 1625.68,159.01 1626.28,159.01 1626.88,159.01 1627.48,159.01 1628.08,159.01 1628.68,159.01 1629.28,159.01 1629.88,159.01 1630.48,159.01 1631.08,159.01 1631.68,159.01 1632.28,159.01 1632.88,159.01 1633.48,159.01 1634.08,159.01 1634.68,159.01 1635.28,159.01 1635.88,159.01 1636.48,159.01 1637.08,159.00 1637.68,159.00 1638.28,159.00 1638.89,159.00 1639.49,159.00 1640.09,159.00 1640.69,159.00 1641.29,159.00 1641.89,159.00 1642.49,159.00 1643.09,159.00 1643.69,159.00 1644.29,159.00 1644.89,159.00 1645.49,159.00 1646.09,159.00 1646.69,159.00 1647.29,159.00 1647.89,159.00 1648.49,159.00 1649.09,159.00 1649.69,159.00 1650.29,159.00 1650.89,159.00 1651.49,159.00 1652.09,159.00 1652.70,159.00 1653.30,159.00 1653.90,159.00 1654.50,159.00 1655.10,159.00 1655.70,159.00 1656.30,159.00 1656.90,159.00 1657.50,159.00 1658.10,159.00 1658.70,159.00 1659.30,159.00 1659.90,159.00 1660.50,159.00 1661.10,159.00 1661.70,159.00 1662.30,159.00 1662.90,159.00 1663.50,159.00 1664.10,159.00 1664.70,159.00 1665.30,159.00 1665.90,159.00 1666.51,159.00 1667.11,159.00 1667.71,159.00 1668.31,159.00 1668.91,159.00 1669.51,159.00 1670.11,159.00 1670.71,159.00 1671.31,159.00 1671.91,159.00 1672.51,159.00 1673.11,159.00 1673.71,159.00 1674.31,159.00 1674.91,159.00 1675.51,159.00 1676.11,159.00 1676.71,159.00 1677.31,159.00 1677.91,159.00 1678.51,159.00 1679.11,159.00 1679.71,159.00 1680.32,159.00 1680.92,159.00 1681.52,159.00 1682.12,159.00 1682.72,159.00 1683.32,159.00 1683.92,159.00 1684.52,159.00 1685.12,159.00 1685.72,159.00 1686.32,159.00 1686.92,159.00 1687.52,159.00 1688.12,159.00 1688.72,159.00 1689.32,159.00 1689.92,159.00 1690.52,159.00 1691.12,159.00 1691.72,159.00 1692.32,159.00 1692.92,159.00 1693.52,159.00 1694.13,159.00 1694.73,159.00 1695.33,159.00 1695.93,159.00 1696.53,159.00 1697.13,159.00 1697.73,159.00 1698.33,159.00 1698.93,159.00 1699.53,159.00 1700.13,159.00 1700.73,159.00 1701.33,159.00 1701.93,159.00 1702.53,159.00 1703.13,159.00 1703.73,159.00 1704.33,159.00 1704.93,159.00 1705.53,159.00 1706.13,159.00 1706.73,159.00 1707.33,159.00 1707.94,159.00 1708.54,159.00 1709.14,159.00 1709.74,159.00 1710.34,159.00 1710.94,159.00 1711.54,159.00 1712.14,159.00 1712.74,159.00 1713.34,159.00 1713.94,159.00 1714.54,159.00 1715.14,159.00 1715.74,159.00 1716.34,159.00 1716.94,159.00 1717.54,159.00 1718.14,159.00 1718.74,159.00 1719.34,159.00 1719.94,159.00 1720.54,159.00 1721.15,159.00 1721.75,159.00 1722.35,159.00 1722.95,159.00 1723.55,159.00 1724.15,159.00 1724.75,159.00 1725.35,159.00 1725.95,159.00 1726.55,159.00 1727.15,159.00 1727.75,159.00 1728.35,159.00 1728.95,159.00 1729.55,159.00 1730.15,159.00 1730.75,159.00 1731.35,159.00 1731.95,159.00 1732.55,159.00 1733.15,159.00 1733.75,159.00 1734.35,159.00 1734.96,159.00 1735.56,159.00 1736.16,159.00 1736.76,159.00 1737.36,159.00 1737.96,159.00 1738.56,159.00 1739.16,159.00 1739.76,159.00 1740.36,159.00 1740.96,159.00 1741.56,159.00 1742.16,159.00 1742.76,159.00 1743.36,159.00 1743.96,159.00 1744.56,159.00 1745.16,159.00 1745.76,159.00 1746.36,159.00 1746.96,159.00 1747.56,159.00 1748.16,159.00 1748.77,159.00 1749.37,159.00 1749.97,159.00 1750.57,159.00 1751.17,159.00 1751.77,159.00 1752.37,159.00 1752.97,159.00 1753.57,159.00 1754.17,159.00 1754.77,159.00 1755.37,159.00" fill="none" stroke="#84c25c" stroke-width="5.9" stroke-linejoin="round"/>
<polyline points="1335.06,486.00 1335.66,486.00 1336.26,486.00 1336.86,486.00 1337.47,486.00 1338.07,486.00 1338.67,486.00 1339.27,486.00 1339.87,486.00 1340.47,486.00 1341.07,486.00 1341.67,486.00 1342.27,486.00 1342.87,486.00 1343.47,486.00 1344.07,486.00 1344.67,486.00 1345.27,486.00 1345.87,486.00 1346.47,486.00 1347.07,486.00 1347.67,486.00 1348.27,486.00 1348.87,486.00 1349.47,486.00 1350.07,486.00 1350.67,486.00 1351.28,486.00 1351.88,486.00 1352.48,486.00 1353.08,486.00 1353.68,486.00 1354.28,486.00 1354.88,486.00 1355.48,486.00 1356.08,486.00 1356.68,486.00 1357.28,486.00 1357.88,486.00 1358.48,486.00 1359.08,486.00 1359.68,486.00 1360.28,486.00 1360.88,486.00 1361.48,486.00 1362.08,486.00 1362.68,486.00 1363.28,486.00 1363.88,486.00 1364.49,486.00 1365.09,486.00 1365.69,486.00 1366.29,486.00 1366.89,486.00 1367.49,486.00 1368.09,486.00 1368.69,486.00 1369.29,486.00 1369.89,486.00 1370.49,486.00 1371.09,486.00 1371.69,486.00 1372.29,486.00 1372.89,486.00 1373.49,486.00 1374.09,486.00 1374.69,486.00 1375.29,486.00 1375.89,486.00 1376.49,486.00 1377.09,486.00 1377.69,486.00 1378.30,486.00 1378.90,486.00 1379.50,486.00 1380.10,486.00 1380.70,486.00 1381.30,486.00 1381.90,486.00 1382.50,486.00 1383.10,486.00 1383.70,486.00 1384.30,486.00 1384.90,486.00 1385.50,486.00 1386.10,486.00 1386.70,486.00 1387.30,486.00 1387.90,486.00 1388.50,486.00 1389.10,486.00 1389.70,486.00 1390.30,486.00 1390.90,486.00 1391.50,486.00 1392.11,486.00 1392.71,486.00 1393.31,486.00 1393.91,486.00 1394.51,486.00 1395.11,486.00 1395.71,486.00 1396.31,486.00 1396.91,486.00 1397.51,486.00 1398.11,486.00 1398.71,486.00 1399.31,486.00 1399.91,486.00 1400.51,486.00 1401.11,486.00 1401.71,486.00 1402.31,486.00 1402.91,486.00 1403.51,486.00 1404.11,486.00 1404.71,486.00 1405.31,486.00 1405.92,486.00 1406.52,486.00 1407.12,486.00 1407.72,486.00 1408.32,486.00 1408.92,486.00 1409.52,486.00 1410.12,486.00 1410.72,486.00 1411.32,486.00 1411.92,486.00 1412.52,486.00 1413.12,486.00 1413.72,486.00 1414.32,486.00 1414.92,486.00 1415.52,486.00 1416.12,486.00 1416.72,486.00 1417.32,486.00 1417.92,486.00 1418.52,486.00 1419.12,486.00 1419.73,486.00 1420.33,486.00 1420.93,486.00 1421.53,486.00 1422.13,486.00 1422.73,486.00 1423.33,486.00 1423.93,486.00 1424.53,486.00 1425.13,486.00 1425.73,486.00 1426.33,486.00 1426.93,486.00 1427.53,486.00 1428.13,486.00 1428.73,486.00 1429.33,486.00 1429.93,486.00 1430.53,486.00 1431.13,486.00 1431.73,486.00 1432.33,486.00 1432.93,486.00 1433.54,486.00 1434.14,486.00 1434.74,486.00 1435.34,486.00 1435.94,486.00 1436.54,486.00 1437.14,486.00 1437.74,486.00 1438.34,486.00 1438.94,486.00 1439.54,486.00 1440.14,486.00 1440.74,486.00 1441.34,486.00 1441.94,486.00 1442.54,486.00 1443.14,486.00 1443.74,486.00 1444.34,486.00 1444.94,486.00 1445.54,486.00 1446.14,486.00 1446.75,486.00 1447.35,486.00 1447.95,486.00 1448.55,486.00 1449.15,486.00 1449.75,486.00 1450.35,486.00 1450.95,486.00 1451.55,486.00 1452.15,486.00 1452.75,486.00 1453.35,486.00 1453.95,486.00 1454.55,486.00 1455.15,486.00 1455.75,486.00 1456.35,486.00 1456.95,486.00 1457.55,486.00 1458.15,486.00 1458.75,486.00 1459.35,486.00 1459.95,486.00 1460.56,486.00 1461.16,486.00 1461.76,486.00 1462.36,486.00 1462.96,486.00 1463.56,486.00 1464.16,486.00 1464.76,486.00 1465.36,486.00 1465.96,486.00 1466.56,486.00 1467.16,486.00 1467.76,486.00 1468.36,486.00 1468.96,486.00 1469.56,486.00 1470.16,486.00 1470.76,486.00 1471.36,486.00 1471.96,486.00 1472.56,486.00 1473.16,486.00 1473.76,486.00 1474.37,486.00 1474.97,486.00 1475.57,486.00 1476.17,486.00 1476.77,486.00 1477.37,486.00 1477.97,486.00 1478.57,486.00 1479.17,486.00 1479.77,486.00 1480.37,486.00 1480.97,486.00 1481.57,486.00 1482.17,486.00 1482.77,486.00 1483.37,486.00 1483.97,486.00 1484.57,486.00 1485.17,486.00 1485.77,486.00 1486.37,486.00 1486.97,486.00 1487.57,486.00 1488.18,486.00 1488.78,486.00 1489.38,486.00 1489.98,486.00 1490.58,486.00 1491.18,486.00 1491.78,486.00 1492.38,486.00 1492.98,486.00 1493.58,486.00 1494.18,486.00 1494.78,486.00 1495.38,486.00 1495.98,486.00 1496.58,486.00 1497.18,486.00 1497.78,486.00 1498.38,486.00 1498.98,486.00 1499.58,486.00 1500.18,486.00 1500.78,486.00 1501.38,486.00 1501.99,486.00 1502.59,486.00 1503.19,486.00 1503.79,486.00 1504.39,486.00 1504.99,486.00 1505.59,486.00 1506.19,486.00 1506.79,486.00 1507.39,486.00 1507.99,486.00 1508.59,486.00 1509.19,486.00 1509.79,486.00 1510.39,486.00 1510.99,486.00 1511.59,486.00 1512.19,486.00 1512.79,486.00 1513.39,485.99 1513.99,485.99 1514.59,485.99 1515.19,485.99 1515.80,485.99 1516.40,485.99 1517.00,485.99 1517.60,485.98 1518.20,485.98 1518.80,485.98 1519.40,485.97 1520.00,485.97 1520.60,485.96 1521.20,485.95 1521.80,485.94 1522.40,485.93 1523.00,485.92 1523.60,485.90 1524.20,485.88 1524.80,485.86 1525.40,485.84 1526.00,485.80 1526.60,485.77 1527.20,485.72 1527.80,485.67 1528.40,485.61 1529.00,485.53 1529.61,485.45 1530.21,485.34 1530.81,485.22 1531.41,485.07 1532.01,484.89 1532.61,484.68 1533.21,484.44 1533.81,484.14 1534.41,483.79 1535.01,483.37 1535.61,482.88 1536.21,482.30 1536.81,481.60 1537.41,480.78 1538.01,479.81 1538.61,478.65 1539.21,477.29 1539.81,475.68 1540.41,473.78 1541.01,471.55 1541.61,468.92 1542.21,465.84 1542.82,462.23 1543.42,458.02 1544.02,453.13 1544.62,447.46 1545.22,440.92 1545.82,433.41 1546.42,424.86 1547.02,415.17 1547.62,404.28 1548.22,392.14 1548.82,378.75 1549.42,364.13 1550.02,348.34 1550.62,331.52 1551.22,313.83 1551.82,295.49 1552.42,276.74 1553.02,257.86 1553.62,239.13 1554.22,220.83 1554.82,203.20 1555.42,186.45 1556.02,170.75 1556.63,156.22 1557.23,142.92 1557.83,130.87 1558.43,120.07 1559.03,110.47 1559.63,101.99 1560.23,94.57 1560.83,88.09 1561.43,82.48 1562.03,77.64 1562.63,73.48 1563.23,69.91 1563.83,66.87 1564.43,64.27 1565.03,62.06 1565.63,60.19 1566.23,58.60 1566.83,57.25 1567.43,56.12 1568.03,55.15 1568.63,54.34 1569.23,53.66 1569.83,53.08 1570.44,52.59 1571.04,52.18 1571.64,51.84 1572.24,51.54 1572.84,51.30 1573.44,51.09 1574.04,50.92 1574.64,50.77 1575.24,50.65 1575.84,50.55 1576.44,50.46 1577.04,50.39 1577.64,50.33 1578.24,50.27 1578.84,50.23 1579.44,50.19 1580.04,50.16 1580.64,50.14 1581.24,50.12 1581.84,50.10 1582.44,50.08 1583.04,50.07 1583.64,50.06 1584.25,50.05 1584.85,50.04 1585.45,50.03 1586.05,50.03 1586.65,50.02 1587.25,50.02 1587.85,50.02 1588.45,50.01 1589.05,50.01 1589.65,50.01 1590.25,50.01 1590.85,50.01 1591.45,50.01 1592.05,50.01 1592.65,50.00 1593.25,50.00 1593.85,50.00 1594.45,50.00 1595.05,50.00 1595.65,50.00 1596.25,50.00 1596.85,50.00 1597.45,50.00 1598.06,50.00 1598.66,50.00 1599.26,50.00 1599.86,50.00 1600.46,50.00 1601.06,50.00 1601.66,50.00 1602.26,50.00 1602.86,50.00 1603.46,50.00 1604.06,50.00 1604.66,50.00 1605.26,50.00 1605.86,50.00 1606.46,50.00 1607.06,50.00 1607.66,50.00 1608.26,50.00 1608.86,50.00 1609.46,50.00 1610.06,50.00 1610.66,50.00 1611.26,50.00 1611.87,50.00 1612.47,50.00 1613.07,50.00 1613.67,50.00 1614.27,50.00 1614.87,50.00 1615.47,50.00 1616.07,50.00 1616.67,50.00 1617.27,50.00 1617.87,50.00 1618.47,50.00 1619.07,50.00 1619.67,50.00 1620.27,50.00 1620.87,50.00 1621.47,50.00 1622.07,50.00 1622.67,50.00 1623.27,50.00 1623.87,50.00 1624.47,50.00 1625.08,50.00 1625.68,50.00 1626.28,50.00 1626.88,50.00 1627.48,50.00 1628.08,50.00 1628.68,50.00 1629.28,50.00 1629.88,50.00 1630.48,50.00 1631.08,50.00 1631.68,50.00 1632.28,50.00 1632.88,50.00 1633.48,50.00 1634.08,50.00 1634.68,50.00 1635.28,50.00 1635.88,50.00 1636.48,50.00 1637.08,50.00 1637.68,50.00 1638.28,50.00 1638.89,50.00 1639.49,50.00 1640.09,50.00 1640.69,50.00 1641.29,50.00 1641.89,50.00 1642.49,50.00 1643.09,50.00 1643.69,50.00 1644.29,50.00 1644.89,50.00 1645.49,50.00 1646.09,50.00 1646.69,50.00 1647.29,50.00 1647.89,50.00 1648.49,50.00 1649.09,50.00 1649.69,50.00 1650.29,50.00 1650.89,50.00 1651.49,50.00 1652.09,50.00 1652.70,50.00 1653.30,50.00 1653.90,50.00 1654.50,50.00 1655.10,50.00 1655.70,50.00 1656.30,50.00 1656.90,50.00 1657.50,50.00 1658.10,50.00 1658.70,50.00 1659.30,50.00 1659.90,50.00 1660.50,50.00 1661.10,50.00 1661.70,50.00 1662.30,50.00 1662.90,50.00 1663.50,50.00 1664.10,50.00 1664.70,50.00 1665.30,50.00 1665.90,50.00 1666.51,50.00 1667.11,50.00 1667.71,50.00 1668.31,50.00 1668.91,50.00 1669.51,50.00 1670.11,50.00 1670.71,50.00 1671.31,50.00 1671.91,50.00 1672.51,50.00 1673.11,50.00 1673.71,50.00 1674.31,50.00 1674.91,50.00 1675.51,50.00 1676.11,50.00 1676.71,50.00 1677.31,50.00 1677.91,50.00 1678.51,50.00 1679.11,50.00 1679.71,50.00 1680.32,50.00 1680.92,50.00 1681.52,50.00 1682.12,50.00 1682.72,50.00 1683.32,50.00 1683.92,50.00 1684.52,50.00 1685.12,50.00 1685.72,50.00 1686.32,50.00 1686.92,50.00 1687.52,50.00 1688.12,50.00 1688.72,50.00 1689.32,50.00 1689.92,50.00 1690.52,50.00 1691.12,50.00 1691.72,50.00 1692.32,50.00 1692.92,50.00 1693.52,50.00 1694.13,50.00 1694.73,50.00 1695.33,50.00 1695.93,50.00 1696.53,50.00 1697.13,50.00 1697.73,50.00 1698.33,50.00 1698.93,50.00 1699.53,50.00 1700.13,50.00 1700.73,50.00 1701.33,50.00 1701.93,50.00 1702.53,50.00 1703.13,50.00 1703.73,50.00 1704.33,50.00 1704.93,50.00 1705.53,50.00 1706.13,50.00 1706.73,50.00 1707.33,50.00 1707.94,50.00 1708.54,50.00 1709.14,50.00 1709.74,50.00 1710.34,50.00 1710.94,50.00 1711.54,50.00 1712.14,50.00 1712.74,50.00 1713.34,50.00 1713.94,50.00 1714.54,50.00 1715.14,50.00 1715.74,50.00 1716.34,50.00 1716.94,50.00 1717.54,50.00 1718.14,50.00 1718.74,50.00 1719.34,50.00 1719.94,50.00 1720.54,50.00 1721.15,50.00 1721.75,50.00 1722.35,50.00 1722.95,50.00 1723.55,50.00 1724.15,50.00 1724.75,50.00 1725.35,50.00 1725.95,50.00 1726.55,50.00 1727.15,50.00 1727.75,50.00 1728.35,50.00 1728.95,50.00 1729.55,50.00 1730.15,50.00 1730.75,50.00 1731.35,50.00 1731.95,50.00 1732.55,50.00 1733.15,50.00 1733.75,50.00 1734.35,50.00 1734.96,50.00 1735.56,50.00 1736.16,50.00 1736.76,50.00 1737.36,50.00 1737.96,50.00 1738.56,50.00 1739.16,50.00 1739.76,50.00 1740.36,50.00 1740.96,50.00 1741.56,50.00 1742.16,50.00 1742.76,50.00 1743.36,50.00 1743.96,50.00 1744.56,50.00 1745.16,50.00 1745.76,50.00 1746.36,50.00 1746.96,50.00 1747.56,50.00 1748.16,50.00 1748.77,50.00 1749.37,50.00 1749.97,50.00 1750.57,50.00 1751.17,50.00 1751.77,50.00 1752.37,50.00 1752.97,50.00 1753.57,50.00 1754.17,50.00 1754.77,50.00 1755.37,50.00" fill="none" stroke="#ebe823" stroke-width="5.6" stroke-linejoin="round"/>
<text x="1394.60" y="549.70" font-family="'Liberation Sans', Arial, sans-serif" font-size="32.20" textLength="165.35" lengthAdjust="spacingAndGlyphs" fill="#333333" stroke="#333333" stroke-width="0.3">Marsh Elevation</text>
<text x="1569.17" y="549.70" font-family="'Liberation Serif', 'Times New Roman', serif" font-size="32.00" font-style="italic" textLength="14.66" lengthAdjust="spacingAndGlyphs" fill="#3a3a3a">z</text>
<text x="1583.95" y="559.90" font-family="'Liberation Serif', 'Times New Roman', serif" font-size="20.00" font-style="italic" fill="#3a3a3a">j</text>
<text x="1593.75" y="546.90" font-family="'Liberation Sans', Arial, sans-serif" font-size="28.20" textLength="6.95" lengthAdjust="spacingAndGlyphs" fill="#333333" stroke="#333333" stroke-width="0.3">[</text>
<text x="1602.31" y="549.70" font-family="'Liberation Sans', Arial, sans-serif" font-size="32.20" textLength="102.14" lengthAdjust="spacingAndGlyphs" fill="#333333" stroke="#333333" stroke-width="0.3">m a.m.s.l.</text>
<text x="1705.01" y="546.90" font-family="'Liberation Sans', Arial, sans-serif" font-size="28.20" textLength="7.09" lengthAdjust="spacingAndGlyphs" fill="#333333" stroke="#333333" stroke-width="0.3">]</text>
<text transform="translate(1263.97,439.61) rotate(-90)" x="0.00" y="0.00" font-family="'Liberation Sans', Arial, sans-serif" font-size="33.20" textLength="196.46" lengthAdjust="spacingAndGlyphs" fill="#333333" stroke="#333333" stroke-width="0.3">Competitive ability</text>
<text transform="translate(1260.40,219.96) rotate(-90)" x="0.00" y="0.00" font-family="'Liberation Serif', 'Times New Roman', serif" font-size="32.00" font-style="italic" fill="#3a3a3a">δ</text>
<text transform="translate(1268.26,203.94) rotate(-90)" x="0.00" y="0.00" font-family="'Liberation Serif', 'Times New Roman', serif" font-size="17.00" font-style="italic" fill="#3a3a3a">i</text>
<text transform="translate(1259.73,188.90) rotate(-90)" x="0.00" y="0.00" font-family="'Liberation Sans', Arial, sans-serif" font-size="30.00" fill="#3a3a3a">•</text>
<text transform="translate(1259.86,172.31) rotate(-90)" x="0.00" y="0.00" font-family="'Liberation Serif', 'Times New Roman', serif" font-size="31.00" font-style="italic" fill="#3a3a3a">f</text>
<text transform="translate(1268.26,159.44) rotate(-90)" x="0.00" y="0.00" font-family="'Liberation Serif', 'Times New Roman', serif" font-size="17.00" font-style="italic" fill="#3a3a3a">i</text>
<text transform="translate(1259.24,136.92) rotate(-90)" x="0.00" y="0.00" font-family="'Liberation Serif', 'Times New Roman', serif" font-size="32.00" font-style="italic" fill="#3a3a3a">(</text>
<text transform="translate(1261.56,128.05) rotate(-90)" x="0.00" y="0.00" font-family="'Liberation Serif', 'Times New Roman', serif" font-size="36.00" font-style="italic" fill="#3a3a3a">z</text>
<text transform="translate(1271.26,115.17) rotate(-90)" x="0.00" y="0.00" font-family="'Liberation Serif', 'Times New Roman', serif" font-size="17.00" font-style="italic" fill="#3a3a3a">j</text>
<text transform="translate(1259.24,109.18) rotate(-90)" x="0.00" y="0.00" font-family="'Liberation Serif', 'Times New Roman', serif" font-size="32.00" font-style="italic" fill="#3a3a3a">)</text>
<text transform="translate(1258.93,84.37) rotate(-90)" x="0.00" y="0.00" font-family="'Liberation Sans', Arial, sans-serif" font-size="29.00" textLength="24.97" lengthAdjust="spacingAndGlyphs" fill="#333333" stroke="#333333" stroke-width="0.3">[-]</text>
<rect x="152.6" y="566.3" width="1420.4" height="100.8" fill="none" stroke="#9a9a9a" stroke-width="1.4"/>
<rect x="266.3" y="589.9" width="21.7" height="20.9" fill="#443a96"/>
<text x="299.13" y="610.50" font-family="'Liberation Sans', Arial, sans-serif" font-size="31.50" textLength="94.43" lengthAdjust="spacingAndGlyphs" fill="#333333" stroke="#333333" stroke-width="0.3">Species 1</text>
<text x="171.68" y="641.80" font-family="'Liberation Serif', 'Times New Roman', serif" font-size="30.00" font-style="italic" fill="#333333">z</text>
<text x="184.00" y="651.80" font-family="'Liberation Serif', 'Times New Roman', serif" font-size="16.00" font-style="italic" fill="#333333">0</text>
<text x="191.44" y="661.40" font-family="'Liberation Serif', 'Times New Roman', serif" font-size="16.00" font-style="italic" fill="#333333">1</text>
<text x="191.53" y="644.10" font-family="'Liberation Sans', Arial, sans-serif" font-size="27.50" textLength="18.09" lengthAdjust="spacingAndGlyphs" fill="#333333">=</text>
<text x="209.76" y="641.80" font-family="'Liberation Sans', Arial, sans-serif" font-size="27.50" textLength="64.20" lengthAdjust="spacingAndGlyphs" fill="#333333" stroke="#333333" stroke-width="0.3">0.20 m</text>
<text x="296.80" y="641.80" font-family="'Liberation Serif', 'Times New Roman', serif" font-size="30.00" font-style="italic" fill="#333333">k</text>
<text x="310.34" y="652.60" font-family="'Liberation Serif', 'Times New Roman', serif" font-size="16.00" font-style="italic" fill="#333333">1</text>
<text x="317.54" y="644.10" font-family="'Liberation Sans', Arial, sans-serif" font-size="27.50" textLength="19.17" lengthAdjust="spacingAndGlyphs" fill="#333333">=</text>
<text x="336.55" y="641.80" font-family="'Liberation Sans', Arial, sans-serif" font-size="27.50" textLength="35.53" lengthAdjust="spacingAndGlyphs" fill="#333333" stroke="#333333" stroke-width="0.3">5 m</text>
<text x="372.46" y="629.60" font-family="'Liberation Sans', Arial, sans-serif" font-size="14.50" textLength="10.74" lengthAdjust="spacingAndGlyphs" fill="#333333" stroke="#333333" stroke-width="0.2">-1</text>
<text x="394.51" y="641.80" font-family="'Liberation Serif', 'Times New Roman', serif" font-size="33.00" font-style="italic" fill="#333333">δ</text>
<text x="411.34" y="653.30" font-family="'Liberation Serif', 'Times New Roman', serif" font-size="16.00" font-style="italic" fill="#333333">1</text>
<text x="419.96" y="644.10" font-family="'Liberation Sans', Arial, sans-serif" font-size="27.50" textLength="18.93" lengthAdjust="spacingAndGlyphs" fill="#333333">=</text>
<text x="437.55" y="641.80" font-family="'Liberation Sans', Arial, sans-serif" font-size="27.50" textLength="41.22" lengthAdjust="spacingAndGlyphs" fill="#333333" stroke="#333333" stroke-width="0.3">0.25</text>
<rect x="625.4" y="586.7" width="21.7" height="21.3" fill="#3e91cd"/>
<text x="658.11" y="607.20" font-family="'Liberation Sans', Arial, sans-serif" font-size="31.50" textLength="96.93" lengthAdjust="spacingAndGlyphs" fill="#333333" stroke="#333333" stroke-width="0.3">Species 2</text>
<text x="527.08" y="641.80" font-family="'Liberation Serif', 'Times New Roman', serif" font-size="30.00" font-style="italic" fill="#333333">z</text>
<text x="539.20" y="651.80" font-family="'Liberation Serif', 'Times New Roman', serif" font-size="16.00" font-style="italic" fill="#333333">0</text>
<text x="546.50" y="661.40" font-family="'Liberation Serif', 'Times New Roman', serif" font-size="16.00" font-style="italic" fill="#333333">2</text>
<text x="547.35" y="644.10" font-family="'Liberation Sans', Arial, sans-serif" font-size="27.50" textLength="19.05" lengthAdjust="spacingAndGlyphs" fill="#333333">=</text>
<text x="565.95" y="641.80" font-family="'Liberation Sans', Arial, sans-serif" font-size="27.50" textLength="64.82" lengthAdjust="spacingAndGlyphs" fill="#333333" stroke="#333333" stroke-width="0.3">0.30 m</text>
<text x="652.10" y="641.80" font-family="'Liberation Serif', 'Times New Roman', serif" font-size="30.00" font-style="italic" fill="#333333">k</text>
<text x="666.70" y="652.60" font-family="'Liberation Serif', 'Times New Roman', serif" font-size="16.00" font-style="italic" fill="#333333">2</text>
<text x="674.49" y="644.10" font-family="'Liberation Sans', Arial, sans-serif" font-size="27.50" textLength="18.57" lengthAdjust="spacingAndGlyphs" fill="#333333">=</text>
<text x="693.03" y="641.80" font-family="'Liberation Sans', Arial, sans-serif" font-size="27.50" textLength="46.44" lengthAdjust="spacingAndGlyphs" fill="#333333" stroke="#333333" stroke-width="0.3">15 m</text>
<text x="739.48" y="629.60" font-family="'Liberation Sans', Arial, sans-serif" font-size="14.50" textLength="10.29" lengthAdjust="spacingAndGlyphs" fill="#333333" stroke="#333333" stroke-width="0.2">-1</text>
<text x="761.91" y="641.80" font-family="'Liberation Serif', 'Times New Roman', serif" font-size="33.00" font-style="italic" fill="#333333">δ</text>
<text x="778.40" y="653.30" font-family="'Liberation Serif', 'Times New Roman', serif" font-size="16.00" font-style="italic" fill="#333333">2</text>
<text x="787.55" y="644.10" font-family="'Liberation Sans', Arial, sans-serif" font-size="27.50" textLength="17.85" lengthAdjust="spacingAndGlyphs" fill="#333333">=</text>
<text x="806.16" y="641.80" font-family="'Liberation Sans', Arial, sans-serif" font-size="27.50" textLength="40.75" lengthAdjust="spacingAndGlyphs" fill="#333333" stroke="#333333" stroke-width="0.3">0.50</text>
<rect x="985.2" y="586.3" width="21.9" height="21.7" fill="#84c25c"/>
<text x="1018.02" y="607.20" font-family="'Liberation Sans', Arial, sans-serif" font-size="31.50" textLength="95.64" lengthAdjust="spacingAndGlyphs" fill="#333333" stroke="#333333" stroke-width="0.3">Species 3</text>
<text x="888.27" y="641.80" font-family="'Liberation Serif', 'Times New Roman', serif" font-size="30.00" font-style="italic" fill="#333333">z</text>
<text x="900.80" y="651.80" font-family="'Liberation Serif', 'Times New Roman', serif" font-size="16.00" font-style="italic" fill="#333333">0</text>
<text x="909.94" y="661.40" font-family="'Liberation Serif', 'Times New Roman', serif" font-size="16.00" font-style="italic" fill="#333333">3</text>
<text x="908.96" y="644.10" font-family="'Liberation Sans', Arial, sans-serif" font-size="27.50" textLength="18.93" lengthAdjust="spacingAndGlyphs" fill="#333333">=</text>
<text x="927.65" y="641.80" font-family="'Liberation Sans', Arial, sans-serif" font-size="27.50" textLength="64.92" lengthAdjust="spacingAndGlyphs" fill="#333333" stroke="#333333" stroke-width="0.3">0.40 m</text>
<text x="1013.40" y="641.80" font-family="'Liberation Serif', 'Times New Roman', serif" font-size="30.00" font-style="italic" fill="#333333">k</text>
<text x="1027.94" y="652.60" font-family="'Liberation Serif', 'Times New Roman', serif" font-size="16.00" font-style="italic" fill="#333333">3</text>
<text x="1035.91" y="644.10" font-family="'Liberation Sans', Arial, sans-serif" font-size="27.50" textLength="18.33" lengthAdjust="spacingAndGlyphs" fill="#333333">=</text>
<text x="1054.11" y="641.80" font-family="'Liberation Sans', Arial, sans-serif" font-size="27.50" textLength="47.09" lengthAdjust="spacingAndGlyphs" fill="#333333" stroke="#333333" stroke-width="0.3">30 m</text>
<text x="1100.64" y="629.60" font-family="'Liberation Sans', Arial, sans-serif" font-size="14.50" textLength="11.07" lengthAdjust="spacingAndGlyphs" fill="#333333" stroke="#333333" stroke-width="0.2">-1</text>
<text x="1123.21" y="641.80" font-family="'Liberation Serif', 'Times New Roman', serif" font-size="33.00" font-style="italic" fill="#333333">δ</text>
<text x="1140.44" y="653.30" font-family="'Liberation Serif', 'Times New Roman', serif" font-size="16.00" font-style="italic" fill="#333333">3</text>
<text x="1148.91" y="644.10" font-family="'Liberation Sans', Arial, sans-serif" font-size="27.50" textLength="18.33" lengthAdjust="spacingAndGlyphs" fill="#333333">=</text>
<text x="1167.59" y="641.80" font-family="'Liberation Sans', Arial, sans-serif" font-size="27.50" textLength="39.55" lengthAdjust="spacingAndGlyphs" fill="#333333" stroke="#333333" stroke-width="0.3">0.75</text>
<rect x="1344.5" y="584.9" width="21.7" height="21.8" fill="#ebe823"/>
<text x="1377.32" y="606.10" font-family="'Liberation Sans', Arial, sans-serif" font-size="31.50" textLength="95.31" lengthAdjust="spacingAndGlyphs" fill="#333333" stroke="#333333" stroke-width="0.3">Species 4</text>
<text x="1252.58" y="641.80" font-family="'Liberation Serif', 'Times New Roman', serif" font-size="30.00" font-style="italic" fill="#333333">z</text>
<text x="1265.80" y="651.80" font-family="'Liberation Serif', 'Times New Roman', serif" font-size="16.00" font-style="italic" fill="#333333">0</text>
<text x="1273.96" y="661.40" font-family="'Liberation Serif', 'Times New Roman', serif" font-size="16.00" font-style="italic" fill="#333333">4</text>
<text x="1272.91" y="644.10" font-family="'Liberation Sans', Arial, sans-serif" font-size="27.50" textLength="19.53" lengthAdjust="spacingAndGlyphs" fill="#333333">=</text>
<text x="1291.95" y="641.80" font-family="'Liberation Sans', Arial, sans-serif" font-size="27.50" textLength="64.72" lengthAdjust="spacingAndGlyphs" fill="#333333" stroke="#333333" stroke-width="0.3">0.40 m</text>
<text x="1378.80" y="641.80" font-family="'Liberation Serif', 'Times New Roman', serif" font-size="30.00" font-style="italic" fill="#333333">k</text>
<text x="1392.86" y="652.60" font-family="'Liberation Serif', 'Times New Roman', serif" font-size="16.00" font-style="italic" fill="#333333">4</text>
<text x="1399.97" y="644.10" font-family="'Liberation Sans', Arial, sans-serif" font-size="27.50" textLength="18.81" lengthAdjust="spacingAndGlyphs" fill="#333333">=</text>
<text x="1419.11" y="641.80" font-family="'Liberation Sans', Arial, sans-serif" font-size="27.50" textLength="46.47" lengthAdjust="spacingAndGlyphs" fill="#333333" stroke="#333333" stroke-width="0.3">90 m</text>
<text x="1465.13" y="629.60" font-family="'Liberation Sans', Arial, sans-serif" font-size="14.50" textLength="11.18" lengthAdjust="spacingAndGlyphs" fill="#333333" stroke="#333333" stroke-width="0.2">-1</text>
<text x="1488.21" y="641.80" font-family="'Liberation Serif', 'Times New Roman', serif" font-size="33.00" font-style="italic" fill="#333333">δ</text>
<text x="1504.96" y="653.30" font-family="'Liberation Serif', 'Times New Roman', serif" font-size="16.00" font-style="italic" fill="#333333">4</text>
<text x="1513.06" y="644.10" font-family="'Liberation Sans', Arial, sans-serif" font-size="27.50" textLength="18.93" lengthAdjust="spacingAndGlyphs" fill="#333333">=</text>
<text x="1532.25" y="641.80" font-family="'Liberation Sans', Arial, sans-serif" font-size="27.50" textLength="28.73" lengthAdjust="spacingAndGlyphs" fill="#333333" stroke="#333333" stroke-width="0.3">1.0</text>
</svg>
</body></html>
